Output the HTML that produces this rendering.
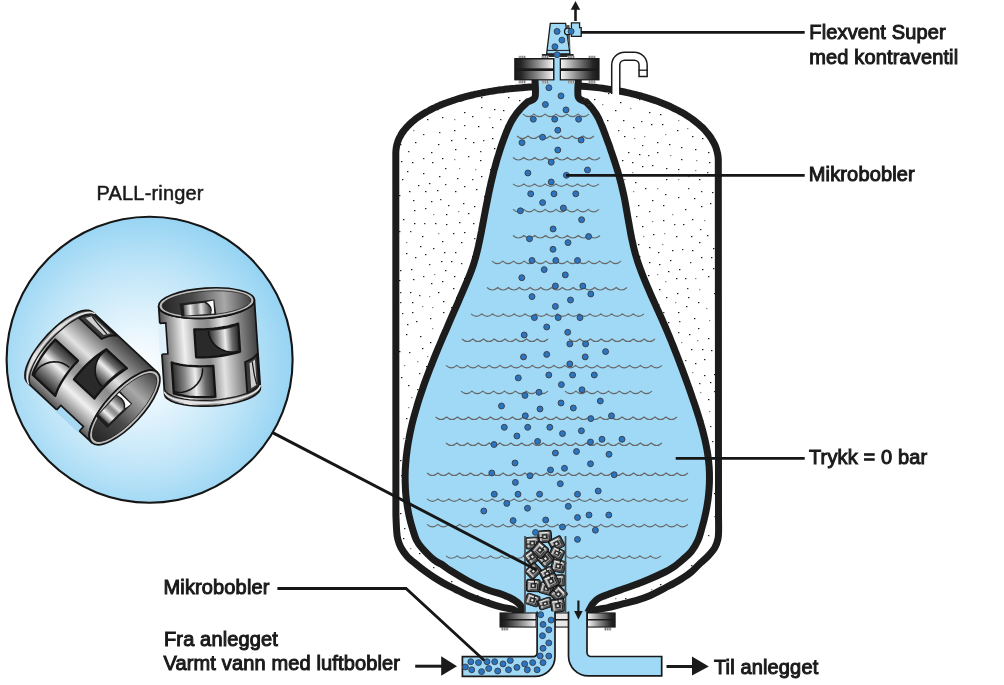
<!DOCTYPE html>
<html><head><meta charset="utf-8">
<style>
html,body{margin:0;padding:0;background:#ffffff;width:1004px;height:685px;overflow:hidden}
svg{display:block;will-change:transform}
text{font-family:"Liberation Sans",sans-serif;font-size:20px;fill:#1a1a1a}
.b{stroke:#1a1a1a;stroke-width:1px;letter-spacing:0.14px}
</style></head><body>
<svg width="1004" height="685" viewBox="0 0 1004 685">
<defs>
 <clipPath id="tankclip"><path d="M533.0,86.9 C532.0,87.0 528.9,87.1 526.9,87.2 C524.9,87.4 523.0,87.5 521.0,87.7 C519.0,87.8 517.1,88.0 515.2,88.2 C513.2,88.3 511.3,88.5 509.4,88.7 C507.5,88.9 505.7,89.2 503.8,89.4 C502.0,89.6 500.1,89.9 498.3,90.1 C496.5,90.4 494.7,90.7 492.9,91.0 C491.1,91.2 489.3,91.5 487.6,91.9 C485.8,92.2 484.1,92.5 482.4,92.8 C480.7,93.2 479.0,93.5 477.3,93.9 C475.6,94.2 474.0,94.6 472.3,95.0 C470.7,95.4 469.1,95.8 467.5,96.2 C465.9,96.6 464.3,97.0 462.8,97.5 C461.2,97.9 459.7,98.3 458.2,98.8 C456.7,99.3 455.2,99.7 453.7,100.2 C452.3,100.7 450.8,101.2 449.4,101.7 C448.0,102.2 446.6,102.7 445.2,103.2 C443.9,103.7 442.5,104.3 441.2,104.8 C439.9,105.4 438.6,105.9 437.3,106.5 C436.0,107.1 434.8,107.6 433.6,108.2 C432.4,108.8 431.2,109.4 430.0,110.0 C428.9,110.6 427.7,111.2 426.6,111.9 C425.5,112.5 424.4,113.1 423.4,113.8 C422.3,114.4 421.3,115.1 420.3,115.7 C419.3,116.4 418.3,117.1 417.4,117.7 C416.4,118.4 415.5,119.1 414.6,119.8 C413.8,120.5 412.9,121.2 412.1,121.9 C411.3,122.6 410.5,123.4 409.7,124.1 C408.9,124.8 408.2,125.6 407.5,126.3 C406.8,127.1 406.1,127.8 405.5,128.6 C404.9,129.3 404.2,130.1 403.7,130.9 C403.1,131.6 402.5,132.4 402.0,133.2 C401.5,134.0 401.0,134.8 400.6,135.6 C400.1,136.4 399.7,137.2 399.3,138.0 C398.9,138.9 398.6,139.7 398.2,140.5 C397.9,141.3 397.6,142.2 397.4,143.0 C397.1,143.9 396.9,144.7 396.7,145.6 C396.5,146.5 396.3,147.4 396.2,148.3 C396.1,149.2 396.0,150.0 395.9,151.0 C395.8,152.0 395.8,153.5 395.8,154.0 L395.9,515 C396.0,517.5 396.3,526.0 396.6,530.0 C396.9,534.0 397.0,535.9 397.7,538.8 C398.4,541.7 399.3,544.6 400.9,547.5 C402.5,550.4 404.5,553.5 407.1,556.3 C409.7,559.1 413.5,562.0 416.5,564.5 C419.5,567.0 422.1,569.1 425.0,571.2 C427.9,573.3 430.9,575.4 433.8,577.3 C436.7,579.2 439.1,580.6 442.6,582.6 C446.1,584.6 451.0,587.0 455.0,589.0 C459.0,591.0 462.8,593.1 466.7,594.9 C470.6,596.7 474.5,598.1 478.4,599.6 C482.3,601.1 486.1,602.4 490.0,603.6 C493.9,604.9 497.8,606.1 501.7,607.1 C505.6,608.1 510.7,608.5 513.4,609.5 C516.1,610.5 517.2,612.4 518.0,613.0 L590,613 C591.1,612.5 593.7,610.6 596.7,609.7 C599.7,608.8 603.7,608.5 607.9,607.6 C612.1,606.7 617.1,605.2 621.8,604.1 C626.4,603.0 631.1,602.1 635.8,600.7 C640.4,599.3 644.8,597.9 649.7,595.8 C654.6,593.7 661.0,590.1 665.0,588.0 C669.0,585.9 670.9,585.0 673.8,583.4 C676.7,581.8 679.6,580.1 682.5,578.2 C685.4,576.3 688.5,574.3 691.3,572.0 C694.0,569.7 696.2,567.1 699.0,564.5 C701.8,561.9 705.2,559.1 707.9,556.3 C710.5,553.5 713.2,550.4 714.9,547.5 C716.6,544.6 717.4,541.7 718.0,538.8 C718.6,535.9 718.5,534.0 718.6,530.0 C718.7,526.0 718.5,517.5 718.5,515.0 L718.3,161.1 C718.3,160.6 718.3,159.2 718.2,158.2 C718.1,157.3 718.0,156.4 717.9,155.4 C717.8,154.5 717.6,153.6 717.4,152.7 C717.2,151.8 716.9,150.8 716.7,149.9 C716.4,149.0 716.1,148.1 715.8,147.2 C715.4,146.3 715.1,145.4 714.7,144.5 C714.2,143.6 713.8,142.8 713.3,141.9 C712.9,141.0 712.4,140.1 711.8,139.3 C711.3,138.4 710.7,137.5 710.1,136.7 C709.5,135.8 708.9,134.9 708.2,134.1 C707.6,133.3 706.9,132.4 706.1,131.6 C705.4,130.7 704.7,129.9 703.9,129.1 C703.1,128.3 702.3,127.5 701.4,126.7 C700.6,125.9 699.7,125.1 698.8,124.3 C697.8,123.5 696.9,122.7 695.9,121.9 C695.0,121.2 694.0,120.4 692.9,119.6 C691.9,118.9 690.8,118.1 689.8,117.4 C688.7,116.7 687.6,115.9 686.4,115.2 C685.3,114.5 684.1,113.8 682.9,113.1 C681.7,112.4 680.5,111.7 679.2,111.1 C678.0,110.4 676.7,109.7 675.4,109.1 C674.1,108.4 672.8,107.8 671.4,107.1 C670.1,106.5 668.7,105.9 667.3,105.3 C665.9,104.7 664.5,104.1 663.1,103.5 C661.6,102.9 660.1,102.3 658.7,101.8 C657.2,101.2 655.7,100.7 654.1,100.1 C652.6,99.6 651.0,99.1 649.5,98.6 C647.9,98.1 646.3,97.6 644.7,97.1 C643.1,96.6 641.4,96.2 639.8,95.7 C638.1,95.3 636.5,94.8 634.8,94.4 C633.1,94.0 631.4,93.6 629.7,93.2 C628.0,92.8 626.2,92.4 624.5,92.0 C622.7,91.7 621.0,91.3 619.2,91.0 C617.4,90.6 615.6,90.3 613.8,90.0 C612.0,89.7 610.2,89.4 608.3,89.1 C606.5,88.8 604.7,88.6 602.8,88.3 C600.9,88.1 599.1,87.9 597.2,87.6 C595.3,87.4 593.4,87.2 591.5,87.0 C589.6,86.9 587.7,86.7 585.8,86.5 C583.9,86.4 581.0,86.2 580.0,86.1 Z"/></clipPath>
 <radialGradient id="circ" cx="140" cy="368" r="168" gradientUnits="userSpaceOnUse">
   <stop offset="0" stop-color="#ffffff"/><stop offset="0.25" stop-color="#e6f5fd"/><stop offset="0.6" stop-color="#bfe5f8"/><stop offset="0.85" stop-color="#9ed7f4"/><stop offset="1" stop-color="#8dcff1"/>
 </radialGradient>
 <linearGradient id="flL" x1="0" x2="1" y1="0" y2="0">
   <stop offset="0" stop-color="#1a1a1a"/><stop offset="0.15" stop-color="#262626"/><stop offset="0.6" stop-color="#8e8e8e"/><stop offset="1" stop-color="#f4f4f4"/>
 </linearGradient>
 <linearGradient id="flR" x1="0" x2="1" y1="0" y2="0">
   <stop offset="0" stop-color="#f4f4f4"/><stop offset="0.4" stop-color="#8e8e8e"/><stop offset="0.85" stop-color="#262626"/><stop offset="1" stop-color="#1a1a1a"/>
 </linearGradient>
 <linearGradient id="metal" x1="0" x2="1" y1="0" y2="0">
   <stop offset="0" stop-color="#505050"/><stop offset="0.08" stop-color="#8a8a8a"/><stop offset="0.24" stop-color="#f0f0f0"/>
   <stop offset="0.4" stop-color="#9a9a9a"/><stop offset="0.5" stop-color="#8c8c8c"/><stop offset="0.64" stop-color="#e2e2e2"/><stop offset="0.82" stop-color="#888888"/><stop offset="1" stop-color="#404040"/>
 </linearGradient>
  <linearGradient id="metalIn" x1="0" x2="1" y1="0" y2="0">
   <stop offset="0" stop-color="#262626"/><stop offset="0.35" stop-color="#4a4a4a"/><stop offset="0.7" stop-color="#a8a8a8"/><stop offset="1" stop-color="#444"/>
 </linearGradient>
 <radialGradient id="circfix1" cx="0" cy="0" r="1"><stop offset="0" stop-color="#a9d8f2"/><stop offset="1" stop-color="#a9d8f2"/></radialGradient>
 <radialGradient id="circfix2" cx="0" cy="0" r="1"><stop offset="0" stop-color="#dff1fb"/><stop offset="1" stop-color="#dff1fb"/></radialGradient>
 <linearGradient id="metalMini" x1="0" x2="1" y1="0" y2="0">
   <stop offset="0" stop-color="#2a2a2a"/><stop offset="0.25" stop-color="#bdbdbd"/><stop offset="0.45" stop-color="#5a5a5a"/><stop offset="0.65" stop-color="#c8c8c8"/><stop offset="1" stop-color="#2a2a2a"/>
 </linearGradient>
 <linearGradient id="metalD" x1="0" x2="1" y1="0" y2="0">
   <stop offset="0" stop-color="#2a2a2a"/><stop offset="0.3" stop-color="#8a8a8a"/><stop offset="0.55" stop-color="#eeeeee"/>
   <stop offset="0.78" stop-color="#6a6a6a"/><stop offset="1" stop-color="#2a2a2a"/>
 </linearGradient>
</defs>

<!-- tank body -->
<path d="M533.0,86.9 C532.0,87.0 528.9,87.1 526.9,87.2 C524.9,87.4 523.0,87.5 521.0,87.7 C519.0,87.8 517.1,88.0 515.2,88.2 C513.2,88.3 511.3,88.5 509.4,88.7 C507.5,88.9 505.7,89.2 503.8,89.4 C502.0,89.6 500.1,89.9 498.3,90.1 C496.5,90.4 494.7,90.7 492.9,91.0 C491.1,91.2 489.3,91.5 487.6,91.9 C485.8,92.2 484.1,92.5 482.4,92.8 C480.7,93.2 479.0,93.5 477.3,93.9 C475.6,94.2 474.0,94.6 472.3,95.0 C470.7,95.4 469.1,95.8 467.5,96.2 C465.9,96.6 464.3,97.0 462.8,97.5 C461.2,97.9 459.7,98.3 458.2,98.8 C456.7,99.3 455.2,99.7 453.7,100.2 C452.3,100.7 450.8,101.2 449.4,101.7 C448.0,102.2 446.6,102.7 445.2,103.2 C443.9,103.7 442.5,104.3 441.2,104.8 C439.9,105.4 438.6,105.9 437.3,106.5 C436.0,107.1 434.8,107.6 433.6,108.2 C432.4,108.8 431.2,109.4 430.0,110.0 C428.9,110.6 427.7,111.2 426.6,111.9 C425.5,112.5 424.4,113.1 423.4,113.8 C422.3,114.4 421.3,115.1 420.3,115.7 C419.3,116.4 418.3,117.1 417.4,117.7 C416.4,118.4 415.5,119.1 414.6,119.8 C413.8,120.5 412.9,121.2 412.1,121.9 C411.3,122.6 410.5,123.4 409.7,124.1 C408.9,124.8 408.2,125.6 407.5,126.3 C406.8,127.1 406.1,127.8 405.5,128.6 C404.9,129.3 404.2,130.1 403.7,130.9 C403.1,131.6 402.5,132.4 402.0,133.2 C401.5,134.0 401.0,134.8 400.6,135.6 C400.1,136.4 399.7,137.2 399.3,138.0 C398.9,138.9 398.6,139.7 398.2,140.5 C397.9,141.3 397.6,142.2 397.4,143.0 C397.1,143.9 396.9,144.7 396.7,145.6 C396.5,146.5 396.3,147.4 396.2,148.3 C396.1,149.2 396.0,150.0 395.9,151.0 C395.8,152.0 395.8,153.5 395.8,154.0 L395.9,515 C396.0,517.5 396.3,526.0 396.6,530.0 C396.9,534.0 397.0,535.9 397.7,538.8 C398.4,541.7 399.3,544.6 400.9,547.5 C402.5,550.4 404.5,553.5 407.1,556.3 C409.7,559.1 413.5,562.0 416.5,564.5 C419.5,567.0 422.1,569.1 425.0,571.2 C427.9,573.3 430.9,575.4 433.8,577.3 C436.7,579.2 439.1,580.6 442.6,582.6 C446.1,584.6 451.0,587.0 455.0,589.0 C459.0,591.0 462.8,593.1 466.7,594.9 C470.6,596.7 474.5,598.1 478.4,599.6 C482.3,601.1 486.1,602.4 490.0,603.6 C493.9,604.9 497.8,606.1 501.7,607.1 C505.6,608.1 510.7,608.5 513.4,609.5 C516.1,610.5 517.2,612.4 518.0,613.0 L590,613 C591.1,612.5 593.7,610.6 596.7,609.7 C599.7,608.8 603.7,608.5 607.9,607.6 C612.1,606.7 617.1,605.2 621.8,604.1 C626.4,603.0 631.1,602.1 635.8,600.7 C640.4,599.3 644.8,597.9 649.7,595.8 C654.6,593.7 661.0,590.1 665.0,588.0 C669.0,585.9 670.9,585.0 673.8,583.4 C676.7,581.8 679.6,580.1 682.5,578.2 C685.4,576.3 688.5,574.3 691.3,572.0 C694.0,569.7 696.2,567.1 699.0,564.5 C701.8,561.9 705.2,559.1 707.9,556.3 C710.5,553.5 713.2,550.4 714.9,547.5 C716.6,544.6 717.4,541.7 718.0,538.8 C718.6,535.9 718.5,534.0 718.6,530.0 C718.7,526.0 718.5,517.5 718.5,515.0 L718.3,161.1 C718.3,160.6 718.3,159.2 718.2,158.2 C718.1,157.3 718.0,156.4 717.9,155.4 C717.8,154.5 717.6,153.6 717.4,152.7 C717.2,151.8 716.9,150.8 716.7,149.9 C716.4,149.0 716.1,148.1 715.8,147.2 C715.4,146.3 715.1,145.4 714.7,144.5 C714.2,143.6 713.8,142.8 713.3,141.9 C712.9,141.0 712.4,140.1 711.8,139.3 C711.3,138.4 710.7,137.5 710.1,136.7 C709.5,135.8 708.9,134.9 708.2,134.1 C707.6,133.3 706.9,132.4 706.1,131.6 C705.4,130.7 704.7,129.9 703.9,129.1 C703.1,128.3 702.3,127.5 701.4,126.7 C700.6,125.9 699.7,125.1 698.8,124.3 C697.8,123.5 696.9,122.7 695.9,121.9 C695.0,121.2 694.0,120.4 692.9,119.6 C691.9,118.9 690.8,118.1 689.8,117.4 C688.7,116.7 687.6,115.9 686.4,115.2 C685.3,114.5 684.1,113.8 682.9,113.1 C681.7,112.4 680.5,111.7 679.2,111.1 C678.0,110.4 676.7,109.7 675.4,109.1 C674.1,108.4 672.8,107.8 671.4,107.1 C670.1,106.5 668.7,105.9 667.3,105.3 C665.9,104.7 664.5,104.1 663.1,103.5 C661.6,102.9 660.1,102.3 658.7,101.8 C657.2,101.2 655.7,100.7 654.1,100.1 C652.6,99.6 651.0,99.1 649.5,98.6 C647.9,98.1 646.3,97.6 644.7,97.1 C643.1,96.6 641.4,96.2 639.8,95.7 C638.1,95.3 636.5,94.8 634.8,94.4 C633.1,94.0 631.4,93.6 629.7,93.2 C628.0,92.8 626.2,92.4 624.5,92.0 C622.7,91.7 621.0,91.3 619.2,91.0 C617.4,90.6 615.6,90.3 613.8,90.0 C612.0,89.7 610.2,89.4 608.3,89.1 C606.5,88.8 604.7,88.6 602.8,88.3 C600.9,88.1 599.1,87.9 597.2,87.6 C595.3,87.4 593.4,87.2 591.5,87.0 C589.6,86.9 587.7,86.7 585.8,86.5 C583.9,86.4 581.0,86.2 580.0,86.1 Z" fill="#ffffff"/>
<g clip-path="url(#tankclip)" fill="#1a1a1a"><rect x="498" y="162" width="1.4" height="1.2" fill="#333333"/><rect x="607" y="120" width="1.4" height="1.2" fill="#1a1a1a"/><rect x="568" y="277" width="1.4" height="1.2" fill="#1a1a1a"/><rect x="409" y="352" width="1.4" height="1.2" fill="#333333"/><rect x="402" y="313" width="1.4" height="1.2" fill="#333333"/><rect x="413" y="130" width="1.4" height="1.2" fill="#8a8a8a"/><rect x="531" y="523" width="1.4" height="1.2" fill="#333333"/><rect x="431" y="201" width="1.4" height="1.2" fill="#1a1a1a"/><rect x="599" y="588" width="1.4" height="1.2" fill="#1a1a1a"/><rect x="582" y="293" width="1.4" height="1.2" fill="#8a8a8a"/><rect x="716" y="106" width="1.4" height="1.2" fill="#1a1a1a"/><rect x="676" y="236" width="1.4" height="1.2" fill="#1a1a1a"/><rect x="438" y="144" width="1.4" height="1.2" fill="#1a1a1a"/><rect x="493" y="517" width="1.4" height="1.2" fill="#333333"/><rect x="450" y="392" width="1.4" height="1.2" fill="#1a1a1a"/><rect x="603" y="280" width="1.4" height="1.2" fill="#1a1a1a"/><rect x="572" y="115" width="1.4" height="1.2" fill="#1a1a1a"/><rect x="409" y="191" width="1.4" height="1.2" fill="#1a1a1a"/><rect x="617" y="310" width="1.4" height="1.2" fill="#333333"/><rect x="494" y="394" width="1.4" height="1.2" fill="#8a8a8a"/><rect x="541" y="242" width="1.4" height="1.2" fill="#1a1a1a"/><rect x="655" y="455" width="1.4" height="1.2" fill="#333333"/><rect x="471" y="388" width="1.4" height="1.2" fill="#333333"/><rect x="565" y="549" width="1.4" height="1.2" fill="#1a1a1a"/><rect x="633" y="235" width="1.4" height="1.2" fill="#1a1a1a"/><rect x="717" y="145" width="1.4" height="1.2" fill="#1a1a1a"/><rect x="529" y="486" width="1.4" height="1.2" fill="#1a1a1a"/><rect x="440" y="343" width="1.4" height="1.2" fill="#8a8a8a"/><rect x="403" y="438" width="1.4" height="1.2" fill="#8a8a8a"/><rect x="645" y="387" width="1.4" height="1.2" fill="#333333"/><rect x="682" y="249" width="1.4" height="1.2" fill="#333333"/><rect x="622" y="399" width="1.4" height="1.2" fill="#8a8a8a"/><rect x="583" y="325" width="1.4" height="1.2" fill="#333333"/><rect x="670" y="586" width="1.4" height="1.2" fill="#1a1a1a"/><rect x="548" y="436" width="1.4" height="1.2" fill="#1a1a1a"/><rect x="410" y="456" width="1.4" height="1.2" fill="#1a1a1a"/><rect x="606" y="612" width="1.4" height="1.2" fill="#1a1a1a"/><rect x="664" y="233" width="1.4" height="1.2" fill="#8a8a8a"/><rect x="518" y="439" width="1.4" height="1.2" fill="#1a1a1a"/><rect x="397" y="328" width="1.4" height="1.2" fill="#8a8a8a"/><rect x="409" y="492" width="1.4" height="1.2" fill="#1a1a1a"/><rect x="433" y="214" width="1.4" height="1.2" fill="#8a8a8a"/><rect x="520" y="547" width="1.4" height="1.2" fill="#8a8a8a"/><rect x="416" y="321" width="1.4" height="1.2" fill="#1a1a1a"/><rect x="663" y="543" width="1.4" height="1.2" fill="#8a8a8a"/><rect x="482" y="303" width="1.4" height="1.2" fill="#1a1a1a"/><rect x="509" y="554" width="1.4" height="1.2" fill="#8a8a8a"/><rect x="709" y="162" width="1.4" height="1.2" fill="#1a1a1a"/><rect x="448" y="205" width="1.4" height="1.2" fill="#1a1a1a"/><rect x="467" y="340" width="1.4" height="1.2" fill="#1a1a1a"/><rect x="586" y="222" width="1.4" height="1.2" fill="#8a8a8a"/><rect x="391" y="305" width="1.4" height="1.2" fill="#1a1a1a"/><rect x="513" y="384" width="1.4" height="1.2" fill="#8a8a8a"/><rect x="708" y="450" width="1.4" height="1.2" fill="#1a1a1a"/><rect x="562" y="411" width="1.4" height="1.2" fill="#1a1a1a"/><rect x="615" y="110" width="1.4" height="1.2" fill="#1a1a1a"/><rect x="690" y="498" width="1.4" height="1.2" fill="#8a8a8a"/><rect x="682" y="508" width="1.4" height="1.2" fill="#8a8a8a"/><rect x="521" y="295" width="1.4" height="1.2" fill="#1a1a1a"/><rect x="424" y="420" width="1.4" height="1.2" fill="#333333"/><rect x="410" y="117" width="1.4" height="1.2" fill="#1a1a1a"/><rect x="459" y="168" width="1.4" height="1.2" fill="#8a8a8a"/><rect x="503" y="110" width="1.4" height="1.2" fill="#1a1a1a"/><rect x="390" y="162" width="1.4" height="1.2" fill="#1a1a1a"/><rect x="423" y="276" width="1.4" height="1.2" fill="#333333"/><rect x="398" y="548" width="1.4" height="1.2" fill="#1a1a1a"/><rect x="595" y="161" width="1.4" height="1.2" fill="#8a8a8a"/><rect x="474" y="267" width="1.4" height="1.2" fill="#8a8a8a"/><rect x="511" y="147" width="1.4" height="1.2" fill="#8a8a8a"/><rect x="673" y="612" width="1.4" height="1.2" fill="#8a8a8a"/><rect x="545" y="340" width="1.4" height="1.2" fill="#1a1a1a"/><rect x="504" y="223" width="1.4" height="1.2" fill="#1a1a1a"/><rect x="666" y="168" width="1.4" height="1.2" fill="#1a1a1a"/><rect x="397" y="589" width="1.4" height="1.2" fill="#1a1a1a"/><rect x="566" y="160" width="1.4" height="1.2" fill="#1a1a1a"/><rect x="571" y="96" width="1.4" height="1.2" fill="#1a1a1a"/><rect x="566" y="604" width="1.4" height="1.2" fill="#333333"/><rect x="678" y="453" width="1.4" height="1.2" fill="#1a1a1a"/><rect x="477" y="277" width="1.4" height="1.2" fill="#1a1a1a"/><rect x="445" y="494" width="1.4" height="1.2" fill="#1a1a1a"/><rect x="567" y="498" width="1.4" height="1.2" fill="#8a8a8a"/><rect x="500" y="201" width="1.4" height="1.2" fill="#333333"/><rect x="661" y="607" width="1.4" height="1.2" fill="#333333"/><rect x="663" y="477" width="1.4" height="1.2" fill="#1a1a1a"/><rect x="465" y="358" width="1.4" height="1.2" fill="#1a1a1a"/><rect x="508" y="97" width="1.4" height="1.2" fill="#1a1a1a"/><rect x="399" y="231" width="1.4" height="1.2" fill="#333333"/><rect x="476" y="451" width="1.4" height="1.2" fill="#1a1a1a"/><rect x="709" y="320" width="1.4" height="1.2" fill="#8a8a8a"/><rect x="702" y="609" width="1.4" height="1.2" fill="#333333"/><rect x="708" y="276" width="1.4" height="1.2" fill="#1a1a1a"/><rect x="463" y="203" width="1.4" height="1.2" fill="#1a1a1a"/><rect x="455" y="191" width="1.4" height="1.2" fill="#1a1a1a"/><rect x="598" y="562" width="1.4" height="1.2" fill="#1a1a1a"/><rect x="670" y="338" width="1.4" height="1.2" fill="#1a1a1a"/><rect x="608" y="509" width="1.4" height="1.2" fill="#1a1a1a"/><rect x="418" y="434" width="1.4" height="1.2" fill="#1a1a1a"/><rect x="640" y="337" width="1.4" height="1.2" fill="#1a1a1a"/><rect x="449" y="503" width="1.4" height="1.2" fill="#333333"/><rect x="501" y="509" width="1.4" height="1.2" fill="#8a8a8a"/><rect x="714" y="293" width="1.4" height="1.2" fill="#1a1a1a"/><rect x="524" y="587" width="1.4" height="1.2" fill="#1a1a1a"/><rect x="632" y="172" width="1.4" height="1.2" fill="#8a8a8a"/><rect x="432" y="162" width="1.4" height="1.2" fill="#1a1a1a"/><rect x="692" y="512" width="1.4" height="1.2" fill="#1a1a1a"/><rect x="438" y="523" width="1.4" height="1.2" fill="#8a8a8a"/><rect x="717" y="432" width="1.4" height="1.2" fill="#1a1a1a"/><rect x="507" y="374" width="1.4" height="1.2" fill="#8a8a8a"/><rect x="433" y="89" width="1.4" height="1.2" fill="#333333"/><rect x="565" y="580" width="1.4" height="1.2" fill="#333333"/><rect x="534" y="547" width="1.4" height="1.2" fill="#1a1a1a"/><rect x="665" y="194" width="1.4" height="1.2" fill="#1a1a1a"/><rect x="474" y="238" width="1.4" height="1.2" fill="#333333"/><rect x="433" y="567" width="1.4" height="1.2" fill="#333333"/><rect x="508" y="326" width="1.4" height="1.2" fill="#333333"/><rect x="584" y="564" width="1.4" height="1.2" fill="#1a1a1a"/><rect x="530" y="572" width="1.4" height="1.2" fill="#333333"/><rect x="557" y="365" width="1.4" height="1.2" fill="#1a1a1a"/><rect x="537" y="179" width="1.4" height="1.2" fill="#1a1a1a"/><rect x="391" y="508" width="1.4" height="1.2" fill="#8a8a8a"/><rect x="447" y="334" width="1.4" height="1.2" fill="#333333"/><rect x="632" y="379" width="1.4" height="1.2" fill="#1a1a1a"/><rect x="498" y="358" width="1.4" height="1.2" fill="#1a1a1a"/><rect x="425" y="381" width="1.4" height="1.2" fill="#1a1a1a"/><rect x="647" y="353" width="1.4" height="1.2" fill="#1a1a1a"/><rect x="577" y="487" width="1.4" height="1.2" fill="#1a1a1a"/><rect x="694" y="318" width="1.4" height="1.2" fill="#1a1a1a"/><rect x="594" y="351" width="1.4" height="1.2" fill="#1a1a1a"/><rect x="561" y="451" width="1.4" height="1.2" fill="#8a8a8a"/><rect x="541" y="366" width="1.4" height="1.2" fill="#1a1a1a"/><rect x="549" y="584" width="1.4" height="1.2" fill="#1a1a1a"/><rect x="623" y="550" width="1.4" height="1.2" fill="#1a1a1a"/><rect x="704" y="220" width="1.4" height="1.2" fill="#8a8a8a"/><rect x="576" y="585" width="1.4" height="1.2" fill="#1a1a1a"/><rect x="670" y="155" width="1.4" height="1.2" fill="#8a8a8a"/><rect x="430" y="318" width="1.4" height="1.2" fill="#333333"/><rect x="414" y="210" width="1.4" height="1.2" fill="#1a1a1a"/><rect x="651" y="561" width="1.4" height="1.2" fill="#1a1a1a"/><rect x="441" y="464" width="1.4" height="1.2" fill="#1a1a1a"/><rect x="610" y="158" width="1.4" height="1.2" fill="#8a8a8a"/><rect x="684" y="598" width="1.4" height="1.2" fill="#8a8a8a"/><rect x="463" y="590" width="1.4" height="1.2" fill="#1a1a1a"/><rect x="523" y="342" width="1.4" height="1.2" fill="#8a8a8a"/><rect x="720" y="526" width="1.4" height="1.2" fill="#333333"/><rect x="443" y="312" width="1.4" height="1.2" fill="#1a1a1a"/><rect x="562" y="263" width="1.4" height="1.2" fill="#8a8a8a"/><rect x="455" y="252" width="1.4" height="1.2" fill="#1a1a1a"/><rect x="631" y="92" width="1.4" height="1.2" fill="#1a1a1a"/><rect x="575" y="317" width="1.4" height="1.2" fill="#333333"/><rect x="396" y="259" width="1.4" height="1.2" fill="#1a1a1a"/><rect x="411" y="608" width="1.4" height="1.2" fill="#333333"/><rect x="653" y="600" width="1.4" height="1.2" fill="#8a8a8a"/><rect x="424" y="223" width="1.4" height="1.2" fill="#333333"/><rect x="480" y="151" width="1.4" height="1.2" fill="#333333"/><rect x="663" y="220" width="1.4" height="1.2" fill="#1a1a1a"/><rect x="580" y="456" width="1.4" height="1.2" fill="#1a1a1a"/><rect x="419" y="112" width="1.4" height="1.2" fill="#333333"/><rect x="414" y="583" width="1.4" height="1.2" fill="#1a1a1a"/><rect x="417" y="539" width="1.4" height="1.2" fill="#1a1a1a"/><rect x="541" y="263" width="1.4" height="1.2" fill="#1a1a1a"/><rect x="565" y="209" width="1.4" height="1.2" fill="#1a1a1a"/><rect x="494" y="244" width="1.4" height="1.2" fill="#333333"/><rect x="643" y="236" width="1.4" height="1.2" fill="#8a8a8a"/><rect x="557" y="176" width="1.4" height="1.2" fill="#1a1a1a"/><rect x="473" y="90" width="1.4" height="1.2" fill="#1a1a1a"/><rect x="702" y="138" width="1.4" height="1.2" fill="#1a1a1a"/><rect x="663" y="312" width="1.4" height="1.2" fill="#333333"/><rect x="555" y="527" width="1.4" height="1.2" fill="#1a1a1a"/><rect x="521" y="352" width="1.4" height="1.2" fill="#1a1a1a"/><rect x="619" y="606" width="1.4" height="1.2" fill="#333333"/><rect x="504" y="526" width="1.4" height="1.2" fill="#333333"/><rect x="626" y="421" width="1.4" height="1.2" fill="#1a1a1a"/><rect x="525" y="267" width="1.4" height="1.2" fill="#1a1a1a"/><rect x="408" y="151" width="1.4" height="1.2" fill="#333333"/><rect x="413" y="477" width="1.4" height="1.2" fill="#1a1a1a"/><rect x="475" y="169" width="1.4" height="1.2" fill="#8a8a8a"/><rect x="680" y="440" width="1.4" height="1.2" fill="#1a1a1a"/><rect x="484" y="211" width="1.4" height="1.2" fill="#1a1a1a"/><rect x="487" y="327" width="1.4" height="1.2" fill="#1a1a1a"/><rect x="477" y="595" width="1.4" height="1.2" fill="#1a1a1a"/><rect x="714" y="374" width="1.4" height="1.2" fill="#1a1a1a"/><rect x="493" y="272" width="1.4" height="1.2" fill="#333333"/><rect x="390" y="285" width="1.4" height="1.2" fill="#333333"/><rect x="548" y="350" width="1.4" height="1.2" fill="#8a8a8a"/><rect x="457" y="351" width="1.4" height="1.2" fill="#1a1a1a"/><rect x="391" y="223" width="1.4" height="1.2" fill="#1a1a1a"/><rect x="419" y="295" width="1.4" height="1.2" fill="#333333"/><rect x="403" y="94" width="1.4" height="1.2" fill="#1a1a1a"/><rect x="585" y="364" width="1.4" height="1.2" fill="#8a8a8a"/><rect x="640" y="433" width="1.4" height="1.2" fill="#1a1a1a"/><rect x="520" y="256" width="1.4" height="1.2" fill="#333333"/><rect x="404" y="528" width="1.4" height="1.2" fill="#333333"/><rect x="687" y="416" width="1.4" height="1.2" fill="#1a1a1a"/><rect x="635" y="515" width="1.4" height="1.2" fill="#1a1a1a"/><rect x="436" y="361" width="1.4" height="1.2" fill="#8a8a8a"/><rect x="658" y="523" width="1.4" height="1.2" fill="#1a1a1a"/><rect x="618" y="452" width="1.4" height="1.2" fill="#1a1a1a"/><rect x="466" y="98" width="1.4" height="1.2" fill="#1a1a1a"/><rect x="434" y="274" width="1.4" height="1.2" fill="#8a8a8a"/><rect x="425" y="528" width="1.4" height="1.2" fill="#1a1a1a"/><rect x="576" y="417" width="1.4" height="1.2" fill="#1a1a1a"/><rect x="599" y="445" width="1.4" height="1.2" fill="#1a1a1a"/><rect x="553" y="83" width="1.4" height="1.2" fill="#1a1a1a"/><rect x="636" y="216" width="1.4" height="1.2" fill="#333333"/><rect x="414" y="223" width="1.4" height="1.2" fill="#1a1a1a"/><rect x="633" y="191" width="1.4" height="1.2" fill="#8a8a8a"/><rect x="637" y="603" width="1.4" height="1.2" fill="#1a1a1a"/><rect x="554" y="286" width="1.4" height="1.2" fill="#1a1a1a"/><rect x="549" y="447" width="1.4" height="1.2" fill="#333333"/><rect x="646" y="411" width="1.4" height="1.2" fill="#1a1a1a"/><rect x="638" y="244" width="1.4" height="1.2" fill="#1a1a1a"/><rect x="579" y="88" width="1.4" height="1.2" fill="#8a8a8a"/><rect x="615" y="237" width="1.4" height="1.2" fill="#1a1a1a"/><rect x="562" y="330" width="1.4" height="1.2" fill="#1a1a1a"/><rect x="545" y="145" width="1.4" height="1.2" fill="#1a1a1a"/><rect x="688" y="188" width="1.4" height="1.2" fill="#333333"/><rect x="716" y="581" width="1.4" height="1.2" fill="#333333"/><rect x="663" y="598" width="1.4" height="1.2" fill="#8a8a8a"/><rect x="540" y="225" width="1.4" height="1.2" fill="#333333"/><rect x="460" y="392" width="1.4" height="1.2" fill="#1a1a1a"/><rect x="708" y="152" width="1.4" height="1.2" fill="#1a1a1a"/><rect x="663" y="353" width="1.4" height="1.2" fill="#1a1a1a"/><rect x="467" y="561" width="1.4" height="1.2" fill="#333333"/><rect x="552" y="95" width="1.4" height="1.2" fill="#1a1a1a"/><rect x="391" y="344" width="1.4" height="1.2" fill="#1a1a1a"/><rect x="495" y="530" width="1.4" height="1.2" fill="#8a8a8a"/><rect x="390" y="482" width="1.4" height="1.2" fill="#333333"/><rect x="699" y="462" width="1.4" height="1.2" fill="#333333"/><rect x="691" y="236" width="1.4" height="1.2" fill="#1a1a1a"/><rect x="723" y="396" width="1.4" height="1.2" fill="#1a1a1a"/><rect x="510" y="310" width="1.4" height="1.2" fill="#333333"/><rect x="481" y="107" width="1.4" height="1.2" fill="#333333"/><rect x="485" y="581" width="1.4" height="1.2" fill="#333333"/><rect x="473" y="223" width="1.4" height="1.2" fill="#1a1a1a"/><rect x="514" y="592" width="1.4" height="1.2" fill="#1a1a1a"/><rect x="704" y="375" width="1.4" height="1.2" fill="#1a1a1a"/><rect x="630" y="108" width="1.4" height="1.2" fill="#8a8a8a"/><rect x="634" y="322" width="1.4" height="1.2" fill="#1a1a1a"/><rect x="489" y="476" width="1.4" height="1.2" fill="#8a8a8a"/><rect x="716" y="220" width="1.4" height="1.2" fill="#1a1a1a"/><rect x="445" y="168" width="1.4" height="1.2" fill="#1a1a1a"/><rect x="556" y="199" width="1.4" height="1.2" fill="#8a8a8a"/><rect x="692" y="614" width="1.4" height="1.2" fill="#1a1a1a"/><rect x="540" y="156" width="1.4" height="1.2" fill="#8a8a8a"/><rect x="454" y="130" width="1.4" height="1.2" fill="#1a1a1a"/><rect x="504" y="130" width="1.4" height="1.2" fill="#8a8a8a"/><rect x="580" y="555" width="1.4" height="1.2" fill="#8a8a8a"/><rect x="640" y="302" width="1.4" height="1.2" fill="#1a1a1a"/><rect x="528" y="361" width="1.4" height="1.2" fill="#1a1a1a"/><rect x="678" y="197" width="1.4" height="1.2" fill="#333333"/><rect x="523" y="320" width="1.4" height="1.2" fill="#1a1a1a"/><rect x="708" y="535" width="1.4" height="1.2" fill="#333333"/><rect x="681" y="93" width="1.4" height="1.2" fill="#8a8a8a"/><rect x="400" y="460" width="1.4" height="1.2" fill="#1a1a1a"/><rect x="689" y="334" width="1.4" height="1.2" fill="#1a1a1a"/><rect x="520" y="576" width="1.4" height="1.2" fill="#1a1a1a"/><rect x="606" y="490" width="1.4" height="1.2" fill="#1a1a1a"/><rect x="542" y="376" width="1.4" height="1.2" fill="#1a1a1a"/><rect x="403" y="499" width="1.4" height="1.2" fill="#1a1a1a"/><rect x="467" y="573" width="1.4" height="1.2" fill="#1a1a1a"/><rect x="605" y="244" width="1.4" height="1.2" fill="#8a8a8a"/><rect x="602" y="455" width="1.4" height="1.2" fill="#8a8a8a"/><rect x="427" y="119" width="1.4" height="1.2" fill="#1a1a1a"/><rect x="565" y="393" width="1.4" height="1.2" fill="#8a8a8a"/><rect x="519" y="201" width="1.4" height="1.2" fill="#1a1a1a"/><rect x="590" y="87" width="1.4" height="1.2" fill="#1a1a1a"/><rect x="710" y="426" width="1.4" height="1.2" fill="#333333"/><rect x="468" y="213" width="1.4" height="1.2" fill="#1a1a1a"/><rect x="492" y="93" width="1.4" height="1.2" fill="#8a8a8a"/><rect x="530" y="219" width="1.4" height="1.2" fill="#8a8a8a"/><rect x="612" y="576" width="1.4" height="1.2" fill="#1a1a1a"/><rect x="617" y="187" width="1.4" height="1.2" fill="#1a1a1a"/><rect x="713" y="248" width="1.4" height="1.2" fill="#1a1a1a"/><rect x="663" y="205" width="1.4" height="1.2" fill="#1a1a1a"/><rect x="463" y="488" width="1.4" height="1.2" fill="#1a1a1a"/><rect x="464" y="304" width="1.4" height="1.2" fill="#1a1a1a"/><rect x="612" y="588" width="1.4" height="1.2" fill="#333333"/><rect x="438" y="292" width="1.4" height="1.2" fill="#1a1a1a"/><rect x="461" y="602" width="1.4" height="1.2" fill="#1a1a1a"/><rect x="437" y="109" width="1.4" height="1.2" fill="#1a1a1a"/><rect x="410" y="292" width="1.4" height="1.2" fill="#1a1a1a"/><rect x="689" y="553" width="1.4" height="1.2" fill="#333333"/><rect x="634" y="614" width="1.4" height="1.2" fill="#1a1a1a"/><rect x="701" y="257" width="1.4" height="1.2" fill="#1a1a1a"/><rect x="451" y="581" width="1.4" height="1.2" fill="#1a1a1a"/><rect x="639" y="99" width="1.4" height="1.2" fill="#1a1a1a"/><rect x="446" y="83" width="1.4" height="1.2" fill="#8a8a8a"/><rect x="483" y="269" width="1.4" height="1.2" fill="#1a1a1a"/><rect x="712" y="192" width="1.4" height="1.2" fill="#1a1a1a"/><rect x="406" y="334" width="1.4" height="1.2" fill="#1a1a1a"/><rect x="454" y="276" width="1.4" height="1.2" fill="#1a1a1a"/><rect x="401" y="115" width="1.4" height="1.2" fill="#8a8a8a"/><rect x="639" y="561" width="1.4" height="1.2" fill="#8a8a8a"/><rect x="709" y="411" width="1.4" height="1.2" fill="#8a8a8a"/><rect x="477" y="464" width="1.4" height="1.2" fill="#1a1a1a"/><rect x="495" y="229" width="1.4" height="1.2" fill="#1a1a1a"/><rect x="705" y="94" width="1.4" height="1.2" fill="#333333"/><rect x="709" y="591" width="1.4" height="1.2" fill="#333333"/><rect x="519" y="216" width="1.4" height="1.2" fill="#8a8a8a"/><rect x="533" y="345" width="1.4" height="1.2" fill="#1a1a1a"/><rect x="699" y="179" width="1.4" height="1.2" fill="#1a1a1a"/><rect x="664" y="494" width="1.4" height="1.2" fill="#333333"/><rect x="592" y="257" width="1.4" height="1.2" fill="#1a1a1a"/><rect x="651" y="124" width="1.4" height="1.2" fill="#1a1a1a"/><rect x="472" y="116" width="1.4" height="1.2" fill="#1a1a1a"/><rect x="401" y="377" width="1.4" height="1.2" fill="#1a1a1a"/><rect x="498" y="605" width="1.4" height="1.2" fill="#1a1a1a"/><rect x="478" y="126" width="1.4" height="1.2" fill="#1a1a1a"/><rect x="422" y="348" width="1.4" height="1.2" fill="#1a1a1a"/><rect x="639" y="534" width="1.4" height="1.2" fill="#8a8a8a"/><rect x="611" y="146" width="1.4" height="1.2" fill="#8a8a8a"/><rect x="579" y="281" width="1.4" height="1.2" fill="#1a1a1a"/><rect x="441" y="554" width="1.4" height="1.2" fill="#1a1a1a"/><rect x="583" y="256" width="1.4" height="1.2" fill="#8a8a8a"/><rect x="522" y="611" width="1.4" height="1.2" fill="#1a1a1a"/><rect x="660" y="430" width="1.4" height="1.2" fill="#1a1a1a"/><rect x="548" y="519" width="1.4" height="1.2" fill="#333333"/><rect x="670" y="570" width="1.4" height="1.2" fill="#333333"/><rect x="429" y="183" width="1.4" height="1.2" fill="#1a1a1a"/><rect x="679" y="321" width="1.4" height="1.2" fill="#333333"/><rect x="476" y="497" width="1.4" height="1.2" fill="#333333"/><rect x="589" y="413" width="1.4" height="1.2" fill="#1a1a1a"/><rect x="437" y="190" width="1.4" height="1.2" fill="#1a1a1a"/><rect x="475" y="402" width="1.4" height="1.2" fill="#1a1a1a"/><rect x="607" y="190" width="1.4" height="1.2" fill="#1a1a1a"/><rect x="494" y="190" width="1.4" height="1.2" fill="#8a8a8a"/><rect x="655" y="374" width="1.4" height="1.2" fill="#8a8a8a"/><rect x="522" y="375" width="1.4" height="1.2" fill="#1a1a1a"/><rect x="603" y="130" width="1.4" height="1.2" fill="#1a1a1a"/><rect x="444" y="453" width="1.4" height="1.2" fill="#1a1a1a"/><rect x="526" y="233" width="1.4" height="1.2" fill="#1a1a1a"/><rect x="492" y="591" width="1.4" height="1.2" fill="#1a1a1a"/><rect x="494" y="384" width="1.4" height="1.2" fill="#8a8a8a"/><rect x="511" y="187" width="1.4" height="1.2" fill="#333333"/><rect x="391" y="563" width="1.4" height="1.2" fill="#8a8a8a"/><rect x="543" y="168" width="1.4" height="1.2" fill="#8a8a8a"/><rect x="438" y="233" width="1.4" height="1.2" fill="#8a8a8a"/><rect x="455" y="149" width="1.4" height="1.2" fill="#1a1a1a"/><rect x="551" y="110" width="1.4" height="1.2" fill="#333333"/><rect x="699" y="289" width="1.4" height="1.2" fill="#8a8a8a"/><rect x="652" y="200" width="1.4" height="1.2" fill="#1a1a1a"/><rect x="525" y="533" width="1.4" height="1.2" fill="#333333"/><rect x="666" y="179" width="1.4" height="1.2" fill="#1a1a1a"/><rect x="669" y="144" width="1.4" height="1.2" fill="#1a1a1a"/><rect x="590" y="375" width="1.4" height="1.2" fill="#1a1a1a"/><rect x="530" y="393" width="1.4" height="1.2" fill="#1a1a1a"/><rect x="532" y="433" width="1.4" height="1.2" fill="#8a8a8a"/><rect x="539" y="316" width="1.4" height="1.2" fill="#8a8a8a"/><rect x="397" y="412" width="1.4" height="1.2" fill="#1a1a1a"/><rect x="645" y="498" width="1.4" height="1.2" fill="#1a1a1a"/><rect x="560" y="103" width="1.4" height="1.2" fill="#1a1a1a"/><rect x="634" y="497" width="1.4" height="1.2" fill="#1a1a1a"/><rect x="695" y="170" width="1.4" height="1.2" fill="#8a8a8a"/><rect x="653" y="578" width="1.4" height="1.2" fill="#1a1a1a"/><rect x="411" y="269" width="1.4" height="1.2" fill="#1a1a1a"/><rect x="642" y="166" width="1.4" height="1.2" fill="#1a1a1a"/><rect x="557" y="573" width="1.4" height="1.2" fill="#1a1a1a"/><rect x="459" y="222" width="1.4" height="1.2" fill="#1a1a1a"/><rect x="559" y="252" width="1.4" height="1.2" fill="#8a8a8a"/><rect x="402" y="179" width="1.4" height="1.2" fill="#1a1a1a"/><rect x="617" y="560" width="1.4" height="1.2" fill="#333333"/><rect x="681" y="378" width="1.4" height="1.2" fill="#8a8a8a"/><rect x="424" y="612" width="1.4" height="1.2" fill="#1a1a1a"/><rect x="600" y="292" width="1.4" height="1.2" fill="#8a8a8a"/><rect x="510" y="490" width="1.4" height="1.2" fill="#1a1a1a"/><rect x="585" y="436" width="1.4" height="1.2" fill="#333333"/><rect x="494" y="82" width="1.4" height="1.2" fill="#1a1a1a"/><rect x="401" y="161" width="1.4" height="1.2" fill="#1a1a1a"/><rect x="595" y="312" width="1.4" height="1.2" fill="#1a1a1a"/><rect x="561" y="560" width="1.4" height="1.2" fill="#1a1a1a"/><rect x="608" y="93" width="1.4" height="1.2" fill="#1a1a1a"/><rect x="390" y="271" width="1.4" height="1.2" fill="#1a1a1a"/><rect x="586" y="191" width="1.4" height="1.2" fill="#333333"/><rect x="598" y="335" width="1.4" height="1.2" fill="#1a1a1a"/><rect x="435" y="582" width="1.4" height="1.2" fill="#333333"/><rect x="393" y="426" width="1.4" height="1.2" fill="#333333"/><rect x="577" y="269" width="1.4" height="1.2" fill="#1a1a1a"/><rect x="605" y="318" width="1.4" height="1.2" fill="#1a1a1a"/><rect x="703" y="473" width="1.4" height="1.2" fill="#1a1a1a"/><rect x="404" y="365" width="1.4" height="1.2" fill="#8a8a8a"/><rect x="525" y="208" width="1.4" height="1.2" fill="#333333"/><rect x="456" y="406" width="1.4" height="1.2" fill="#1a1a1a"/><rect x="559" y="424" width="1.4" height="1.2" fill="#1a1a1a"/><rect x="406" y="556" width="1.4" height="1.2" fill="#1a1a1a"/><rect x="651" y="464" width="1.4" height="1.2" fill="#1a1a1a"/><rect x="392" y="532" width="1.4" height="1.2" fill="#8a8a8a"/><rect x="465" y="138" width="1.4" height="1.2" fill="#1a1a1a"/><rect x="502" y="482" width="1.4" height="1.2" fill="#1a1a1a"/><rect x="622" y="533" width="1.4" height="1.2" fill="#333333"/><rect x="627" y="224" width="1.4" height="1.2" fill="#8a8a8a"/><rect x="653" y="361" width="1.4" height="1.2" fill="#1a1a1a"/><rect x="478" y="424" width="1.4" height="1.2" fill="#8a8a8a"/><rect x="638" y="586" width="1.4" height="1.2" fill="#1a1a1a"/><rect x="639" y="256" width="1.4" height="1.2" fill="#1a1a1a"/><rect x="536" y="468" width="1.4" height="1.2" fill="#1a1a1a"/><rect x="580" y="246" width="1.4" height="1.2" fill="#1a1a1a"/><rect x="415" y="568" width="1.4" height="1.2" fill="#1a1a1a"/><rect x="425" y="578" width="1.4" height="1.2" fill="#1a1a1a"/><rect x="399" y="104" width="1.4" height="1.2" fill="#1a1a1a"/><rect x="622" y="475" width="1.4" height="1.2" fill="#1a1a1a"/><rect x="411" y="397" width="1.4" height="1.2" fill="#8a8a8a"/><rect x="511" y="518" width="1.4" height="1.2" fill="#1a1a1a"/><rect x="663" y="557" width="1.4" height="1.2" fill="#1a1a1a"/><rect x="695" y="586" width="1.4" height="1.2" fill="#333333"/><rect x="425" y="191" width="1.4" height="1.2" fill="#1a1a1a"/><rect x="427" y="100" width="1.4" height="1.2" fill="#1a1a1a"/><rect x="673" y="515" width="1.4" height="1.2" fill="#1a1a1a"/><rect x="601" y="522" width="1.4" height="1.2" fill="#1a1a1a"/><rect x="600" y="235" width="1.4" height="1.2" fill="#333333"/><rect x="423" y="134" width="1.4" height="1.2" fill="#333333"/><rect x="496" y="308" width="1.4" height="1.2" fill="#8a8a8a"/><rect x="711" y="350" width="1.4" height="1.2" fill="#1a1a1a"/><rect x="674" y="412" width="1.4" height="1.2" fill="#1a1a1a"/><rect x="400" y="302" width="1.4" height="1.2" fill="#333333"/><rect x="535" y="494" width="1.4" height="1.2" fill="#1a1a1a"/><rect x="505" y="458" width="1.4" height="1.2" fill="#1a1a1a"/><rect x="569" y="197" width="1.4" height="1.2" fill="#8a8a8a"/><rect x="677" y="130" width="1.4" height="1.2" fill="#1a1a1a"/><rect x="390" y="189" width="1.4" height="1.2" fill="#333333"/><rect x="554" y="507" width="1.4" height="1.2" fill="#1a1a1a"/><rect x="477" y="586" width="1.4" height="1.2" fill="#1a1a1a"/><rect x="484" y="196" width="1.4" height="1.2" fill="#1a1a1a"/><rect x="623" y="348" width="1.4" height="1.2" fill="#333333"/><rect x="417" y="502" width="1.4" height="1.2" fill="#8a8a8a"/><rect x="622" y="502" width="1.4" height="1.2" fill="#1a1a1a"/><rect x="599" y="271" width="1.4" height="1.2" fill="#1a1a1a"/><rect x="687" y="128" width="1.4" height="1.2" fill="#8a8a8a"/><rect x="691" y="349" width="1.4" height="1.2" fill="#1a1a1a"/><rect x="468" y="328" width="1.4" height="1.2" fill="#1a1a1a"/><rect x="567" y="484" width="1.4" height="1.2" fill="#1a1a1a"/><rect x="506" y="256" width="1.4" height="1.2" fill="#1a1a1a"/><rect x="611" y="478" width="1.4" height="1.2" fill="#1a1a1a"/><rect x="432" y="328" width="1.4" height="1.2" fill="#8a8a8a"/><rect x="685" y="209" width="1.4" height="1.2" fill="#1a1a1a"/><rect x="472" y="256" width="1.4" height="1.2" fill="#1a1a1a"/><rect x="715" y="471" width="1.4" height="1.2" fill="#1a1a1a"/><rect x="424" y="595" width="1.4" height="1.2" fill="#333333"/><rect x="718" y="506" width="1.4" height="1.2" fill="#1a1a1a"/><rect x="455" y="422" width="1.4" height="1.2" fill="#1a1a1a"/><rect x="519" y="100" width="1.4" height="1.2" fill="#1a1a1a"/><rect x="523" y="504" width="1.4" height="1.2" fill="#1a1a1a"/><rect x="437" y="404" width="1.4" height="1.2" fill="#1a1a1a"/><rect x="525" y="477" width="1.4" height="1.2" fill="#8a8a8a"/><rect x="494" y="417" width="1.4" height="1.2" fill="#1a1a1a"/><rect x="422" y="306" width="1.4" height="1.2" fill="#8a8a8a"/><rect x="600" y="215" width="1.4" height="1.2" fill="#333333"/><rect x="451" y="431" width="1.4" height="1.2" fill="#333333"/><rect x="649" y="289" width="1.4" height="1.2" fill="#8a8a8a"/><rect x="553" y="602" width="1.4" height="1.2" fill="#333333"/><rect x="704" y="359" width="1.4" height="1.2" fill="#1a1a1a"/><rect x="570" y="465" width="1.4" height="1.2" fill="#8a8a8a"/><rect x="460" y="447" width="1.4" height="1.2" fill="#1a1a1a"/><rect x="530" y="454" width="1.4" height="1.2" fill="#1a1a1a"/><rect x="464" y="477" width="1.4" height="1.2" fill="#1a1a1a"/><rect x="463" y="509" width="1.4" height="1.2" fill="#1a1a1a"/><rect x="433" y="496" width="1.4" height="1.2" fill="#1a1a1a"/><rect x="660" y="420" width="1.4" height="1.2" fill="#333333"/><rect x="507" y="423" width="1.4" height="1.2" fill="#1a1a1a"/><rect x="573" y="148" width="1.4" height="1.2" fill="#8a8a8a"/><rect x="668" y="271" width="1.4" height="1.2" fill="#1a1a1a"/><rect x="674" y="224" width="1.4" height="1.2" fill="#333333"/><rect x="390" y="467" width="1.4" height="1.2" fill="#1a1a1a"/><rect x="490" y="338" width="1.4" height="1.2" fill="#8a8a8a"/><rect x="533" y="422" width="1.4" height="1.2" fill="#8a8a8a"/><rect x="423" y="158" width="1.4" height="1.2" fill="#333333"/><rect x="593" y="499" width="1.4" height="1.2" fill="#1a1a1a"/><rect x="575" y="223" width="1.4" height="1.2" fill="#8a8a8a"/><rect x="468" y="156" width="1.4" height="1.2" fill="#333333"/><rect x="612" y="530" width="1.4" height="1.2" fill="#1a1a1a"/><rect x="710" y="122" width="1.4" height="1.2" fill="#1a1a1a"/><rect x="602" y="421" width="1.4" height="1.2" fill="#1a1a1a"/><rect x="560" y="340" width="1.4" height="1.2" fill="#1a1a1a"/><rect x="689" y="100" width="1.4" height="1.2" fill="#8a8a8a"/><rect x="503" y="542" width="1.4" height="1.2" fill="#8a8a8a"/><rect x="512" y="335" width="1.4" height="1.2" fill="#1a1a1a"/><rect x="460" y="314" width="1.4" height="1.2" fill="#1a1a1a"/><rect x="666" y="297" width="1.4" height="1.2" fill="#1a1a1a"/><rect x="558" y="227" width="1.4" height="1.2" fill="#8a8a8a"/><rect x="406" y="242" width="1.4" height="1.2" fill="#8a8a8a"/><rect x="697" y="407" width="1.4" height="1.2" fill="#8a8a8a"/><rect x="612" y="326" width="1.4" height="1.2" fill="#1a1a1a"/><rect x="644" y="136" width="1.4" height="1.2" fill="#8a8a8a"/><rect x="450" y="101" width="1.4" height="1.2" fill="#333333"/><rect x="648" y="570" width="1.4" height="1.2" fill="#1a1a1a"/><rect x="408" y="385" width="1.4" height="1.2" fill="#1a1a1a"/><rect x="660" y="389" width="1.4" height="1.2" fill="#1a1a1a"/><rect x="587" y="582" width="1.4" height="1.2" fill="#1a1a1a"/><rect x="717" y="335" width="1.4" height="1.2" fill="#1a1a1a"/><rect x="527" y="136" width="1.4" height="1.2" fill="#1a1a1a"/><rect x="391" y="447" width="1.4" height="1.2" fill="#333333"/><rect x="635" y="182" width="1.4" height="1.2" fill="#1a1a1a"/><rect x="633" y="127" width="1.4" height="1.2" fill="#1a1a1a"/><rect x="662" y="124" width="1.4" height="1.2" fill="#1a1a1a"/><rect x="445" y="541" width="1.4" height="1.2" fill="#1a1a1a"/><rect x="536" y="443" width="1.4" height="1.2" fill="#8a8a8a"/><rect x="438" y="507" width="1.4" height="1.2" fill="#1a1a1a"/><rect x="705" y="500" width="1.4" height="1.2" fill="#1a1a1a"/><rect x="624" y="523" width="1.4" height="1.2" fill="#1a1a1a"/><rect x="500" y="405" width="1.4" height="1.2" fill="#333333"/><rect x="590" y="246" width="1.4" height="1.2" fill="#333333"/><rect x="574" y="507" width="1.4" height="1.2" fill="#333333"/><rect x="701" y="206" width="1.4" height="1.2" fill="#1a1a1a"/><rect x="545" y="192" width="1.4" height="1.2" fill="#1a1a1a"/><rect x="475" y="483" width="1.4" height="1.2" fill="#1a1a1a"/><rect x="654" y="327" width="1.4" height="1.2" fill="#8a8a8a"/><rect x="419" y="512" width="1.4" height="1.2" fill="#333333"/><rect x="685" y="360" width="1.4" height="1.2" fill="#333333"/><rect x="549" y="396" width="1.4" height="1.2" fill="#1a1a1a"/><rect x="723" y="281" width="1.4" height="1.2" fill="#333333"/><rect x="652" y="165" width="1.4" height="1.2" fill="#1a1a1a"/><rect x="589" y="266" width="1.4" height="1.2" fill="#1a1a1a"/><rect x="401" y="610" width="1.4" height="1.2" fill="#1a1a1a"/><rect x="650" y="309" width="1.4" height="1.2" fill="#1a1a1a"/><rect x="457" y="178" width="1.4" height="1.2" fill="#1a1a1a"/><rect x="576" y="546" width="1.4" height="1.2" fill="#333333"/><rect x="693" y="116" width="1.4" height="1.2" fill="#1a1a1a"/><rect x="613" y="291" width="1.4" height="1.2" fill="#8a8a8a"/><rect x="712" y="611" width="1.4" height="1.2" fill="#8a8a8a"/><rect x="691" y="565" width="1.4" height="1.2" fill="#1a1a1a"/><rect x="669" y="107" width="1.4" height="1.2" fill="#1a1a1a"/><rect x="587" y="486" width="1.4" height="1.2" fill="#1a1a1a"/><rect x="425" y="254" width="1.4" height="1.2" fill="#1a1a1a"/><rect x="616" y="88" width="1.4" height="1.2" fill="#1a1a1a"/><rect x="402" y="577" width="1.4" height="1.2" fill="#1a1a1a"/><rect x="679" y="556" width="1.4" height="1.2" fill="#1a1a1a"/><rect x="464" y="112" width="1.4" height="1.2" fill="#1a1a1a"/><rect x="670" y="260" width="1.4" height="1.2" fill="#1a1a1a"/><rect x="496" y="564" width="1.4" height="1.2" fill="#1a1a1a"/><rect x="549" y="234" width="1.4" height="1.2" fill="#1a1a1a"/><rect x="476" y="189" width="1.4" height="1.2" fill="#1a1a1a"/><rect x="511" y="611" width="1.4" height="1.2" fill="#1a1a1a"/><rect x="422" y="236" width="1.4" height="1.2" fill="#1a1a1a"/><rect x="716" y="90" width="1.4" height="1.2" fill="#8a8a8a"/><rect x="659" y="264" width="1.4" height="1.2" fill="#1a1a1a"/><rect x="667" y="363" width="1.4" height="1.2" fill="#333333"/><rect x="694" y="198" width="1.4" height="1.2" fill="#1a1a1a"/><rect x="580" y="155" width="1.4" height="1.2" fill="#8a8a8a"/><rect x="452" y="526" width="1.4" height="1.2" fill="#1a1a1a"/><rect x="512" y="169" width="1.4" height="1.2" fill="#333333"/><rect x="513" y="399" width="1.4" height="1.2" fill="#1a1a1a"/><rect x="391" y="359" width="1.4" height="1.2" fill="#1a1a1a"/><rect x="538" y="357" width="1.4" height="1.2" fill="#8a8a8a"/><rect x="430" y="463" width="1.4" height="1.2" fill="#8a8a8a"/><rect x="517" y="483" width="1.4" height="1.2" fill="#8a8a8a"/><rect x="410" y="548" width="1.4" height="1.2" fill="#8a8a8a"/><rect x="473" y="518" width="1.4" height="1.2" fill="#1a1a1a"/><rect x="400" y="133" width="1.4" height="1.2" fill="#1a1a1a"/><rect x="395" y="402" width="1.4" height="1.2" fill="#333333"/><rect x="624" y="136" width="1.4" height="1.2" fill="#1a1a1a"/><rect x="680" y="464" width="1.4" height="1.2" fill="#1a1a1a"/><rect x="525" y="155" width="1.4" height="1.2" fill="#1a1a1a"/><rect x="587" y="541" width="1.4" height="1.2" fill="#8a8a8a"/><rect x="439" y="387" width="1.4" height="1.2" fill="#1a1a1a"/><rect x="519" y="306" width="1.4" height="1.2" fill="#333333"/><rect x="649" y="262" width="1.4" height="1.2" fill="#1a1a1a"/><rect x="535" y="605" width="1.4" height="1.2" fill="#333333"/><rect x="658" y="569" width="1.4" height="1.2" fill="#333333"/><rect x="702" y="420" width="1.4" height="1.2" fill="#1a1a1a"/><rect x="563" y="313" width="1.4" height="1.2" fill="#333333"/><rect x="707" y="235" width="1.4" height="1.2" fill="#1a1a1a"/><rect x="492" y="427" width="1.4" height="1.2" fill="#1a1a1a"/><rect x="431" y="152" width="1.4" height="1.2" fill="#1a1a1a"/><rect x="419" y="373" width="1.4" height="1.2" fill="#333333"/><rect x="457" y="461" width="1.4" height="1.2" fill="#1a1a1a"/><rect x="493" y="211" width="1.4" height="1.2" fill="#1a1a1a"/><rect x="575" y="344" width="1.4" height="1.2" fill="#1a1a1a"/><rect x="485" y="609" width="1.4" height="1.2" fill="#1a1a1a"/><rect x="488" y="494" width="1.4" height="1.2" fill="#333333"/><rect x="442" y="117" width="1.4" height="1.2" fill="#1a1a1a"/><rect x="441" y="261" width="1.4" height="1.2" fill="#1a1a1a"/><rect x="507" y="442" width="1.4" height="1.2" fill="#1a1a1a"/><rect x="595" y="535" width="1.4" height="1.2" fill="#333333"/><rect x="636" y="478" width="1.4" height="1.2" fill="#8a8a8a"/><rect x="695" y="149" width="1.4" height="1.2" fill="#1a1a1a"/><rect x="581" y="305" width="1.4" height="1.2" fill="#333333"/><rect x="651" y="548" width="1.4" height="1.2" fill="#8a8a8a"/><rect x="592" y="284" width="1.4" height="1.2" fill="#1a1a1a"/><rect x="541" y="326" width="1.4" height="1.2" fill="#1a1a1a"/><rect x="652" y="535" width="1.4" height="1.2" fill="#1a1a1a"/><rect x="584" y="128" width="1.4" height="1.2" fill="#1a1a1a"/><rect x="671" y="529" width="1.4" height="1.2" fill="#1a1a1a"/><rect x="569" y="615" width="1.4" height="1.2" fill="#333333"/><rect x="615" y="362" width="1.4" height="1.2" fill="#1a1a1a"/><rect x="722" y="265" width="1.4" height="1.2" fill="#1a1a1a"/><rect x="567" y="517" width="1.4" height="1.2" fill="#1a1a1a"/><rect x="561" y="141" width="1.4" height="1.2" fill="#8a8a8a"/><rect x="688" y="450" width="1.4" height="1.2" fill="#1a1a1a"/><rect x="686" y="306" width="1.4" height="1.2" fill="#1a1a1a"/><rect x="560" y="351" width="1.4" height="1.2" fill="#1a1a1a"/><rect x="600" y="404" width="1.4" height="1.2" fill="#1a1a1a"/><rect x="602" y="104" width="1.4" height="1.2" fill="#8a8a8a"/><rect x="492" y="450" width="1.4" height="1.2" fill="#333333"/><rect x="391" y="244" width="1.4" height="1.2" fill="#8a8a8a"/><rect x="671" y="395" width="1.4" height="1.2" fill="#333333"/><rect x="556" y="377" width="1.4" height="1.2" fill="#1a1a1a"/><rect x="423" y="173" width="1.4" height="1.2" fill="#1a1a1a"/><rect x="594" y="512" width="1.4" height="1.2" fill="#8a8a8a"/><rect x="628" y="270" width="1.4" height="1.2" fill="#1a1a1a"/><rect x="446" y="224" width="1.4" height="1.2" fill="#1a1a1a"/><rect x="540" y="287" width="1.4" height="1.2" fill="#1a1a1a"/><rect x="584" y="594" width="1.4" height="1.2" fill="#333333"/><rect x="536" y="413" width="1.4" height="1.2" fill="#1a1a1a"/><rect x="662" y="244" width="1.4" height="1.2" fill="#8a8a8a"/><rect x="471" y="290" width="1.4" height="1.2" fill="#1a1a1a"/><rect x="493" y="549" width="1.4" height="1.2" fill="#8a8a8a"/><rect x="568" y="287" width="1.4" height="1.2" fill="#1a1a1a"/><rect x="524" y="116" width="1.4" height="1.2" fill="#333333"/><rect x="507" y="212" width="1.4" height="1.2" fill="#1a1a1a"/><rect x="453" y="233" width="1.4" height="1.2" fill="#1a1a1a"/><rect x="611" y="264" width="1.4" height="1.2" fill="#8a8a8a"/><rect x="507" y="467" width="1.4" height="1.2" fill="#1a1a1a"/><rect x="690" y="395" width="1.4" height="1.2" fill="#1a1a1a"/><rect x="681" y="147" width="1.4" height="1.2" fill="#1a1a1a"/><rect x="520" y="127" width="1.4" height="1.2" fill="#1a1a1a"/><rect x="497" y="435" width="1.4" height="1.2" fill="#8a8a8a"/><rect x="510" y="349" width="1.4" height="1.2" fill="#333333"/><rect x="489" y="117" width="1.4" height="1.2" fill="#8a8a8a"/><rect x="684" y="541" width="1.4" height="1.2" fill="#333333"/><rect x="623" y="214" width="1.4" height="1.2" fill="#333333"/><rect x="600" y="179" width="1.4" height="1.2" fill="#8a8a8a"/><rect x="635" y="462" width="1.4" height="1.2" fill="#1a1a1a"/><rect x="491" y="285" width="1.4" height="1.2" fill="#8a8a8a"/><rect x="506" y="82" width="1.4" height="1.2" fill="#1a1a1a"/><rect x="427" y="504" width="1.4" height="1.2" fill="#8a8a8a"/><rect x="639" y="524" width="1.4" height="1.2" fill="#8a8a8a"/><rect x="706" y="308" width="1.4" height="1.2" fill="#8a8a8a"/><rect x="624" y="512" width="1.4" height="1.2" fill="#333333"/><rect x="477" y="373" width="1.4" height="1.2" fill="#8a8a8a"/><rect x="527" y="189" width="1.4" height="1.2" fill="#333333"/><rect x="626" y="439" width="1.4" height="1.2" fill="#1a1a1a"/><rect x="702" y="269" width="1.4" height="1.2" fill="#1a1a1a"/><rect x="410" y="231" width="1.4" height="1.2" fill="#333333"/><rect x="498" y="332" width="1.4" height="1.2" fill="#1a1a1a"/><rect x="413" y="87" width="1.4" height="1.2" fill="#1a1a1a"/><rect x="721" y="482" width="1.4" height="1.2" fill="#1a1a1a"/><rect x="418" y="464" width="1.4" height="1.2" fill="#1a1a1a"/><rect x="499" y="180" width="1.4" height="1.2" fill="#1a1a1a"/><rect x="442" y="241" width="1.4" height="1.2" fill="#1a1a1a"/><rect x="619" y="169" width="1.4" height="1.2" fill="#1a1a1a"/><rect x="484" y="435" width="1.4" height="1.2" fill="#1a1a1a"/><rect x="714" y="567" width="1.4" height="1.2" fill="#1a1a1a"/><rect x="660" y="114" width="1.4" height="1.2" fill="#1a1a1a"/><rect x="615" y="407" width="1.4" height="1.2" fill="#8a8a8a"/><rect x="708" y="338" width="1.4" height="1.2" fill="#1a1a1a"/><rect x="427" y="542" width="1.4" height="1.2" fill="#8a8a8a"/><rect x="427" y="356" width="1.4" height="1.2" fill="#8a8a8a"/><rect x="710" y="382" width="1.4" height="1.2" fill="#1a1a1a"/><rect x="648" y="155" width="1.4" height="1.2" fill="#333333"/><rect x="649" y="112" width="1.4" height="1.2" fill="#1a1a1a"/><rect x="461" y="242" width="1.4" height="1.2" fill="#1a1a1a"/><rect x="696" y="546" width="1.4" height="1.2" fill="#1a1a1a"/><rect x="446" y="480" width="1.4" height="1.2" fill="#1a1a1a"/><rect x="591" y="135" width="1.4" height="1.2" fill="#1a1a1a"/><rect x="451" y="377" width="1.4" height="1.2" fill="#1a1a1a"/><rect x="657" y="100" width="1.4" height="1.2" fill="#333333"/><rect x="415" y="257" width="1.4" height="1.2" fill="#1a1a1a"/><rect x="586" y="105" width="1.4" height="1.2" fill="#1a1a1a"/><rect x="392" y="391" width="1.4" height="1.2" fill="#333333"/><rect x="614" y="227" width="1.4" height="1.2" fill="#8a8a8a"/><rect x="481" y="349" width="1.4" height="1.2" fill="#8a8a8a"/><rect x="566" y="593" width="1.4" height="1.2" fill="#8a8a8a"/><rect x="681" y="495" width="1.4" height="1.2" fill="#333333"/><rect x="511" y="232" width="1.4" height="1.2" fill="#1a1a1a"/><rect x="637" y="353" width="1.4" height="1.2" fill="#1a1a1a"/><rect x="573" y="298" width="1.4" height="1.2" fill="#8a8a8a"/><rect x="583" y="609" width="1.4" height="1.2" fill="#333333"/><rect x="625" y="198" width="1.4" height="1.2" fill="#1a1a1a"/><rect x="503" y="154" width="1.4" height="1.2" fill="#8a8a8a"/><rect x="501" y="345" width="1.4" height="1.2" fill="#1a1a1a"/><rect x="544" y="89" width="1.4" height="1.2" fill="#8a8a8a"/><rect x="699" y="383" width="1.4" height="1.2" fill="#333333"/><rect x="595" y="468" width="1.4" height="1.2" fill="#333333"/><rect x="442" y="158" width="1.4" height="1.2" fill="#1a1a1a"/><rect x="575" y="433" width="1.4" height="1.2" fill="#333333"/><rect x="627" y="489" width="1.4" height="1.2" fill="#1a1a1a"/><rect x="649" y="247" width="1.4" height="1.2" fill="#1a1a1a"/><rect x="648" y="275" width="1.4" height="1.2" fill="#1a1a1a"/><rect x="720" y="203" width="1.4" height="1.2" fill="#333333"/><rect x="575" y="179" width="1.4" height="1.2" fill="#333333"/><rect x="439" y="176" width="1.4" height="1.2" fill="#1a1a1a"/><rect x="636" y="574" width="1.4" height="1.2" fill="#1a1a1a"/><rect x="649" y="211" width="1.4" height="1.2" fill="#333333"/><rect x="426" y="473" width="1.4" height="1.2" fill="#1a1a1a"/><rect x="411" y="426" width="1.4" height="1.2" fill="#1a1a1a"/><rect x="477" y="313" width="1.4" height="1.2" fill="#8a8a8a"/><rect x="484" y="259" width="1.4" height="1.2" fill="#333333"/><rect x="460" y="553" width="1.4" height="1.2" fill="#1a1a1a"/><rect x="678" y="179" width="1.4" height="1.2" fill="#8a8a8a"/><rect x="618" y="130" width="1.4" height="1.2" fill="#333333"/><rect x="503" y="572" width="1.4" height="1.2" fill="#1a1a1a"/><rect x="620" y="102" width="1.4" height="1.2" fill="#1a1a1a"/><rect x="430" y="342" width="1.4" height="1.2" fill="#1a1a1a"/><rect x="481" y="176" width="1.4" height="1.2" fill="#1a1a1a"/><rect x="619" y="430" width="1.4" height="1.2" fill="#333333"/><rect x="571" y="375" width="1.4" height="1.2" fill="#1a1a1a"/><rect x="621" y="255" width="1.4" height="1.2" fill="#1a1a1a"/><rect x="605" y="375" width="1.4" height="1.2" fill="#333333"/><rect x="675" y="354" width="1.4" height="1.2" fill="#1a1a1a"/><rect x="468" y="418" width="1.4" height="1.2" fill="#1a1a1a"/><rect x="638" y="284" width="1.4" height="1.2" fill="#8a8a8a"/><rect x="627" y="292" width="1.4" height="1.2" fill="#333333"/><rect x="478" y="567" width="1.4" height="1.2" fill="#333333"/><rect x="548" y="467" width="1.4" height="1.2" fill="#1a1a1a"/><rect x="543" y="424" width="1.4" height="1.2" fill="#1a1a1a"/><rect x="679" y="105" width="1.4" height="1.2" fill="#333333"/><rect x="517" y="526" width="1.4" height="1.2" fill="#1a1a1a"/><rect x="541" y="128" width="1.4" height="1.2" fill="#1a1a1a"/><rect x="622" y="321" width="1.4" height="1.2" fill="#1a1a1a"/><rect x="617" y="277" width="1.4" height="1.2" fill="#1a1a1a"/><rect x="513" y="263" width="1.4" height="1.2" fill="#333333"/><rect x="537" y="278" width="1.4" height="1.2" fill="#1a1a1a"/><rect x="500" y="119" width="1.4" height="1.2" fill="#333333"/><rect x="691" y="486" width="1.4" height="1.2" fill="#1a1a1a"/><rect x="548" y="557" width="1.4" height="1.2" fill="#1a1a1a"/><rect x="617" y="377" width="1.4" height="1.2" fill="#1a1a1a"/><rect x="681" y="159" width="1.4" height="1.2" fill="#1a1a1a"/><rect x="657" y="188" width="1.4" height="1.2" fill="#8a8a8a"/><rect x="481" y="507" width="1.4" height="1.2" fill="#1a1a1a"/><rect x="487" y="461" width="1.4" height="1.2" fill="#8a8a8a"/><rect x="678" y="120" width="1.4" height="1.2" fill="#8a8a8a"/><rect x="589" y="178" width="1.4" height="1.2" fill="#333333"/><rect x="615" y="442" width="1.4" height="1.2" fill="#1a1a1a"/><rect x="651" y="589" width="1.4" height="1.2" fill="#8a8a8a"/><rect x="464" y="373" width="1.4" height="1.2" fill="#333333"/><rect x="633" y="311" width="1.4" height="1.2" fill="#1a1a1a"/><rect x="551" y="543" width="1.4" height="1.2" fill="#1a1a1a"/><rect x="504" y="586" width="1.4" height="1.2" fill="#1a1a1a"/><rect x="507" y="282" width="1.4" height="1.2" fill="#333333"/><rect x="439" y="132" width="1.4" height="1.2" fill="#333333"/><rect x="444" y="367" width="1.4" height="1.2" fill="#1a1a1a"/><rect x="456" y="297" width="1.4" height="1.2" fill="#1a1a1a"/><rect x="470" y="547" width="1.4" height="1.2" fill="#8a8a8a"/><rect x="400" y="292" width="1.4" height="1.2" fill="#333333"/><rect x="563" y="237" width="1.4" height="1.2" fill="#333333"/><rect x="583" y="206" width="1.4" height="1.2" fill="#1a1a1a"/><rect x="697" y="87" width="1.4" height="1.2" fill="#1a1a1a"/><rect x="640" y="421" width="1.4" height="1.2" fill="#1a1a1a"/><rect x="672" y="502" width="1.4" height="1.2" fill="#1a1a1a"/><rect x="712" y="441" width="1.4" height="1.2" fill="#333333"/><rect x="639" y="154" width="1.4" height="1.2" fill="#1a1a1a"/><rect x="474" y="529" width="1.4" height="1.2" fill="#1a1a1a"/><rect x="542" y="208" width="1.4" height="1.2" fill="#1a1a1a"/><rect x="704" y="522" width="1.4" height="1.2" fill="#1a1a1a"/><rect x="430" y="446" width="1.4" height="1.2" fill="#1a1a1a"/><rect x="720" y="183" width="1.4" height="1.2" fill="#1a1a1a"/><rect x="566" y="82" width="1.4" height="1.2" fill="#1a1a1a"/><rect x="415" y="415" width="1.4" height="1.2" fill="#1a1a1a"/><rect x="538" y="593" width="1.4" height="1.2" fill="#1a1a1a"/><rect x="539" y="483" width="1.4" height="1.2" fill="#1a1a1a"/><rect x="687" y="471" width="1.4" height="1.2" fill="#333333"/><rect x="708" y="558" width="1.4" height="1.2" fill="#1a1a1a"/><rect x="658" y="443" width="1.4" height="1.2" fill="#8a8a8a"/><rect x="582" y="523" width="1.4" height="1.2" fill="#1a1a1a"/><rect x="458" y="567" width="1.4" height="1.2" fill="#1a1a1a"/><rect x="540" y="529" width="1.4" height="1.2" fill="#1a1a1a"/><rect x="641" y="444" width="1.4" height="1.2" fill="#1a1a1a"/><rect x="527" y="513" width="1.4" height="1.2" fill="#1a1a1a"/><rect x="605" y="598" width="1.4" height="1.2" fill="#1a1a1a"/><rect x="504" y="291" width="1.4" height="1.2" fill="#8a8a8a"/><rect x="567" y="360" width="1.4" height="1.2" fill="#1a1a1a"/><rect x="412" y="302" width="1.4" height="1.2" fill="#1a1a1a"/><rect x="613" y="390" width="1.4" height="1.2" fill="#333333"/><rect x="440" y="440" width="1.4" height="1.2" fill="#333333"/><rect x="606" y="551" width="1.4" height="1.2" fill="#1a1a1a"/><rect x="591" y="522" width="1.4" height="1.2" fill="#1a1a1a"/><rect x="657" y="274" width="1.4" height="1.2" fill="#8a8a8a"/><rect x="623" y="120" width="1.4" height="1.2" fill="#1a1a1a"/><rect x="399" y="351" width="1.4" height="1.2" fill="#1a1a1a"/><rect x="711" y="257" width="1.4" height="1.2" fill="#1a1a1a"/><rect x="454" y="475" width="1.4" height="1.2" fill="#1a1a1a"/><rect x="706" y="573" width="1.4" height="1.2" fill="#1a1a1a"/><rect x="444" y="419" width="1.4" height="1.2" fill="#1a1a1a"/><rect x="547" y="610" width="1.4" height="1.2" fill="#8a8a8a"/><rect x="627" y="586" width="1.4" height="1.2" fill="#8a8a8a"/><rect x="717" y="315" width="1.4" height="1.2" fill="#1a1a1a"/><rect x="516" y="86" width="1.4" height="1.2" fill="#333333"/><rect x="458" y="211" width="1.4" height="1.2" fill="#8a8a8a"/><rect x="424" y="397" width="1.4" height="1.2" fill="#333333"/><rect x="536" y="118" width="1.4" height="1.2" fill="#8a8a8a"/><rect x="547" y="295" width="1.4" height="1.2" fill="#333333"/><rect x="614" y="463" width="1.4" height="1.2" fill="#8a8a8a"/><rect x="470" y="428" width="1.4" height="1.2" fill="#1a1a1a"/><rect x="621" y="333" width="1.4" height="1.2" fill="#8a8a8a"/><rect x="590" y="115" width="1.4" height="1.2" fill="#1a1a1a"/><rect x="469" y="608" width="1.4" height="1.2" fill="#333333"/><rect x="601" y="478" width="1.4" height="1.2" fill="#1a1a1a"/><rect x="715" y="461" width="1.4" height="1.2" fill="#1a1a1a"/><rect x="452" y="512" width="1.4" height="1.2" fill="#1a1a1a"/><rect x="444" y="355" width="1.4" height="1.2" fill="#1a1a1a"/><rect x="512" y="243" width="1.4" height="1.2" fill="#1a1a1a"/><rect x="592" y="604" width="1.4" height="1.2" fill="#1a1a1a"/><rect x="646" y="85" width="1.4" height="1.2" fill="#333333"/><rect x="415" y="142" width="1.4" height="1.2" fill="#1a1a1a"/><rect x="526" y="408" width="1.4" height="1.2" fill="#1a1a1a"/><rect x="694" y="529" width="1.4" height="1.2" fill="#8a8a8a"/><rect x="701" y="489" width="1.4" height="1.2" fill="#8a8a8a"/><rect x="396" y="205" width="1.4" height="1.2" fill="#1a1a1a"/><rect x="686" y="573" width="1.4" height="1.2" fill="#333333"/><rect x="499" y="493" width="1.4" height="1.2" fill="#1a1a1a"/><rect x="589" y="453" width="1.4" height="1.2" fill="#1a1a1a"/><rect x="610" y="178" width="1.4" height="1.2" fill="#1a1a1a"/><rect x="433" y="596" width="1.4" height="1.2" fill="#1a1a1a"/><rect x="518" y="277" width="1.4" height="1.2" fill="#333333"/><rect x="536" y="143" width="1.4" height="1.2" fill="#1a1a1a"/><rect x="413" y="200" width="1.4" height="1.2" fill="#1a1a1a"/><rect x="698" y="328" width="1.4" height="1.2" fill="#1a1a1a"/><rect x="541" y="251" width="1.4" height="1.2" fill="#333333"/><rect x="608" y="356" width="1.4" height="1.2" fill="#1a1a1a"/><rect x="637" y="368" width="1.4" height="1.2" fill="#1a1a1a"/><rect x="676" y="278" width="1.4" height="1.2" fill="#1a1a1a"/><rect x="597" y="197" width="1.4" height="1.2" fill="#1a1a1a"/><rect x="723" y="325" width="1.4" height="1.2" fill="#8a8a8a"/><rect x="526" y="556" width="1.4" height="1.2" fill="#1a1a1a"/><rect x="611" y="541" width="1.4" height="1.2" fill="#1a1a1a"/><rect x="486" y="236" width="1.4" height="1.2" fill="#8a8a8a"/><rect x="712" y="546" width="1.4" height="1.2" fill="#333333"/><rect x="625" y="598" width="1.4" height="1.2" fill="#1a1a1a"/><rect x="664" y="403" width="1.4" height="1.2" fill="#1a1a1a"/><rect x="549" y="220" width="1.4" height="1.2" fill="#1a1a1a"/><rect x="656" y="510" width="1.4" height="1.2" fill="#1a1a1a"/><rect x="495" y="467" width="1.4" height="1.2" fill="#1a1a1a"/><rect x="408" y="407" width="1.4" height="1.2" fill="#8a8a8a"/><rect x="613" y="200" width="1.4" height="1.2" fill="#1a1a1a"/><rect x="720" y="161" width="1.4" height="1.2" fill="#8a8a8a"/><rect x="461" y="263" width="1.4" height="1.2" fill="#333333"/><rect x="581" y="138" width="1.4" height="1.2" fill="#333333"/><rect x="723" y="381" width="1.4" height="1.2" fill="#1a1a1a"/><rect x="443" y="301" width="1.4" height="1.2" fill="#1a1a1a"/><rect x="418" y="185" width="1.4" height="1.2" fill="#1a1a1a"/><rect x="652" y="221" width="1.4" height="1.2" fill="#8a8a8a"/><rect x="409" y="512" width="1.4" height="1.2" fill="#333333"/><rect x="573" y="574" width="1.4" height="1.2" fill="#333333"/><rect x="681" y="484" width="1.4" height="1.2" fill="#333333"/><rect x="474" y="206" width="1.4" height="1.2" fill="#1a1a1a"/><rect x="536" y="504" width="1.4" height="1.2" fill="#1a1a1a"/><rect x="684" y="402" width="1.4" height="1.2" fill="#1a1a1a"/><rect x="518" y="450" width="1.4" height="1.2" fill="#333333"/><rect x="580" y="470" width="1.4" height="1.2" fill="#8a8a8a"/><rect x="720" y="449" width="1.4" height="1.2" fill="#1a1a1a"/><rect x="698" y="126" width="1.4" height="1.2" fill="#1a1a1a"/><rect x="714" y="493" width="1.4" height="1.2" fill="#1a1a1a"/><rect x="600" y="366" width="1.4" height="1.2" fill="#1a1a1a"/><rect x="638" y="205" width="1.4" height="1.2" fill="#1a1a1a"/><rect x="586" y="168" width="1.4" height="1.2" fill="#1a1a1a"/><rect x="685" y="278" width="1.4" height="1.2" fill="#1a1a1a"/><rect x="669" y="439" width="1.4" height="1.2" fill="#1a1a1a"/><rect x="628" y="82" width="1.4" height="1.2" fill="#8a8a8a"/><rect x="479" y="552" width="1.4" height="1.2" fill="#1a1a1a"/><rect x="480" y="160" width="1.4" height="1.2" fill="#1a1a1a"/><rect x="721" y="414" width="1.4" height="1.2" fill="#1a1a1a"/><rect x="608" y="168" width="1.4" height="1.2" fill="#333333"/><rect x="581" y="381" width="1.4" height="1.2" fill="#333333"/><rect x="420" y="336" width="1.4" height="1.2" fill="#1a1a1a"/><rect x="531" y="246" width="1.4" height="1.2" fill="#1a1a1a"/><rect x="533" y="170" width="1.4" height="1.2" fill="#1a1a1a"/><rect x="673" y="428" width="1.4" height="1.2" fill="#1a1a1a"/><rect x="553" y="185" width="1.4" height="1.2" fill="#1a1a1a"/><rect x="613" y="346" width="1.4" height="1.2" fill="#1a1a1a"/><rect x="657" y="142" width="1.4" height="1.2" fill="#1a1a1a"/><rect x="536" y="83" width="1.4" height="1.2" fill="#1a1a1a"/><rect x="722" y="251" width="1.4" height="1.2" fill="#333333"/><rect x="551" y="262" width="1.4" height="1.2" fill="#8a8a8a"/><rect x="558" y="305" width="1.4" height="1.2" fill="#8a8a8a"/><rect x="567" y="229" width="1.4" height="1.2" fill="#8a8a8a"/><rect x="468" y="500" width="1.4" height="1.2" fill="#1a1a1a"/><rect x="502" y="139" width="1.4" height="1.2" fill="#1a1a1a"/><rect x="627" y="560" width="1.4" height="1.2" fill="#8a8a8a"/><rect x="673" y="545" width="1.4" height="1.2" fill="#1a1a1a"/><rect x="536" y="306" width="1.4" height="1.2" fill="#1a1a1a"/><rect x="456" y="538" width="1.4" height="1.2" fill="#8a8a8a"/><rect x="511" y="563" width="1.4" height="1.2" fill="#8a8a8a"/><rect x="460" y="83" width="1.4" height="1.2" fill="#1a1a1a"/><rect x="624" y="357" width="1.4" height="1.2" fill="#333333"/><rect x="717" y="172" width="1.4" height="1.2" fill="#8a8a8a"/><rect x="428" y="432" width="1.4" height="1.2" fill="#8a8a8a"/><rect x="515" y="473" width="1.4" height="1.2" fill="#1a1a1a"/><rect x="551" y="411" width="1.4" height="1.2" fill="#1a1a1a"/><rect x="594" y="99" width="1.4" height="1.2" fill="#1a1a1a"/><rect x="690" y="262" width="1.4" height="1.2" fill="#333333"/><rect x="598" y="146" width="1.4" height="1.2" fill="#1a1a1a"/><rect x="638" y="549" width="1.4" height="1.2" fill="#8a8a8a"/><rect x="574" y="403" width="1.4" height="1.2" fill="#1a1a1a"/><rect x="616" y="517" width="1.4" height="1.2" fill="#1a1a1a"/><rect x="722" y="193" width="1.4" height="1.2" fill="#1a1a1a"/><rect x="402" y="486" width="1.4" height="1.2" fill="#1a1a1a"/><rect x="609" y="433" width="1.4" height="1.2" fill="#1a1a1a"/><rect x="483" y="140" width="1.4" height="1.2" fill="#333333"/><rect x="464" y="125" width="1.4" height="1.2" fill="#333333"/><rect x="558" y="466" width="1.4" height="1.2" fill="#1a1a1a"/><rect x="683" y="224" width="1.4" height="1.2" fill="#1a1a1a"/><rect x="710" y="203" width="1.4" height="1.2" fill="#1a1a1a"/><rect x="584" y="351" width="1.4" height="1.2" fill="#1a1a1a"/><rect x="720" y="555" width="1.4" height="1.2" fill="#333333"/><rect x="581" y="498" width="1.4" height="1.2" fill="#1a1a1a"/><rect x="665" y="134" width="1.4" height="1.2" fill="#8a8a8a"/><rect x="557" y="492" width="1.4" height="1.2" fill="#1a1a1a"/><rect x="718" y="302" width="1.4" height="1.2" fill="#8a8a8a"/><rect x="401" y="475" width="1.4" height="1.2" fill="#333333"/><rect x="394" y="319" width="1.4" height="1.2" fill="#1a1a1a"/><rect x="467" y="458" width="1.4" height="1.2" fill="#8a8a8a"/><rect x="633" y="390" width="1.4" height="1.2" fill="#333333"/><rect x="429" y="483" width="1.4" height="1.2" fill="#1a1a1a"/><rect x="640" y="453" width="1.4" height="1.2" fill="#1a1a1a"/><rect x="566" y="175" width="1.4" height="1.2" fill="#1a1a1a"/><rect x="504" y="598" width="1.4" height="1.2" fill="#1a1a1a"/><rect x="648" y="482" width="1.4" height="1.2" fill="#1a1a1a"/><rect x="490" y="373" width="1.4" height="1.2" fill="#1a1a1a"/><rect x="481" y="97" width="1.4" height="1.2" fill="#1a1a1a"/><rect x="689" y="437" width="1.4" height="1.2" fill="#1a1a1a"/><rect x="657" y="152" width="1.4" height="1.2" fill="#1a1a1a"/><rect x="494" y="148" width="1.4" height="1.2" fill="#1a1a1a"/><rect x="529" y="100" width="1.4" height="1.2" fill="#333333"/><rect x="697" y="340" width="1.4" height="1.2" fill="#8a8a8a"/><rect x="697" y="428" width="1.4" height="1.2" fill="#1a1a1a"/><rect x="534" y="381" width="1.4" height="1.2" fill="#8a8a8a"/><rect x="681" y="583" width="1.4" height="1.2" fill="#8a8a8a"/><rect x="445" y="184" width="1.4" height="1.2" fill="#333333"/><rect x="460" y="521" width="1.4" height="1.2" fill="#1a1a1a"/><rect x="573" y="256" width="1.4" height="1.2" fill="#8a8a8a"/><rect x="476" y="364" width="1.4" height="1.2" fill="#333333"/><rect x="569" y="135" width="1.4" height="1.2" fill="#1a1a1a"/><rect x="700" y="109" width="1.4" height="1.2" fill="#1a1a1a"/><rect x="665" y="281" width="1.4" height="1.2" fill="#8a8a8a"/><rect x="432" y="307" width="1.4" height="1.2" fill="#8a8a8a"/><rect x="448" y="597" width="1.4" height="1.2" fill="#1a1a1a"/><rect x="576" y="535" width="1.4" height="1.2" fill="#1a1a1a"/><rect x="628" y="152" width="1.4" height="1.2" fill="#1a1a1a"/><rect x="641" y="401" width="1.4" height="1.2" fill="#1a1a1a"/><rect x="541" y="572" width="1.4" height="1.2" fill="#8a8a8a"/><rect x="718" y="116" width="1.4" height="1.2" fill="#1a1a1a"/><rect x="700" y="439" width="1.4" height="1.2" fill="#1a1a1a"/><rect x="390" y="120" width="1.4" height="1.2" fill="#1a1a1a"/><rect x="675" y="302" width="1.4" height="1.2" fill="#8a8a8a"/><rect x="489" y="407" width="1.4" height="1.2" fill="#8a8a8a"/><rect x="503" y="268" width="1.4" height="1.2" fill="#1a1a1a"/><rect x="723" y="346" width="1.4" height="1.2" fill="#1a1a1a"/><rect x="634" y="410" width="1.4" height="1.2" fill="#1a1a1a"/><rect x="565" y="537" width="1.4" height="1.2" fill="#1a1a1a"/><rect x="647" y="369" width="1.4" height="1.2" fill="#8a8a8a"/><rect x="492" y="138" width="1.4" height="1.2" fill="#1a1a1a"/><rect x="576" y="600" width="1.4" height="1.2" fill="#8a8a8a"/><rect x="391" y="152" width="1.4" height="1.2" fill="#1a1a1a"/><rect x="661" y="333" width="1.4" height="1.2" fill="#333333"/><rect x="708" y="399" width="1.4" height="1.2" fill="#1a1a1a"/><rect x="667" y="451" width="1.4" height="1.2" fill="#333333"/><rect x="393" y="87" width="1.4" height="1.2" fill="#1a1a1a"/><rect x="692" y="372" width="1.4" height="1.2" fill="#8a8a8a"/><rect x="554" y="125" width="1.4" height="1.2" fill="#333333"/><rect x="492" y="127" width="1.4" height="1.2" fill="#1a1a1a"/><rect x="510" y="123" width="1.4" height="1.2" fill="#1a1a1a"/><rect x="650" y="427" width="1.4" height="1.2" fill="#1a1a1a"/><rect x="549" y="157" width="1.4" height="1.2" fill="#333333"/><rect x="699" y="242" width="1.4" height="1.2" fill="#1a1a1a"/><rect x="629" y="430" width="1.4" height="1.2" fill="#8a8a8a"/><rect x="472" y="179" width="1.4" height="1.2" fill="#333333"/><rect x="669" y="95" width="1.4" height="1.2" fill="#1a1a1a"/><rect x="419" y="553" width="1.4" height="1.2" fill="#1a1a1a"/><rect x="567" y="438" width="1.4" height="1.2" fill="#1a1a1a"/><rect x="392" y="580" width="1.4" height="1.2" fill="#333333"/><rect x="627" y="541" width="1.4" height="1.2" fill="#1a1a1a"/><rect x="566" y="122" width="1.4" height="1.2" fill="#1a1a1a"/><rect x="450" y="610" width="1.4" height="1.2" fill="#1a1a1a"/><rect x="658" y="252" width="1.4" height="1.2" fill="#1a1a1a"/><rect x="645" y="175" width="1.4" height="1.2" fill="#1a1a1a"/><rect x="488" y="222" width="1.4" height="1.2" fill="#1a1a1a"/><rect x="622" y="160" width="1.4" height="1.2" fill="#1a1a1a"/><rect x="653" y="234" width="1.4" height="1.2" fill="#1a1a1a"/><rect x="645" y="188" width="1.4" height="1.2" fill="#1a1a1a"/><rect x="434" y="614" width="1.4" height="1.2" fill="#1a1a1a"/><rect x="583" y="401" width="1.4" height="1.2" fill="#1a1a1a"/><rect x="612" y="218" width="1.4" height="1.2" fill="#1a1a1a"/><rect x="429" y="558" width="1.4" height="1.2" fill="#1a1a1a"/><rect x="490" y="362" width="1.4" height="1.2" fill="#8a8a8a"/><rect x="517" y="462" width="1.4" height="1.2" fill="#333333"/><rect x="417" y="361" width="1.4" height="1.2" fill="#8a8a8a"/><rect x="529" y="331" width="1.4" height="1.2" fill="#1a1a1a"/><rect x="565" y="382" width="1.4" height="1.2" fill="#1a1a1a"/><rect x="602" y="576" width="1.4" height="1.2" fill="#1a1a1a"/><rect x="554" y="324" width="1.4" height="1.2" fill="#1a1a1a"/><rect x="516" y="364" width="1.4" height="1.2" fill="#333333"/><rect x="629" y="453" width="1.4" height="1.2" fill="#333333"/><rect x="441" y="604" width="1.4" height="1.2" fill="#8a8a8a"/><rect x="480" y="383" width="1.4" height="1.2" fill="#333333"/><rect x="510" y="500" width="1.4" height="1.2" fill="#333333"/><rect x="658" y="346" width="1.4" height="1.2" fill="#1a1a1a"/><rect x="483" y="84" width="1.4" height="1.2" fill="#8a8a8a"/><rect x="687" y="288" width="1.4" height="1.2" fill="#333333"/><rect x="671" y="376" width="1.4" height="1.2" fill="#8a8a8a"/><rect x="392" y="599" width="1.4" height="1.2" fill="#1a1a1a"/><rect x="598" y="302" width="1.4" height="1.2" fill="#8a8a8a"/><rect x="434" y="532" width="1.4" height="1.2" fill="#1a1a1a"/><rect x="554" y="274" width="1.4" height="1.2" fill="#8a8a8a"/><rect x="413" y="597" width="1.4" height="1.2" fill="#1a1a1a"/><rect x="653" y="399" width="1.4" height="1.2" fill="#1a1a1a"/><rect x="484" y="527" width="1.4" height="1.2" fill="#333333"/><rect x="658" y="304" width="1.4" height="1.2" fill="#1a1a1a"/><rect x="681" y="525" width="1.4" height="1.2" fill="#8a8a8a"/><rect x="489" y="181" width="1.4" height="1.2" fill="#1a1a1a"/><rect x="464" y="232" width="1.4" height="1.2" fill="#1a1a1a"/><rect x="520" y="423" width="1.4" height="1.2" fill="#8a8a8a"/><rect x="698" y="451" width="1.4" height="1.2" fill="#8a8a8a"/><rect x="424" y="82" width="1.4" height="1.2" fill="#1a1a1a"/><rect x="718" y="131" width="1.4" height="1.2" fill="#333333"/><rect x="400" y="513" width="1.4" height="1.2" fill="#1a1a1a"/><rect x="612" y="419" width="1.4" height="1.2" fill="#8a8a8a"/><rect x="534" y="204" width="1.4" height="1.2" fill="#8a8a8a"/><rect x="394" y="492" width="1.4" height="1.2" fill="#8a8a8a"/><rect x="532" y="370" width="1.4" height="1.2" fill="#1a1a1a"/><rect x="608" y="82" width="1.4" height="1.2" fill="#1a1a1a"/><rect x="714" y="516" width="1.4" height="1.2" fill="#8a8a8a"/><rect x="715" y="363" width="1.4" height="1.2" fill="#333333"/><rect x="479" y="413" width="1.4" height="1.2" fill="#8a8a8a"/><rect x="663" y="83" width="1.4" height="1.2" fill="#1a1a1a"/><rect x="558" y="480" width="1.4" height="1.2" fill="#1a1a1a"/><rect x="563" y="150" width="1.4" height="1.2" fill="#1a1a1a"/><rect x="473" y="442" width="1.4" height="1.2" fill="#1a1a1a"/><rect x="447" y="403" width="1.4" height="1.2" fill="#8a8a8a"/><rect x="653" y="474" width="1.4" height="1.2" fill="#1a1a1a"/><rect x="556" y="612" width="1.4" height="1.2" fill="#8a8a8a"/><rect x="540" y="393" width="1.4" height="1.2" fill="#8a8a8a"/><rect x="399" y="195" width="1.4" height="1.2" fill="#333333"/><rect x="454" y="119" width="1.4" height="1.2" fill="#8a8a8a"/><rect x="612" y="497" width="1.4" height="1.2" fill="#8a8a8a"/><rect x="722" y="242" width="1.4" height="1.2" fill="#1a1a1a"/><rect x="457" y="337" width="1.4" height="1.2" fill="#1a1a1a"/><rect x="562" y="295" width="1.4" height="1.2" fill="#1a1a1a"/><rect x="517" y="327" width="1.4" height="1.2" fill="#1a1a1a"/><rect x="574" y="388" width="1.4" height="1.2" fill="#1a1a1a"/><rect x="415" y="525" width="1.4" height="1.2" fill="#333333"/><rect x="492" y="296" width="1.4" height="1.2" fill="#1a1a1a"/><rect x="450" y="558" width="1.4" height="1.2" fill="#1a1a1a"/><rect x="672" y="214" width="1.4" height="1.2" fill="#8a8a8a"/><rect x="684" y="608" width="1.4" height="1.2" fill="#333333"/><rect x="453" y="288" width="1.4" height="1.2" fill="#1a1a1a"/><rect x="515" y="158" width="1.4" height="1.2" fill="#333333"/><rect x="451" y="307" width="1.4" height="1.2" fill="#1a1a1a"/><rect x="429" y="264" width="1.4" height="1.2" fill="#333333"/><rect x="672" y="84" width="1.4" height="1.2" fill="#1a1a1a"/><rect x="449" y="571" width="1.4" height="1.2" fill="#1a1a1a"/><rect x="592" y="553" width="1.4" height="1.2" fill="#8a8a8a"/><rect x="396" y="170" width="1.4" height="1.2" fill="#1a1a1a"/><rect x="402" y="601" width="1.4" height="1.2" fill="#8a8a8a"/><rect x="410" y="108" width="1.4" height="1.2" fill="#333333"/><rect x="539" y="97" width="1.4" height="1.2" fill="#1a1a1a"/><rect x="541" y="459" width="1.4" height="1.2" fill="#1a1a1a"/><rect x="641" y="121" width="1.4" height="1.2" fill="#333333"/><rect x="595" y="430" width="1.4" height="1.2" fill="#8a8a8a"/><rect x="431" y="283" width="1.4" height="1.2" fill="#1a1a1a"/><rect x="407" y="171" width="1.4" height="1.2" fill="#1a1a1a"/><rect x="696" y="160" width="1.4" height="1.2" fill="#8a8a8a"/><rect x="630" y="333" width="1.4" height="1.2" fill="#1a1a1a"/><rect x="667" y="463" width="1.4" height="1.2" fill="#333333"/><rect x="681" y="342" width="1.4" height="1.2" fill="#8a8a8a"/><rect x="422" y="492" width="1.4" height="1.2" fill="#1a1a1a"/><rect x="632" y="162" width="1.4" height="1.2" fill="#1a1a1a"/><rect x="413" y="279" width="1.4" height="1.2" fill="#1a1a1a"/><rect x="668" y="322" width="1.4" height="1.2" fill="#1a1a1a"/><rect x="607" y="306" width="1.4" height="1.2" fill="#333333"/><rect x="514" y="413" width="1.4" height="1.2" fill="#1a1a1a"/><rect x="445" y="270" width="1.4" height="1.2" fill="#1a1a1a"/><rect x="624" y="571" width="1.4" height="1.2" fill="#1a1a1a"/><rect x="491" y="507" width="1.4" height="1.2" fill="#1a1a1a"/><rect x="488" y="538" width="1.4" height="1.2" fill="#8a8a8a"/><rect x="488" y="317" width="1.4" height="1.2" fill="#1a1a1a"/><rect x="723" y="595" width="1.4" height="1.2" fill="#333333"/><rect x="537" y="402" width="1.4" height="1.2" fill="#8a8a8a"/><rect x="464" y="278" width="1.4" height="1.2" fill="#1a1a1a"/><rect x="440" y="199" width="1.4" height="1.2" fill="#333333"/><rect x="514" y="537" width="1.4" height="1.2" fill="#1a1a1a"/><rect x="391" y="371" width="1.4" height="1.2" fill="#8a8a8a"/><rect x="476" y="335" width="1.4" height="1.2" fill="#333333"/><rect x="532" y="258" width="1.4" height="1.2" fill="#1a1a1a"/><rect x="698" y="302" width="1.4" height="1.2" fill="#1a1a1a"/><rect x="480" y="287" width="1.4" height="1.2" fill="#1a1a1a"/><rect x="441" y="96" width="1.4" height="1.2" fill="#333333"/><rect x="704" y="511" width="1.4" height="1.2" fill="#1a1a1a"/><rect x="420" y="246" width="1.4" height="1.2" fill="#1a1a1a"/><rect x="491" y="348" width="1.4" height="1.2" fill="#1a1a1a"/><rect x="682" y="82" width="1.4" height="1.2" fill="#1a1a1a"/><rect x="412" y="162" width="1.4" height="1.2" fill="#1a1a1a"/><rect x="599" y="385" width="1.4" height="1.2" fill="#333333"/><rect x="576" y="365" width="1.4" height="1.2" fill="#333333"/><rect x="520" y="178" width="1.4" height="1.2" fill="#333333"/><rect x="553" y="387" width="1.4" height="1.2" fill="#333333"/><rect x="433" y="374" width="1.4" height="1.2" fill="#1a1a1a"/><rect x="644" y="470" width="1.4" height="1.2" fill="#333333"/><rect x="634" y="138" width="1.4" height="1.2" fill="#8a8a8a"/><rect x="473" y="142" width="1.4" height="1.2" fill="#1a1a1a"/><rect x="688" y="176" width="1.4" height="1.2" fill="#8a8a8a"/><rect x="447" y="321" width="1.4" height="1.2" fill="#333333"/><rect x="433" y="248" width="1.4" height="1.2" fill="#1a1a1a"/><rect x="399" y="280" width="1.4" height="1.2" fill="#1a1a1a"/><rect x="618" y="615" width="1.4" height="1.2" fill="#8a8a8a"/><rect x="692" y="136" width="1.4" height="1.2" fill="#1a1a1a"/><rect x="721" y="605" width="1.4" height="1.2" fill="#1a1a1a"/><rect x="692" y="250" width="1.4" height="1.2" fill="#1a1a1a"/><rect x="420" y="450" width="1.4" height="1.2" fill="#333333"/><rect x="713" y="268" width="1.4" height="1.2" fill="#1a1a1a"/><rect x="581" y="445" width="1.4" height="1.2" fill="#333333"/><rect x="516" y="137" width="1.4" height="1.2" fill="#1a1a1a"/><rect x="390" y="97" width="1.4" height="1.2" fill="#1a1a1a"/><rect x="523" y="166" width="1.4" height="1.2" fill="#8a8a8a"/><rect x="587" y="462" width="1.4" height="1.2" fill="#1a1a1a"/><rect x="678" y="367" width="1.4" height="1.2" fill="#1a1a1a"/><rect x="530" y="126" width="1.4" height="1.2" fill="#1a1a1a"/><rect x="581" y="335" width="1.4" height="1.2" fill="#333333"/><rect x="702" y="349" width="1.4" height="1.2" fill="#1a1a1a"/><rect x="689" y="460" width="1.4" height="1.2" fill="#1a1a1a"/><rect x="639" y="273" width="1.4" height="1.2" fill="#333333"/><rect x="451" y="140" width="1.4" height="1.2" fill="#1a1a1a"/><rect x="679" y="388" width="1.4" height="1.2" fill="#333333"/><rect x="391" y="609" width="1.4" height="1.2" fill="#1a1a1a"/><rect x="577" y="233" width="1.4" height="1.2" fill="#1a1a1a"/><rect x="557" y="516" width="1.4" height="1.2" fill="#1a1a1a"/><rect x="570" y="562" width="1.4" height="1.2" fill="#8a8a8a"/><rect x="547" y="177" width="1.4" height="1.2" fill="#1a1a1a"/><rect x="556" y="213" width="1.4" height="1.2" fill="#1a1a1a"/><rect x="588" y="341" width="1.4" height="1.2" fill="#1a1a1a"/><rect x="707" y="172" width="1.4" height="1.2" fill="#333333"/><rect x="722" y="99" width="1.4" height="1.2" fill="#1a1a1a"/><rect x="723" y="539" width="1.4" height="1.2" fill="#333333"/><rect x="403" y="538" width="1.4" height="1.2" fill="#1a1a1a"/><rect x="678" y="332" width="1.4" height="1.2" fill="#333333"/><rect x="495" y="257" width="1.4" height="1.2" fill="#1a1a1a"/><rect x="646" y="510" width="1.4" height="1.2" fill="#1a1a1a"/><rect x="406" y="253" width="1.4" height="1.2" fill="#1a1a1a"/><rect x="600" y="85" width="1.4" height="1.2" fill="#1a1a1a"/><rect x="567" y="248" width="1.4" height="1.2" fill="#333333"/><rect x="400" y="270" width="1.4" height="1.2" fill="#1a1a1a"/><rect x="526" y="281" width="1.4" height="1.2" fill="#333333"/><rect x="526" y="84" width="1.4" height="1.2" fill="#333333"/><rect x="462" y="436" width="1.4" height="1.2" fill="#333333"/><rect x="686" y="427" width="1.4" height="1.2" fill="#1a1a1a"/><rect x="648" y="610" width="1.4" height="1.2" fill="#8a8a8a"/><rect x="692" y="219" width="1.4" height="1.2" fill="#1a1a1a"/><rect x="576" y="105" width="1.4" height="1.2" fill="#1a1a1a"/><rect x="556" y="165" width="1.4" height="1.2" fill="#1a1a1a"/><rect x="593" y="615" width="1.4" height="1.2" fill="#1a1a1a"/><rect x="605" y="468" width="1.4" height="1.2" fill="#1a1a1a"/><rect x="548" y="490" width="1.4" height="1.2" fill="#333333"/><rect x="723" y="357" width="1.4" height="1.2" fill="#8a8a8a"/><rect x="538" y="556" width="1.4" height="1.2" fill="#8a8a8a"/><rect x="400" y="144" width="1.4" height="1.2" fill="#1a1a1a"/><rect x="657" y="409" width="1.4" height="1.2" fill="#8a8a8a"/><rect x="435" y="422" width="1.4" height="1.2" fill="#1a1a1a"/><rect x="534" y="615" width="1.4" height="1.2" fill="#1a1a1a"/><rect x="405" y="448" width="1.4" height="1.2" fill="#8a8a8a"/><rect x="442" y="281" width="1.4" height="1.2" fill="#1a1a1a"/><rect x="604" y="258" width="1.4" height="1.2" fill="#1a1a1a"/><rect x="560" y="114" width="1.4" height="1.2" fill="#1a1a1a"/><rect x="567" y="186" width="1.4" height="1.2" fill="#1a1a1a"/><rect x="585" y="314" width="1.4" height="1.2" fill="#8a8a8a"/><rect x="550" y="314" width="1.4" height="1.2" fill="#8a8a8a"/><rect x="695" y="363" width="1.4" height="1.2" fill="#1a1a1a"/><rect x="586" y="148" width="1.4" height="1.2" fill="#1a1a1a"/><rect x="626" y="301" width="1.4" height="1.2" fill="#8a8a8a"/><rect x="557" y="402" width="1.4" height="1.2" fill="#333333"/><rect x="722" y="369" width="1.4" height="1.2" fill="#8a8a8a"/><rect x="539" y="583" width="1.4" height="1.2" fill="#333333"/><rect x="648" y="318" width="1.4" height="1.2" fill="#8a8a8a"/><rect x="490" y="169" width="1.4" height="1.2" fill="#333333"/><rect x="696" y="600" width="1.4" height="1.2" fill="#1a1a1a"/><rect x="426" y="366" width="1.4" height="1.2" fill="#1a1a1a"/><rect x="403" y="219" width="1.4" height="1.2" fill="#1a1a1a"/><rect x="622" y="386" width="1.4" height="1.2" fill="#333333"/><rect x="574" y="165" width="1.4" height="1.2" fill="#8a8a8a"/><rect x="417" y="389" width="1.4" height="1.2" fill="#333333"/><rect x="626" y="281" width="1.4" height="1.2" fill="#1a1a1a"/><rect x="515" y="113" width="1.4" height="1.2" fill="#1a1a1a"/><rect x="415" y="99" width="1.4" height="1.2" fill="#1a1a1a"/><rect x="518" y="601" width="1.4" height="1.2" fill="#8a8a8a"/><rect x="606" y="412" width="1.4" height="1.2" fill="#1a1a1a"/><rect x="689" y="384" width="1.4" height="1.2" fill="#1a1a1a"/><rect x="626" y="369" width="1.4" height="1.2" fill="#1a1a1a"/><rect x="519" y="495" width="1.4" height="1.2" fill="#1a1a1a"/><rect x="656" y="174" width="1.4" height="1.2" fill="#8a8a8a"/><rect x="476" y="539" width="1.4" height="1.2" fill="#333333"/><rect x="716" y="232" width="1.4" height="1.2" fill="#8a8a8a"/><rect x="611" y="336" width="1.4" height="1.2" fill="#1a1a1a"/><rect x="706" y="84" width="1.4" height="1.2" fill="#8a8a8a"/><rect x="548" y="136" width="1.4" height="1.2" fill="#333333"/><rect x="626" y="246" width="1.4" height="1.2" fill="#333333"/><rect x="606" y="207" width="1.4" height="1.2" fill="#8a8a8a"/><rect x="590" y="232" width="1.4" height="1.2" fill="#333333"/><rect x="424" y="407" width="1.4" height="1.2" fill="#1a1a1a"/><rect x="442" y="590" width="1.4" height="1.2" fill="#1a1a1a"/><rect x="403" y="83" width="1.4" height="1.2" fill="#333333"/><rect x="659" y="289" width="1.4" height="1.2" fill="#1a1a1a"/><rect x="700" y="392" width="1.4" height="1.2" fill="#8a8a8a"/><rect x="429" y="296" width="1.4" height="1.2" fill="#8a8a8a"/><rect x="583" y="511" width="1.4" height="1.2" fill="#1a1a1a"/><rect x="723" y="564" width="1.4" height="1.2" fill="#1a1a1a"/><rect x="464" y="186" width="1.4" height="1.2" fill="#1a1a1a"/><rect x="391" y="381" width="1.4" height="1.2" fill="#333333"/><rect x="603" y="500" width="1.4" height="1.2" fill="#8a8a8a"/><rect x="709" y="483" width="1.4" height="1.2" fill="#1a1a1a"/><rect x="494" y="109" width="1.4" height="1.2" fill="#1a1a1a"/><rect x="406" y="567" width="1.4" height="1.2" fill="#1a1a1a"/><rect x="495" y="581" width="1.4" height="1.2" fill="#1a1a1a"/><rect x="591" y="394" width="1.4" height="1.2" fill="#333333"/><rect x="641" y="489" width="1.4" height="1.2" fill="#333333"/><rect x="643" y="327" width="1.4" height="1.2" fill="#8a8a8a"/><rect x="624" y="179" width="1.4" height="1.2" fill="#8a8a8a"/><rect x="464" y="533" width="1.4" height="1.2" fill="#1a1a1a"/><rect x="544" y="601" width="1.4" height="1.2" fill="#333333"/><rect x="473" y="473" width="1.4" height="1.2" fill="#1a1a1a"/><rect x="510" y="299" width="1.4" height="1.2" fill="#333333"/><rect x="550" y="245" width="1.4" height="1.2" fill="#1a1a1a"/><rect x="552" y="458" width="1.4" height="1.2" fill="#1a1a1a"/><rect x="672" y="486" width="1.4" height="1.2" fill="#333333"/><rect x="672" y="250" width="1.4" height="1.2" fill="#1a1a1a"/><rect x="701" y="191" width="1.4" height="1.2" fill="#333333"/><rect x="723" y="215" width="1.4" height="1.2" fill="#1a1a1a"/><rect x="653" y="492" width="1.4" height="1.2" fill="#1a1a1a"/><rect x="594" y="323" width="1.4" height="1.2" fill="#333333"/><rect x="407" y="324" width="1.4" height="1.2" fill="#1a1a1a"/><rect x="498" y="318" width="1.4" height="1.2" fill="#333333"/><rect x="679" y="269" width="1.4" height="1.2" fill="#1a1a1a"/><rect x="457" y="325" width="1.4" height="1.2" fill="#1a1a1a"/><rect x="457" y="496" width="1.4" height="1.2" fill="#1a1a1a"/><rect x="642" y="226" width="1.4" height="1.2" fill="#1a1a1a"/><rect x="406" y="418" width="1.4" height="1.2" fill="#1a1a1a"/><rect x="455" y="361" width="1.4" height="1.2" fill="#1a1a1a"/><rect x="391" y="142" width="1.4" height="1.2" fill="#333333"/><rect x="602" y="345" width="1.4" height="1.2" fill="#8a8a8a"/><rect x="458" y="92" width="1.4" height="1.2" fill="#333333"/><rect x="534" y="537" width="1.4" height="1.2" fill="#8a8a8a"/><rect x="482" y="247" width="1.4" height="1.2" fill="#1a1a1a"/><rect x="394" y="523" width="1.4" height="1.2" fill="#333333"/><rect x="563" y="508" width="1.4" height="1.2" fill="#8a8a8a"/><rect x="588" y="423" width="1.4" height="1.2" fill="#1a1a1a"/><rect x="538" y="515" width="1.4" height="1.2" fill="#1a1a1a"/><rect x="425" y="208" width="1.4" height="1.2" fill="#1a1a1a"/><rect x="695" y="576" width="1.4" height="1.2" fill="#8a8a8a"/><rect x="660" y="584" width="1.4" height="1.2" fill="#1a1a1a"/><rect x="677" y="293" width="1.4" height="1.2" fill="#1a1a1a"/><rect x="390" y="131" width="1.4" height="1.2" fill="#1a1a1a"/><rect x="509" y="201" width="1.4" height="1.2" fill="#1a1a1a"/><rect x="528" y="598" width="1.4" height="1.2" fill="#8a8a8a"/><rect x="700" y="229" width="1.4" height="1.2" fill="#333333"/><rect x="642" y="145" width="1.4" height="1.2" fill="#333333"/><rect x="489" y="572" width="1.4" height="1.2" fill="#8a8a8a"/><rect x="579" y="197" width="1.4" height="1.2" fill="#333333"/><rect x="625" y="464" width="1.4" height="1.2" fill="#1a1a1a"/><rect x="571" y="474" width="1.4" height="1.2" fill="#1a1a1a"/><rect x="642" y="378" width="1.4" height="1.2" fill="#1a1a1a"/><rect x="390" y="542" width="1.4" height="1.2" fill="#1a1a1a"/><rect x="446" y="214" width="1.4" height="1.2" fill="#1a1a1a"/><rect x="574" y="127" width="1.4" height="1.2" fill="#333333"/><rect x="618" y="484" width="1.4" height="1.2" fill="#1a1a1a"/><rect x="430" y="514" width="1.4" height="1.2" fill="#333333"/><rect x="592" y="573" width="1.4" height="1.2" fill="#1a1a1a"/><rect x="673" y="600" width="1.4" height="1.2" fill="#333333"/><rect x="678" y="312" width="1.4" height="1.2" fill="#1a1a1a"/><rect x="547" y="499" width="1.4" height="1.2" fill="#1a1a1a"/><rect x="723" y="425" width="1.4" height="1.2" fill="#1a1a1a"/><rect x="454" y="487" width="1.4" height="1.2" fill="#333333"/><rect x="505" y="394" width="1.4" height="1.2" fill="#8a8a8a"/><rect x="523" y="385" width="1.4" height="1.2" fill="#1a1a1a"/><rect x="451" y="441" width="1.4" height="1.2" fill="#8a8a8a"/><rect x="709" y="601" width="1.4" height="1.2" fill="#1a1a1a"/><rect x="650" y="337" width="1.4" height="1.2" fill="#8a8a8a"/><rect x="481" y="392" width="1.4" height="1.2" fill="#8a8a8a"/><rect x="523" y="145" width="1.4" height="1.2" fill="#1a1a1a"/><rect x="488" y="599" width="1.4" height="1.2" fill="#1a1a1a"/><rect x="688" y="297" width="1.4" height="1.2" fill="#1a1a1a"/><rect x="454" y="159" width="1.4" height="1.2" fill="#8a8a8a"/><rect x="502" y="614" width="1.4" height="1.2" fill="#333333"/><rect x="678" y="169" width="1.4" height="1.2" fill="#333333"/><rect x="571" y="452" width="1.4" height="1.2" fill="#1a1a1a"/><rect x="662" y="533" width="1.4" height="1.2" fill="#1a1a1a"/><rect x="510" y="433" width="1.4" height="1.2" fill="#8a8a8a"/><rect x="557" y="434" width="1.4" height="1.2" fill="#1a1a1a"/><rect x="435" y="223" width="1.4" height="1.2" fill="#1a1a1a"/><rect x="539" y="107" width="1.4" height="1.2" fill="#8a8a8a"/><rect x="684" y="113" width="1.4" height="1.2" fill="#8a8a8a"/><rect x="435" y="472" width="1.4" height="1.2" fill="#8a8a8a"/><rect x="463" y="383" width="1.4" height="1.2" fill="#333333"/><rect x="611" y="252" width="1.4" height="1.2" fill="#1a1a1a"/><rect x="526" y="444" width="1.4" height="1.2" fill="#1a1a1a"/><rect x="443" y="531" width="1.4" height="1.2" fill="#1a1a1a"/><rect x="574" y="326" width="1.4" height="1.2" fill="#1a1a1a"/><rect x="561" y="91" width="1.4" height="1.2" fill="#1a1a1a"/><rect x="566" y="219" width="1.4" height="1.2" fill="#1a1a1a"/><rect x="600" y="225" width="1.4" height="1.2" fill="#1a1a1a"/><rect x="570" y="335" width="1.4" height="1.2" fill="#333333"/><rect x="597" y="545" width="1.4" height="1.2" fill="#1a1a1a"/><rect x="532" y="298" width="1.4" height="1.2" fill="#1a1a1a"/><rect x="673" y="473" width="1.4" height="1.2" fill="#333333"/><rect x="465" y="468" width="1.4" height="1.2" fill="#8a8a8a"/><rect x="709" y="132" width="1.4" height="1.2" fill="#1a1a1a"/><rect x="407" y="468" width="1.4" height="1.2" fill="#1a1a1a"/><rect x="569" y="527" width="1.4" height="1.2" fill="#1a1a1a"/><rect x="390" y="108" width="1.4" height="1.2" fill="#8a8a8a"/><rect x="393" y="437" width="1.4" height="1.2" fill="#1a1a1a"/><rect x="487" y="559" width="1.4" height="1.2" fill="#333333"/><rect x="596" y="123" width="1.4" height="1.2" fill="#8a8a8a"/><rect x="718" y="405" width="1.4" height="1.2" fill="#1a1a1a"/><rect x="649" y="95" width="1.4" height="1.2" fill="#1a1a1a"/><rect x="390" y="296" width="1.4" height="1.2" fill="#333333"/><rect x="412" y="312" width="1.4" height="1.2" fill="#1a1a1a"/><rect x="695" y="278" width="1.4" height="1.2" fill="#8a8a8a"/><rect x="714" y="391" width="1.4" height="1.2" fill="#333333"/><rect x="723" y="83" width="1.4" height="1.2" fill="#1a1a1a"/><rect x="392" y="179" width="1.4" height="1.2" fill="#333333"/><rect x="596" y="489" width="1.4" height="1.2" fill="#333333"/><rect x="527" y="463" width="1.4" height="1.2" fill="#1a1a1a"/><rect x="451" y="261" width="1.4" height="1.2" fill="#1a1a1a"/><rect x="460" y="612" width="1.4" height="1.2" fill="#1a1a1a"/><rect x="615" y="598" width="1.4" height="1.2" fill="#8a8a8a"/><rect x="391" y="457" width="1.4" height="1.2" fill="#1a1a1a"/><rect x="483" y="445" width="1.4" height="1.2" fill="#1a1a1a"/><rect x="588" y="477" width="1.4" height="1.2" fill="#333333"/><rect x="444" y="252" width="1.4" height="1.2" fill="#1a1a1a"/><rect x="477" y="323" width="1.4" height="1.2" fill="#8a8a8a"/><rect x="468" y="318" width="1.4" height="1.2" fill="#1a1a1a"/><rect x="591" y="212" width="1.4" height="1.2" fill="#1a1a1a"/><rect x="390" y="234" width="1.4" height="1.2" fill="#1a1a1a"/></g>
<path d="M533.0,86.9 C532.0,87.0 528.9,87.1 526.9,87.2 C524.9,87.4 523.0,87.5 521.0,87.7 C519.0,87.8 517.1,88.0 515.2,88.2 C513.2,88.3 511.3,88.5 509.4,88.7 C507.5,88.9 505.7,89.2 503.8,89.4 C502.0,89.6 500.1,89.9 498.3,90.1 C496.5,90.4 494.7,90.7 492.9,91.0 C491.1,91.2 489.3,91.5 487.6,91.9 C485.8,92.2 484.1,92.5 482.4,92.8 C480.7,93.2 479.0,93.5 477.3,93.9 C475.6,94.2 474.0,94.6 472.3,95.0 C470.7,95.4 469.1,95.8 467.5,96.2 C465.9,96.6 464.3,97.0 462.8,97.5 C461.2,97.9 459.7,98.3 458.2,98.8 C456.7,99.3 455.2,99.7 453.7,100.2 C452.3,100.7 450.8,101.2 449.4,101.7 C448.0,102.2 446.6,102.7 445.2,103.2 C443.9,103.7 442.5,104.3 441.2,104.8 C439.9,105.4 438.6,105.9 437.3,106.5 C436.0,107.1 434.8,107.6 433.6,108.2 C432.4,108.8 431.2,109.4 430.0,110.0 C428.9,110.6 427.7,111.2 426.6,111.9 C425.5,112.5 424.4,113.1 423.4,113.8 C422.3,114.4 421.3,115.1 420.3,115.7 C419.3,116.4 418.3,117.1 417.4,117.7 C416.4,118.4 415.5,119.1 414.6,119.8 C413.8,120.5 412.9,121.2 412.1,121.9 C411.3,122.6 410.5,123.4 409.7,124.1 C408.9,124.8 408.2,125.6 407.5,126.3 C406.8,127.1 406.1,127.8 405.5,128.6 C404.9,129.3 404.2,130.1 403.7,130.9 C403.1,131.6 402.5,132.4 402.0,133.2 C401.5,134.0 401.0,134.8 400.6,135.6 C400.1,136.4 399.7,137.2 399.3,138.0 C398.9,138.9 398.6,139.7 398.2,140.5 C397.9,141.3 397.6,142.2 397.4,143.0 C397.1,143.9 396.9,144.7 396.7,145.6 C396.5,146.5 396.3,147.4 396.2,148.3 C396.1,149.2 396.0,150.0 395.9,151.0 C395.8,152.0 395.8,153.5 395.8,154.0 L395.9,515 C396.0,517.5 396.3,526.0 396.6,530.0 C396.9,534.0 397.0,535.9 397.7,538.8 C398.4,541.7 399.3,544.6 400.9,547.5 C402.5,550.4 404.5,553.5 407.1,556.3 C409.7,559.1 413.5,562.0 416.5,564.5 C419.5,567.0 422.1,569.1 425.0,571.2 C427.9,573.3 430.9,575.4 433.8,577.3 C436.7,579.2 439.1,580.6 442.6,582.6 C446.1,584.6 451.0,587.0 455.0,589.0 C459.0,591.0 462.8,593.1 466.7,594.9 C470.6,596.7 474.5,598.1 478.4,599.6 C482.3,601.1 486.1,602.4 490.0,603.6 C493.9,604.9 497.8,606.1 501.7,607.1 C505.6,608.1 510.7,608.5 513.4,609.5 C516.1,610.5 517.2,612.4 518.0,613.0 L590,613 C591.1,612.5 593.7,610.6 596.7,609.7 C599.7,608.8 603.7,608.5 607.9,607.6 C612.1,606.7 617.1,605.2 621.8,604.1 C626.4,603.0 631.1,602.1 635.8,600.7 C640.4,599.3 644.8,597.9 649.7,595.8 C654.6,593.7 661.0,590.1 665.0,588.0 C669.0,585.9 670.9,585.0 673.8,583.4 C676.7,581.8 679.6,580.1 682.5,578.2 C685.4,576.3 688.5,574.3 691.3,572.0 C694.0,569.7 696.2,567.1 699.0,564.5 C701.8,561.9 705.2,559.1 707.9,556.3 C710.5,553.5 713.2,550.4 714.9,547.5 C716.6,544.6 717.4,541.7 718.0,538.8 C718.6,535.9 718.5,534.0 718.6,530.0 C718.7,526.0 718.5,517.5 718.5,515.0 L718.3,161.1 C718.3,160.6 718.3,159.2 718.2,158.2 C718.1,157.3 718.0,156.4 717.9,155.4 C717.8,154.5 717.6,153.6 717.4,152.7 C717.2,151.8 716.9,150.8 716.7,149.9 C716.4,149.0 716.1,148.1 715.8,147.2 C715.4,146.3 715.1,145.4 714.7,144.5 C714.2,143.6 713.8,142.8 713.3,141.9 C712.9,141.0 712.4,140.1 711.8,139.3 C711.3,138.4 710.7,137.5 710.1,136.7 C709.5,135.8 708.9,134.9 708.2,134.1 C707.6,133.3 706.9,132.4 706.1,131.6 C705.4,130.7 704.7,129.9 703.9,129.1 C703.1,128.3 702.3,127.5 701.4,126.7 C700.6,125.9 699.7,125.1 698.8,124.3 C697.8,123.5 696.9,122.7 695.9,121.9 C695.0,121.2 694.0,120.4 692.9,119.6 C691.9,118.9 690.8,118.1 689.8,117.4 C688.7,116.7 687.6,115.9 686.4,115.2 C685.3,114.5 684.1,113.8 682.9,113.1 C681.7,112.4 680.5,111.7 679.2,111.1 C678.0,110.4 676.7,109.7 675.4,109.1 C674.1,108.4 672.8,107.8 671.4,107.1 C670.1,106.5 668.7,105.9 667.3,105.3 C665.9,104.7 664.5,104.1 663.1,103.5 C661.6,102.9 660.1,102.3 658.7,101.8 C657.2,101.2 655.7,100.7 654.1,100.1 C652.6,99.6 651.0,99.1 649.5,98.6 C647.9,98.1 646.3,97.6 644.7,97.1 C643.1,96.6 641.4,96.2 639.8,95.7 C638.1,95.3 636.5,94.8 634.8,94.4 C633.1,94.0 631.4,93.6 629.7,93.2 C628.0,92.8 626.2,92.4 624.5,92.0 C622.7,91.7 621.0,91.3 619.2,91.0 C617.4,90.6 615.6,90.3 613.8,90.0 C612.0,89.7 610.2,89.4 608.3,89.1 C606.5,88.8 604.7,88.6 602.8,88.3 C600.9,88.1 599.1,87.9 597.2,87.6 C595.3,87.4 593.4,87.2 591.5,87.0 C589.6,86.9 587.7,86.7 585.8,86.5 C583.9,86.4 581.0,86.2 580.0,86.1 Z" fill="none" stroke="#1c1c1c" stroke-width="7" stroke-linejoin="round"/>

<!-- bladder -->
<path d="M535.0,80.0 C535.0,82.9 536.2,93.6 535.0,97.2 C533.8,100.8 529.4,100.8 528.1,101.6 C526.8,102.4 527.7,101.9 527.3,102.2 C527.0,102.5 526.4,103.0 525.9,103.5 C525.3,104.0 524.7,104.6 524.0,105.2 C523.3,105.9 522.6,106.6 521.8,107.4 C521.1,108.1 520.3,108.9 519.6,109.8 C518.8,110.7 518.0,111.6 517.2,112.6 C516.5,113.6 515.7,114.6 515.0,115.7 C514.2,116.8 513.5,117.9 512.8,119.0 C512.1,120.2 511.4,121.4 510.7,122.7 C510.1,123.9 509.5,125.2 508.8,126.5 C508.2,127.9 507.6,129.2 507.0,130.6 C506.4,132.1 505.9,133.5 505.3,135.0 C504.7,136.5 504.2,138.0 503.6,139.5 C503.0,141.1 502.5,142.7 501.9,144.3 C501.3,145.9 500.8,147.6 500.2,149.3 C499.7,151.0 499.1,152.7 498.6,154.5 C498.0,156.3 497.5,158.1 496.9,159.9 C496.4,161.7 495.9,163.6 495.4,165.5 C494.9,167.4 494.3,169.3 493.8,171.2 C493.3,173.2 492.9,175.2 492.4,177.2 C491.9,179.2 491.4,181.3 490.9,183.3 C490.5,185.4 490.0,187.5 489.5,189.6 C489.1,191.8 488.6,193.9 488.2,196.1 C487.7,198.3 487.3,200.5 486.9,202.8 C486.4,205.0 486.0,207.3 485.5,209.6 C485.1,211.9 484.7,214.3 484.2,216.6 C483.8,219.0 483.3,221.4 482.9,223.8 C482.4,226.2 481.9,228.6 481.5,231.1 C481.0,233.6 480.5,236.1 480.0,238.6 C479.5,241.1 478.9,243.6 478.4,246.2 C477.8,248.8 477.2,251.4 476.5,254.0 C475.9,256.6 475.2,259.3 474.3,261.9 C473.5,264.6 472.6,267.3 471.6,270.0 C470.6,272.8 469.5,275.5 468.3,278.3 C467.2,281.1 466.0,283.9 464.8,286.7 C463.6,289.5 462.4,292.3 461.1,295.2 C459.9,298.1 458.6,301.0 457.4,303.9 C456.1,306.8 454.8,309.7 453.5,312.7 C452.2,315.7 450.9,318.6 449.6,321.7 C448.3,324.7 447.0,327.7 445.7,330.8 C444.3,333.8 443.0,336.9 441.7,340.0 C440.4,343.1 439.1,346.2 437.7,349.4 C436.4,352.5 435.1,355.7 433.8,358.9 C432.6,362.1 431.3,365.3 430.0,368.5 C428.8,371.7 427.5,375.0 426.3,378.3 C425.1,381.6 423.9,384.9 422.8,388.2 C421.6,391.5 420.5,394.8 419.4,398.2 C418.3,401.6 417.3,405.0 416.3,408.4 C415.3,411.8 414.3,415.2 413.4,418.7 C412.5,422.1 411.7,425.6 410.9,429.1 C410.1,432.6 409.4,436.1 408.8,439.6 C408.1,443.2 407.6,446.7 407.1,450.3 C406.6,453.9 406.2,457.5 405.9,461.1 C405.6,464.7 405.3,468.3 405.2,472.0 C405.1,475.6 405.1,479.3 405.2,483.0 C405.3,486.7 405.4,490.4 405.8,494.2 C406.1,497.9 406.6,501.7 407.2,505.5 C407.7,509.2 408.5,513.0 409.3,516.9 C410.2,520.7 411.2,524.5 412.4,528.4 C413.6,532.2 414.9,536.8 416.4,540.0 C418.0,543.2 418.6,544.2 421.5,547.5 C424.4,550.8 430.3,556.9 433.8,559.8 C437.3,562.7 439.9,563.2 442.6,565.0 C445.3,566.8 446.0,567.8 450.0,570.3 C454.0,572.8 462.0,577.7 466.7,580.3 C471.4,582.9 474.5,584.4 478.4,586.1 C482.3,587.9 486.1,589.4 490.0,590.8 C493.9,592.2 497.8,592.8 501.7,594.3 C505.6,595.8 510.3,597.8 513.4,599.6 C516.5,601.5 518.8,603.2 520.4,605.4 C522.0,607.6 522.4,611.7 522.8,613.0 L587.7,613 C588.5,611.5 590.9,606.4 592.6,604.0 C594.3,601.6 595.6,600.2 598.1,598.6 C600.6,597.0 604.0,595.9 607.9,594.4 C611.8,592.9 617.1,591.1 621.8,589.5 C626.4,587.9 631.1,586.4 635.8,584.6 C640.4,582.9 644.8,581.1 649.7,579.0 C654.6,576.9 661.0,574.0 665.0,572.0 C669.0,570.0 670.9,568.8 673.8,566.8 C676.7,564.8 679.6,562.3 682.5,559.8 C685.4,557.2 688.7,554.8 691.3,551.5 C693.9,548.2 696.4,543.9 698.1,540.0 C699.9,536.1 700.7,532.2 701.8,528.4 C703.0,524.5 704.0,520.7 704.8,516.9 C705.7,513.0 706.5,509.2 707.1,505.5 C707.8,501.7 708.3,497.9 708.6,494.2 C709.0,490.4 709.3,486.7 709.4,483.0 C709.5,479.3 709.5,475.6 709.4,472.0 C709.3,468.3 709.0,464.7 708.6,461.1 C708.2,457.5 707.7,453.9 707.1,450.3 C706.4,446.7 705.7,443.2 704.9,439.6 C704.1,436.1 703.2,432.6 702.3,429.1 C701.3,425.6 700.3,422.1 699.3,418.7 C698.2,415.2 697.1,411.8 696.0,408.4 C694.9,405.0 693.7,401.6 692.5,398.2 C691.4,394.8 690.2,391.5 689.1,388.2 C687.9,384.9 686.7,381.6 685.5,378.3 C684.3,375.0 683.1,371.7 681.9,368.5 C680.7,365.3 679.5,362.1 678.3,358.9 C677.1,355.7 675.8,352.5 674.6,349.4 C673.3,346.2 672.1,343.1 670.8,340.0 C669.5,336.9 668.3,333.8 667.0,330.8 C665.7,327.7 664.4,324.7 663.0,321.7 C661.7,318.6 660.4,315.7 659.0,312.7 C657.7,309.7 656.3,306.8 655.0,303.9 C653.7,301.0 652.4,298.1 651.1,295.2 C649.8,292.3 648.6,289.5 647.4,286.7 C646.2,283.9 645.0,281.1 643.9,278.3 C642.8,275.5 641.7,272.8 640.7,270.0 C639.7,267.3 638.7,264.6 637.8,261.9 C637.0,259.3 636.2,256.6 635.4,254.0 C634.7,251.4 634.0,248.8 633.4,246.2 C632.8,243.6 632.3,241.1 631.7,238.6 C631.2,236.1 630.7,233.6 630.3,231.1 C629.8,228.6 629.4,226.2 629.0,223.8 C628.5,221.4 628.1,219.0 627.7,216.6 C627.3,214.3 626.9,211.9 626.5,209.6 C626.1,207.3 625.7,205.0 625.3,202.8 C624.9,200.5 624.4,198.3 624.0,196.1 C623.5,193.9 623.0,191.8 622.5,189.6 C622.0,187.5 621.5,185.4 621.0,183.3 C620.5,181.3 619.9,179.2 619.4,177.2 C618.8,175.2 618.2,173.2 617.7,171.2 C617.1,169.3 616.5,167.4 615.9,165.5 C615.3,163.6 614.7,161.7 614.1,159.9 C613.5,158.1 612.9,156.3 612.3,154.5 C611.7,152.7 611.1,151.0 610.5,149.3 C610.0,147.6 609.4,145.9 608.8,144.3 C608.2,142.7 607.6,141.1 607.0,139.5 C606.5,138.0 605.9,136.5 605.3,135.0 C604.8,133.5 604.2,132.1 603.7,130.6 C603.2,129.2 602.7,127.9 602.1,126.5 C601.6,125.2 601.1,123.9 600.5,122.7 C600.0,121.4 599.4,120.2 598.9,119.0 C598.3,117.9 597.7,116.8 597.1,115.7 C596.5,114.6 595.8,113.6 595.2,112.6 C594.5,111.6 593.9,110.7 593.2,109.8 C592.6,108.9 591.9,108.1 591.3,107.4 C590.6,106.6 590.0,105.9 589.4,105.2 C588.8,104.6 588.2,104.0 587.7,103.5 C587.2,103.0 586.7,102.5 586.4,102.2 C586.0,101.9 587.0,102.4 585.7,101.6 C584.4,100.8 579.5,100.8 578.3,97.2 C577.1,93.6 578.3,82.9 578.3,80.0 Z" fill="#9fd9f5"/>
<path d="M535.0,80.0 C535.0,82.9 536.2,93.6 535.0,97.2 C533.8,100.8 529.4,100.8 528.1,101.6 C526.8,102.4 527.7,101.9 527.3,102.2 C527.0,102.5 526.4,103.0 525.9,103.5 C525.3,104.0 524.7,104.6 524.0,105.2 C523.3,105.9 522.6,106.6 521.8,107.4 C521.1,108.1 520.3,108.9 519.6,109.8 C518.8,110.7 518.0,111.6 517.2,112.6 C516.5,113.6 515.7,114.6 515.0,115.7 C514.2,116.8 513.5,117.9 512.8,119.0 C512.1,120.2 511.4,121.4 510.7,122.7 C510.1,123.9 509.5,125.2 508.8,126.5 C508.2,127.9 507.6,129.2 507.0,130.6 C506.4,132.1 505.9,133.5 505.3,135.0 C504.7,136.5 504.2,138.0 503.6,139.5 C503.0,141.1 502.5,142.7 501.9,144.3 C501.3,145.9 500.8,147.6 500.2,149.3 C499.7,151.0 499.1,152.7 498.6,154.5 C498.0,156.3 497.5,158.1 496.9,159.9 C496.4,161.7 495.9,163.6 495.4,165.5 C494.9,167.4 494.3,169.3 493.8,171.2 C493.3,173.2 492.9,175.2 492.4,177.2 C491.9,179.2 491.4,181.3 490.9,183.3 C490.5,185.4 490.0,187.5 489.5,189.6 C489.1,191.8 488.6,193.9 488.2,196.1 C487.7,198.3 487.3,200.5 486.9,202.8 C486.4,205.0 486.0,207.3 485.5,209.6 C485.1,211.9 484.7,214.3 484.2,216.6 C483.8,219.0 483.3,221.4 482.9,223.8 C482.4,226.2 481.9,228.6 481.5,231.1 C481.0,233.6 480.5,236.1 480.0,238.6 C479.5,241.1 478.9,243.6 478.4,246.2 C477.8,248.8 477.2,251.4 476.5,254.0 C475.9,256.6 475.2,259.3 474.3,261.9 C473.5,264.6 472.6,267.3 471.6,270.0 C470.6,272.8 469.5,275.5 468.3,278.3 C467.2,281.1 466.0,283.9 464.8,286.7 C463.6,289.5 462.4,292.3 461.1,295.2 C459.9,298.1 458.6,301.0 457.4,303.9 C456.1,306.8 454.8,309.7 453.5,312.7 C452.2,315.7 450.9,318.6 449.6,321.7 C448.3,324.7 447.0,327.7 445.7,330.8 C444.3,333.8 443.0,336.9 441.7,340.0 C440.4,343.1 439.1,346.2 437.7,349.4 C436.4,352.5 435.1,355.7 433.8,358.9 C432.6,362.1 431.3,365.3 430.0,368.5 C428.8,371.7 427.5,375.0 426.3,378.3 C425.1,381.6 423.9,384.9 422.8,388.2 C421.6,391.5 420.5,394.8 419.4,398.2 C418.3,401.6 417.3,405.0 416.3,408.4 C415.3,411.8 414.3,415.2 413.4,418.7 C412.5,422.1 411.7,425.6 410.9,429.1 C410.1,432.6 409.4,436.1 408.8,439.6 C408.1,443.2 407.6,446.7 407.1,450.3 C406.6,453.9 406.2,457.5 405.9,461.1 C405.6,464.7 405.3,468.3 405.2,472.0 C405.1,475.6 405.1,479.3 405.2,483.0 C405.3,486.7 405.4,490.4 405.8,494.2 C406.1,497.9 406.6,501.7 407.2,505.5 C407.7,509.2 408.5,513.0 409.3,516.9 C410.2,520.7 411.2,524.5 412.4,528.4 C413.6,532.2 414.9,536.8 416.4,540.0 C418.0,543.2 418.6,544.2 421.5,547.5 C424.4,550.8 430.3,556.9 433.8,559.8 C437.3,562.7 439.9,563.2 442.6,565.0 C445.3,566.8 446.0,567.8 450.0,570.3 C454.0,572.8 462.0,577.7 466.7,580.3 C471.4,582.9 474.5,584.4 478.4,586.1 C482.3,587.9 486.1,589.4 490.0,590.8 C493.9,592.2 497.8,592.8 501.7,594.3 C505.6,595.8 510.3,597.8 513.4,599.6 C516.5,601.5 518.8,603.2 520.4,605.4 C522.0,607.6 522.4,611.7 522.8,613.0" fill="none" stroke="#1c1c1c" stroke-width="7"/>
<path d="M587.7,613.0 C588.5,611.5 590.9,606.4 592.6,604.0 C594.3,601.6 595.6,600.2 598.1,598.6 C600.6,597.0 604.0,595.9 607.9,594.4 C611.8,592.9 617.1,591.1 621.8,589.5 C626.4,587.9 631.1,586.4 635.8,584.6 C640.4,582.9 644.8,581.1 649.7,579.0 C654.6,576.9 661.0,574.0 665.0,572.0 C669.0,570.0 670.9,568.8 673.8,566.8 C676.7,564.8 679.6,562.3 682.5,559.8 C685.4,557.2 688.7,554.8 691.3,551.5 C693.9,548.2 696.4,543.9 698.1,540.0 C699.9,536.1 700.7,532.2 701.8,528.4 C703.0,524.5 704.0,520.7 704.8,516.9 C705.7,513.0 706.5,509.2 707.1,505.5 C707.8,501.7 708.3,497.9 708.6,494.2 C709.0,490.4 709.3,486.7 709.4,483.0 C709.5,479.3 709.5,475.6 709.4,472.0 C709.3,468.3 709.0,464.7 708.6,461.1 C708.2,457.5 707.7,453.9 707.1,450.3 C706.4,446.7 705.7,443.2 704.9,439.6 C704.1,436.1 703.2,432.6 702.3,429.1 C701.3,425.6 700.3,422.1 699.3,418.7 C698.2,415.2 697.1,411.8 696.0,408.4 C694.9,405.0 693.7,401.6 692.5,398.2 C691.4,394.8 690.2,391.5 689.1,388.2 C687.9,384.9 686.7,381.6 685.5,378.3 C684.3,375.0 683.1,371.7 681.9,368.5 C680.7,365.3 679.5,362.1 678.3,358.9 C677.1,355.7 675.8,352.5 674.6,349.4 C673.3,346.2 672.1,343.1 670.8,340.0 C669.5,336.9 668.3,333.8 667.0,330.8 C665.7,327.7 664.4,324.7 663.0,321.7 C661.7,318.6 660.4,315.7 659.0,312.7 C657.7,309.7 656.3,306.8 655.0,303.9 C653.7,301.0 652.4,298.1 651.1,295.2 C649.8,292.3 648.6,289.5 647.4,286.7 C646.2,283.9 645.0,281.1 643.9,278.3 C642.8,275.5 641.7,272.8 640.7,270.0 C639.7,267.3 638.7,264.6 637.8,261.9 C637.0,259.3 636.2,256.6 635.4,254.0 C634.7,251.4 634.0,248.8 633.4,246.2 C632.8,243.6 632.3,241.1 631.7,238.6 C631.2,236.1 630.7,233.6 630.3,231.1 C629.8,228.6 629.4,226.2 629.0,223.8 C628.5,221.4 628.1,219.0 627.7,216.6 C627.3,214.3 626.9,211.9 626.5,209.6 C626.1,207.3 625.7,205.0 625.3,202.8 C624.9,200.5 624.4,198.3 624.0,196.1 C623.5,193.9 623.0,191.8 622.5,189.6 C622.0,187.5 621.5,185.4 621.0,183.3 C620.5,181.3 619.9,179.2 619.4,177.2 C618.8,175.2 618.2,173.2 617.7,171.2 C617.1,169.3 616.5,167.4 615.9,165.5 C615.3,163.6 614.7,161.7 614.1,159.9 C613.5,158.1 612.9,156.3 612.3,154.5 C611.7,152.7 611.1,151.0 610.5,149.3 C610.0,147.6 609.4,145.9 608.8,144.3 C608.2,142.7 607.6,141.1 607.0,139.5 C606.5,138.0 605.9,136.5 605.3,135.0 C604.8,133.5 604.2,132.1 603.7,130.6 C603.2,129.2 602.7,127.9 602.1,126.5 C601.6,125.2 601.1,123.9 600.5,122.7 C600.0,121.4 599.4,120.2 598.9,119.0 C598.3,117.9 597.7,116.8 597.1,115.7 C596.5,114.6 595.8,113.6 595.2,112.6 C594.5,111.6 593.9,110.7 593.2,109.8 C592.6,108.9 591.9,108.1 591.3,107.4 C590.6,106.6 590.0,105.9 589.4,105.2 C588.8,104.6 588.2,104.0 587.7,103.5 C587.2,103.0 586.7,102.5 586.4,102.2 C586.0,101.9 587.0,102.4 585.7,101.6 C584.4,100.8 579.5,100.8 578.3,97.2 C577.1,93.6 578.3,82.9 578.3,80.0" fill="none" stroke="#1c1c1c" stroke-width="7"/>
<g fill="none" stroke="#686868" stroke-width="1.1"><path d="M523.0,114.1 Q528.5,119.1 534.0,114.1 Q539.5,119.1 545.0,114.1 Q550.5,119.1 556.0,114.1 Q561.5,119.1 567.0,114.1 Q572.5,119.1 578.0,114.1 Q583.5,119.1 589.0,114.1"/><path d="M517.0,136.0 Q522.5,141.0 528.0,136.0 Q533.5,141.0 539.0,136.0 Q544.5,141.0 550.0,136.0 Q555.5,141.0 561.0,136.0 Q566.5,141.0 572.0,136.0 Q577.5,141.0 583.0,136.0 Q588.5,141.0 594.0,136.0"/><path d="M513.0,157.5 Q518.4,162.5 523.9,157.5 Q529.3,162.5 534.8,157.5 Q540.2,162.5 545.6,157.5 Q551.1,162.5 556.5,157.5 Q561.9,162.5 567.4,157.5 Q572.8,162.5 578.2,157.5 Q583.7,162.5 589.1,157.5 Q594.6,162.5 600.0,157.5"/><path d="M513.0,183.9 Q518.4,188.9 523.8,183.9 Q529.1,188.9 534.5,183.9 Q539.9,188.9 545.2,183.9 Q550.6,188.9 556.0,183.9 Q561.4,188.9 566.8,183.9 Q572.1,188.9 577.5,183.9 Q582.9,188.9 588.2,183.9 Q593.6,188.9 599.0,183.9"/><path d="M513.0,209.3 Q518.4,214.3 523.8,209.3 Q529.1,214.3 534.5,209.3 Q539.9,214.3 545.2,209.3 Q550.6,214.3 556.0,209.3 Q561.4,214.3 566.8,209.3 Q572.1,214.3 577.5,209.3 Q582.9,214.3 588.2,209.3 Q593.6,214.3 599.0,209.3"/><path d="M513.0,235.5 Q518.4,240.5 523.9,235.5 Q529.3,240.5 534.8,235.5 Q540.2,240.5 545.6,235.5 Q551.1,240.5 556.5,235.5 Q561.9,240.5 567.4,235.5 Q572.8,240.5 578.2,235.5 Q583.7,240.5 589.1,235.5 Q594.6,240.5 600.0,235.5"/><path d="M492.0,261.1 Q497.4,266.1 502.8,261.1 Q508.1,266.1 513.5,261.1 Q518.9,266.1 524.2,261.1 Q529.6,266.1 535.0,261.1 Q540.4,266.1 545.8,261.1 Q551.1,266.1 556.5,261.1 Q561.9,266.1 567.2,261.1 Q572.6,266.1 578.0,261.1 Q583.4,266.1 588.8,261.1 Q594.1,266.1 599.5,261.1 Q604.9,266.1 610.2,261.1 Q615.6,266.1 621.0,261.1"/><path d="M487.0,287.5 Q492.4,292.5 497.8,287.5 Q503.2,292.5 508.5,287.5 Q513.9,292.5 519.3,287.5 Q524.7,292.5 530.1,287.5 Q535.5,292.5 540.8,287.5 Q546.2,292.5 551.6,287.5 Q557.0,292.5 562.4,287.5 Q567.8,292.5 573.2,287.5 Q578.5,292.5 583.9,287.5 Q589.3,292.5 594.7,287.5 Q600.1,292.5 605.5,287.5 Q610.8,292.5 616.2,287.5 Q621.6,292.5 627.0,287.5"/><path d="M471.0,313.8 Q476.4,318.8 481.8,313.8 Q487.2,318.8 492.6,313.8 Q498.0,318.8 503.4,313.8 Q508.8,318.8 514.2,313.8 Q519.7,318.8 525.1,313.8 Q530.5,318.8 535.9,313.8 Q541.3,318.8 546.7,313.8 Q552.1,318.8 557.5,313.8 Q562.9,318.8 568.3,313.8 Q573.7,318.8 579.1,313.8 Q584.5,318.8 589.9,313.8 Q595.3,318.8 600.8,313.8 Q606.2,318.8 611.6,313.8 Q617.0,318.8 622.4,313.8 Q627.8,318.8 633.2,313.8 Q638.6,318.8 644.0,313.8"/><path d="M462.0,339.0 Q467.4,344.0 472.8,339.0 Q478.1,344.0 483.5,339.0 Q488.9,344.0 494.2,339.0 Q499.6,344.0 505.0,339.0 Q510.4,344.0 515.8,339.0 Q521.1,344.0 526.5,339.0 Q531.9,344.0 537.2,339.0 Q542.6,344.0 548.0,339.0"/><path d="M569.0,339.0 Q574.4,344.0 579.8,339.0 Q585.1,344.0 590.5,339.0 Q595.9,344.0 601.2,339.0 Q606.6,344.0 612.0,339.0 Q617.4,344.0 622.8,339.0 Q628.1,344.0 633.5,339.0 Q638.9,344.0 644.2,339.0 Q649.6,344.0 655.0,339.0"/><path d="M446.0,365.3 Q451.4,370.3 456.8,365.3 Q462.2,370.3 467.6,365.3 Q473.0,370.3 478.4,365.3 Q483.8,370.3 489.2,365.3 Q494.6,370.3 500.0,365.3 Q505.4,370.3 510.8,365.3 Q516.2,370.3 521.6,365.3 Q527.0,370.3 532.4,365.3 Q537.8,370.3 543.2,365.3 Q548.6,370.3 554.0,365.3 Q559.4,370.3 564.8,365.3 Q570.2,370.3 575.6,365.3 Q581.0,370.3 586.4,365.3 Q591.8,370.3 597.2,365.3 Q602.6,370.3 608.0,365.3 Q613.4,370.3 618.8,365.3 Q624.2,370.3 629.6,365.3 Q635.0,370.3 640.4,365.3 Q645.8,370.3 651.2,365.3 Q656.6,370.3 662.0,365.3"/><path d="M461.0,391.1 Q466.4,396.1 471.9,391.1 Q477.3,396.1 482.8,391.1 Q488.2,396.1 493.6,391.1 Q499.1,396.1 504.5,391.1 Q509.9,396.1 515.4,391.1 Q520.8,396.1 526.2,391.1 Q531.7,396.1 537.1,391.1 Q542.6,396.1 548.0,391.1"/><path d="M565.0,391.1 Q570.4,396.1 575.9,391.1 Q581.3,396.1 586.8,391.1 Q592.2,396.1 597.6,391.1 Q603.1,396.1 608.5,391.1 Q613.9,396.1 619.4,391.1 Q624.8,396.1 630.2,391.1 Q635.7,396.1 641.1,391.1 Q646.6,396.1 652.0,391.1"/><path d="M435.6,417.0 Q441.1,422.0 446.6,417.0 Q452.1,422.0 457.5,417.0 Q463.0,422.0 468.5,417.0 Q474.0,422.0 479.5,417.0 Q485.0,422.0 490.5,417.0 Q496.0,422.0 501.4,417.0 Q506.9,422.0 512.4,417.0 Q517.9,422.0 523.4,417.0 Q528.9,422.0 534.4,417.0 Q539.8,422.0 545.3,417.0 Q550.8,422.0 556.3,417.0 Q561.8,422.0 567.3,417.0 Q572.8,422.0 578.2,417.0 Q583.7,422.0 589.2,417.0 Q594.7,422.0 600.2,417.0 Q605.7,422.0 611.2,417.0 Q616.6,422.0 622.1,417.0 Q627.6,422.0 633.1,417.0 Q638.6,422.0 644.1,417.0 Q649.6,422.0 655.1,417.0 Q660.5,422.0 666.0,417.0 Q671.5,422.0 677.0,417.0"/><path d="M446.0,443.0 Q451.4,448.0 456.8,443.0 Q462.2,448.0 467.6,443.0 Q473.0,448.0 478.4,443.0 Q483.8,448.0 489.2,443.0 Q494.6,448.0 500.0,443.0 Q505.4,448.0 510.8,443.0 Q516.2,448.0 521.6,443.0 Q527.0,448.0 532.4,443.0 Q537.8,448.0 543.2,443.0 Q548.6,448.0 554.0,443.0 Q559.4,448.0 564.8,443.0 Q570.2,448.0 575.6,443.0 Q581.0,448.0 586.4,443.0 Q591.8,448.0 597.2,443.0 Q602.6,448.0 608.0,443.0 Q613.4,448.0 618.8,443.0 Q624.2,448.0 629.6,443.0 Q635.0,448.0 640.4,443.0 Q645.8,448.0 651.2,443.0 Q656.6,448.0 662.0,443.0"/><path d="M427.0,473.0 Q432.4,478.0 437.9,473.0 Q443.3,478.0 448.8,473.0 Q454.2,478.0 459.6,473.0 Q465.1,478.0 470.5,473.0 Q475.9,478.0 481.4,473.0 Q486.8,478.0 492.2,473.0 Q497.7,478.0 503.1,473.0 Q508.6,478.0 514.0,473.0 Q519.4,478.0 524.9,473.0 Q530.3,478.0 535.8,473.0 Q541.2,478.0 546.6,473.0 Q552.1,478.0 557.5,473.0 Q562.9,478.0 568.4,473.0 Q573.8,478.0 579.2,473.0 Q584.7,478.0 590.1,473.0 Q595.6,478.0 601.0,473.0 Q606.4,478.0 611.9,473.0 Q617.3,478.0 622.8,473.0 Q628.2,478.0 633.6,473.0 Q639.1,478.0 644.5,473.0 Q649.9,478.0 655.4,473.0 Q660.8,478.0 666.2,473.0 Q671.7,478.0 677.1,473.0 Q682.6,478.0 688.0,473.0"/><path d="M427.0,498.9 Q432.4,503.9 437.9,498.9 Q443.3,503.9 448.8,498.9 Q454.2,503.9 459.6,498.9 Q465.1,503.9 470.5,498.9 Q475.9,503.9 481.4,498.9 Q486.8,503.9 492.2,498.9 Q497.7,503.9 503.1,498.9 Q508.6,503.9 514.0,498.9 Q519.4,503.9 524.9,498.9 Q530.3,503.9 535.8,498.9 Q541.2,503.9 546.6,498.9 Q552.1,503.9 557.5,498.9 Q562.9,503.9 568.4,498.9 Q573.8,503.9 579.2,498.9 Q584.7,503.9 590.1,498.9 Q595.6,503.9 601.0,498.9 Q606.4,503.9 611.9,498.9 Q617.3,503.9 622.8,498.9 Q628.2,503.9 633.6,498.9 Q639.1,503.9 644.5,498.9 Q649.9,503.9 655.4,498.9 Q660.8,503.9 666.2,498.9 Q671.7,503.9 677.1,498.9 Q682.6,503.9 688.0,498.9"/><path d="M427.0,524.3 Q432.4,529.3 437.9,524.3 Q443.3,529.3 448.8,524.3 Q454.2,529.3 459.6,524.3 Q465.1,529.3 470.5,524.3 Q475.9,529.3 481.4,524.3 Q486.8,529.3 492.2,524.3 Q497.7,529.3 503.1,524.3 Q508.6,529.3 514.0,524.3 Q519.4,529.3 524.9,524.3 Q530.3,529.3 535.8,524.3 Q541.2,529.3 546.6,524.3 Q552.1,529.3 557.5,524.3 Q562.9,529.3 568.4,524.3 Q573.8,529.3 579.2,524.3 Q584.7,529.3 590.1,524.3 Q595.6,529.3 601.0,524.3 Q606.4,529.3 611.9,524.3 Q617.3,529.3 622.8,524.3 Q628.2,529.3 633.6,524.3 Q639.1,529.3 644.5,524.3 Q649.9,529.3 655.4,524.3 Q660.8,529.3 666.2,524.3 Q671.7,529.3 677.1,524.3 Q682.6,529.3 688.0,524.3"/><path d="M446.0,555.8 Q451.6,560.8 457.1,555.8 Q462.7,560.8 468.3,555.8 Q473.9,560.8 479.4,555.8 Q485.0,560.8 490.6,555.8 Q496.1,560.8 501.7,555.8 Q507.3,560.8 512.9,555.8 Q518.4,560.8 524.0,555.8"/><path d="M566.0,555.8 Q571.3,560.8 576.6,555.8 Q581.8,560.8 587.1,555.8 Q592.4,560.8 597.7,555.8 Q602.9,560.8 608.2,555.8 Q613.5,560.8 618.8,555.8 Q624.1,560.8 629.3,555.8 Q634.6,560.8 639.9,555.8 Q645.2,560.8 650.4,555.8 Q655.7,560.8 661.0,555.8"/></g>

<!-- PALL column -->
<g id="column">
 <rect x="525" y="536" width="40.5" height="76" fill="#9fd9f5"/>
 <g transform="translate(544.7,536.5) rotate(-4) scale(1,0.88)"><rect x="-6.8" y="-6.8" width="13.6" height="13.6" rx="2.4" fill="#444" stroke="#111" stroke-width="1"/><path d="M-5,-5 L5,-5 L5,5 L-5,5 Z M-2.8,-2.8 L-2.8,3 L3,3 L3,-2.8 Z" fill="#a6a6a6" fill-rule="evenodd"/><path d="M-5.2,-4.3 L3.5,-4.3" stroke="#f0f0f0" stroke-width="1.2"/><path d="M-4.3,-3 L-4.3,4.5" stroke="#d0d0d0" stroke-width="0.9"/><path d="M4.4,-2 L4.4,5" stroke="#222" stroke-width="1.1"/><path d="M-3,4.4 L4,4.4" stroke="#444" stroke-width="1"/><rect x="-2.2" y="-2.2" width="4.6" height="4.6" fill="#2a2a2a"/><rect x="-1.2" y="-1" width="2.2" height="2.4" fill="#e6e6e6"/><path d="M-6.8,1 L-2.5,1" fill="none" stroke="#111" stroke-width="1"/></g><g transform="translate(532.4,543.0) rotate(-3) scale(1,0.86)"><rect x="-6.8" y="-6.8" width="13.6" height="13.6" rx="2.4" fill="#444" stroke="#111" stroke-width="1"/><path d="M-5,-5 L5,-5 L5,5 L-5,5 Z M-2.8,-2.8 L-2.8,3 L3,3 L3,-2.8 Z" fill="#a6a6a6" fill-rule="evenodd"/><path d="M-5.2,-4.3 L3.5,-4.3" stroke="#f0f0f0" stroke-width="1.2"/><path d="M-4.3,-3 L-4.3,4.5" stroke="#d0d0d0" stroke-width="0.9"/><path d="M4.4,-2 L4.4,5" stroke="#222" stroke-width="1.1"/><path d="M-3,4.4 L4,4.4" stroke="#444" stroke-width="1"/><rect x="-2.2" y="-2.2" width="4.6" height="4.6" fill="#2a2a2a"/><rect x="-1.2" y="-1" width="2.2" height="2.4" fill="#e6e6e6"/><path d="M-6.8,1 L-2.5,1" fill="none" stroke="#111" stroke-width="1"/></g><g transform="translate(556.5,543.5) rotate(-28) scale(1,0.86)"><rect x="-6.8" y="-6.8" width="13.6" height="13.6" rx="2.4" fill="#444" stroke="#111" stroke-width="1"/><path d="M-5,-5 L5,-5 L5,5 L-5,5 Z M-2.8,-2.8 L-2.8,3 L3,3 L3,-2.8 Z" fill="#a6a6a6" fill-rule="evenodd"/><path d="M-5.2,-4.3 L3.5,-4.3" stroke="#f0f0f0" stroke-width="1.2"/><path d="M-4.3,-3 L-4.3,4.5" stroke="#d0d0d0" stroke-width="0.9"/><path d="M4.4,-2 L4.4,5" stroke="#222" stroke-width="1.1"/><path d="M-3,4.4 L4,4.4" stroke="#444" stroke-width="1"/><rect x="-2.2" y="-2.2" width="4.6" height="4.6" fill="#2a2a2a"/><rect x="-1.2" y="-1" width="2.2" height="2.4" fill="#e6e6e6"/><path d="M-6.8,1 L-2.5,1" fill="none" stroke="#111" stroke-width="1"/></g><g transform="translate(557.0,553.0) rotate(26) scale(1,0.75)"><rect x="-6.8" y="-6.8" width="13.6" height="13.6" rx="2.4" fill="#444" stroke="#111" stroke-width="1"/><path d="M-5,-5 L5,-5 L5,5 L-5,5 Z M-2.8,-2.8 L-2.8,3 L3,3 L3,-2.8 Z" fill="#a6a6a6" fill-rule="evenodd"/><path d="M-5.2,-4.3 L3.5,-4.3" stroke="#f0f0f0" stroke-width="1.2"/><path d="M-4.3,-3 L-4.3,4.5" stroke="#d0d0d0" stroke-width="0.9"/><path d="M4.4,-2 L4.4,5" stroke="#222" stroke-width="1.1"/><path d="M-3,4.4 L4,4.4" stroke="#444" stroke-width="1"/><rect x="-2.2" y="-2.2" width="4.6" height="4.6" fill="#2a2a2a"/><rect x="-1.2" y="-1" width="2.2" height="2.4" fill="#e6e6e6"/><path d="M1,-6.8 L1,-2.5 L3.5,-2.5" fill="none" stroke="#111" stroke-width="1"/></g><g transform="translate(532.4,556.5) rotate(-37) scale(1,0.95)"><rect x="-6.8" y="-6.8" width="13.6" height="13.6" rx="2.4" fill="#444" stroke="#111" stroke-width="1"/><path d="M-5,-5 L5,-5 L5,5 L-5,5 Z M-2.8,-2.8 L-2.8,3 L3,3 L3,-2.8 Z" fill="#a6a6a6" fill-rule="evenodd"/><path d="M-5.2,-4.3 L3.5,-4.3" stroke="#f0f0f0" stroke-width="1.2"/><path d="M-4.3,-3 L-4.3,4.5" stroke="#d0d0d0" stroke-width="0.9"/><path d="M4.4,-2 L4.4,5" stroke="#222" stroke-width="1.1"/><path d="M-3,4.4 L4,4.4" stroke="#444" stroke-width="1"/><rect x="-2.2" y="-2.2" width="4.6" height="4.6" fill="#2a2a2a"/><rect x="-1.2" y="-1" width="2.2" height="2.4" fill="#e6e6e6"/><path d="M-6.8,1 L-2.5,1" fill="none" stroke="#111" stroke-width="1"/></g><g transform="translate(545.4,558.5) rotate(-41) scale(1,1.00)"><rect x="-6.8" y="-6.8" width="13.6" height="13.6" rx="2.4" fill="#444" stroke="#111" stroke-width="1"/><path d="M-5,-5 L5,-5 L5,5 L-5,5 Z M-2.8,-2.8 L-2.8,3 L3,3 L3,-2.8 Z" fill="#a6a6a6" fill-rule="evenodd"/><path d="M-5.2,-4.3 L3.5,-4.3" stroke="#f0f0f0" stroke-width="1.2"/><path d="M-4.3,-3 L-4.3,4.5" stroke="#d0d0d0" stroke-width="0.9"/><path d="M4.4,-2 L4.4,5" stroke="#222" stroke-width="1.1"/><path d="M-3,4.4 L4,4.4" stroke="#444" stroke-width="1"/><rect x="-2.2" y="-2.2" width="4.6" height="4.6" fill="#2a2a2a"/><rect x="-1.2" y="-1" width="2.2" height="2.4" fill="#e6e6e6"/><path d="M-6.8,1 L-2.5,1" fill="none" stroke="#111" stroke-width="1"/></g><g transform="translate(558.3,566.0) rotate(14) scale(1,0.89)"><rect x="-6.8" y="-6.8" width="13.6" height="13.6" rx="2.4" fill="#444" stroke="#111" stroke-width="1"/><path d="M-5,-5 L5,-5 L5,5 L-5,5 Z M-2.8,-2.8 L-2.8,3 L3,3 L3,-2.8 Z" fill="#a6a6a6" fill-rule="evenodd"/><path d="M-5.2,-4.3 L3.5,-4.3" stroke="#f0f0f0" stroke-width="1.2"/><path d="M-4.3,-3 L-4.3,4.5" stroke="#d0d0d0" stroke-width="0.9"/><path d="M4.4,-2 L4.4,5" stroke="#222" stroke-width="1.1"/><path d="M-3,4.4 L4,4.4" stroke="#444" stroke-width="1"/><rect x="-2.2" y="-2.2" width="4.6" height="4.6" fill="#2a2a2a"/><rect x="-1.2" y="-1" width="2.2" height="2.4" fill="#e6e6e6"/><path d="M1,-6.8 L1,-2.5 L3.5,-2.5" fill="none" stroke="#111" stroke-width="1"/></g><g transform="translate(533.3,571.0) rotate(-44) scale(1,0.87)"><rect x="-6.8" y="-6.8" width="13.6" height="13.6" rx="2.4" fill="#444" stroke="#111" stroke-width="1"/><path d="M-5,-5 L5,-5 L5,5 L-5,5 Z M-2.8,-2.8 L-2.8,3 L3,3 L3,-2.8 Z" fill="#a6a6a6" fill-rule="evenodd"/><path d="M-5.2,-4.3 L3.5,-4.3" stroke="#f0f0f0" stroke-width="1.2"/><path d="M-4.3,-3 L-4.3,4.5" stroke="#d0d0d0" stroke-width="0.9"/><path d="M4.4,-2 L4.4,5" stroke="#222" stroke-width="1.1"/><path d="M-3,4.4 L4,4.4" stroke="#444" stroke-width="1"/><rect x="-2.2" y="-2.2" width="4.6" height="4.6" fill="#2a2a2a"/><rect x="-1.2" y="-1" width="2.2" height="2.4" fill="#e6e6e6"/><path d="M1,-6.8 L1,-2.5 L3.5,-2.5" fill="none" stroke="#111" stroke-width="1"/></g><g transform="translate(547.2,573.4) rotate(-28) scale(1,0.79)"><rect x="-6.8" y="-6.8" width="13.6" height="13.6" rx="2.4" fill="#444" stroke="#111" stroke-width="1"/><path d="M-5,-5 L5,-5 L5,5 L-5,5 Z M-2.8,-2.8 L-2.8,3 L3,3 L3,-2.8 Z" fill="#a6a6a6" fill-rule="evenodd"/><path d="M-5.2,-4.3 L3.5,-4.3" stroke="#f0f0f0" stroke-width="1.2"/><path d="M-4.3,-3 L-4.3,4.5" stroke="#d0d0d0" stroke-width="0.9"/><path d="M4.4,-2 L4.4,5" stroke="#222" stroke-width="1.1"/><path d="M-3,4.4 L4,4.4" stroke="#444" stroke-width="1"/><rect x="-2.2" y="-2.2" width="4.6" height="4.6" fill="#2a2a2a"/><rect x="-1.2" y="-1" width="2.2" height="2.4" fill="#e6e6e6"/><path d="M1,-6.8 L1,-2.5 L3.5,-2.5" fill="none" stroke="#111" stroke-width="1"/></g><g transform="translate(558.3,580.5) rotate(-3) scale(1,0.84)"><rect x="-6.8" y="-6.8" width="13.6" height="13.6" rx="2.4" fill="#444" stroke="#111" stroke-width="1"/><path d="M-5,-5 L5,-5 L5,5 L-5,5 Z M-2.8,-2.8 L-2.8,3 L3,3 L3,-2.8 Z" fill="#a6a6a6" fill-rule="evenodd"/><path d="M-5.2,-4.3 L3.5,-4.3" stroke="#f0f0f0" stroke-width="1.2"/><path d="M-4.3,-3 L-4.3,4.5" stroke="#d0d0d0" stroke-width="0.9"/><path d="M4.4,-2 L4.4,5" stroke="#222" stroke-width="1.1"/><path d="M-3,4.4 L4,4.4" stroke="#444" stroke-width="1"/><rect x="-2.2" y="-2.2" width="4.6" height="4.6" fill="#2a2a2a"/><rect x="-1.2" y="-1" width="2.2" height="2.4" fill="#e6e6e6"/><path d="M-6.8,1 L-2.5,1" fill="none" stroke="#111" stroke-width="1"/></g><g transform="translate(533.3,585.5) rotate(2) scale(1,0.90)"><rect x="-6.8" y="-6.8" width="13.6" height="13.6" rx="2.4" fill="#444" stroke="#111" stroke-width="1"/><path d="M-5,-5 L5,-5 L5,5 L-5,5 Z M-2.8,-2.8 L-2.8,3 L3,3 L3,-2.8 Z" fill="#a6a6a6" fill-rule="evenodd"/><path d="M-5.2,-4.3 L3.5,-4.3" stroke="#f0f0f0" stroke-width="1.2"/><path d="M-4.3,-3 L-4.3,4.5" stroke="#d0d0d0" stroke-width="0.9"/><path d="M4.4,-2 L4.4,5" stroke="#222" stroke-width="1.1"/><path d="M-3,4.4 L4,4.4" stroke="#444" stroke-width="1"/><rect x="-2.2" y="-2.2" width="4.6" height="4.6" fill="#2a2a2a"/><rect x="-1.2" y="-1" width="2.2" height="2.4" fill="#e6e6e6"/><path d="M1,-6.8 L1,-2.5 L3.5,-2.5" fill="none" stroke="#111" stroke-width="1"/></g><g transform="translate(546.4,588.5) rotate(15) scale(1,0.85)"><rect x="-6.8" y="-6.8" width="13.6" height="13.6" rx="2.4" fill="#444" stroke="#111" stroke-width="1"/><path d="M-5,-5 L5,-5 L5,5 L-5,5 Z M-2.8,-2.8 L-2.8,3 L3,3 L3,-2.8 Z" fill="#a6a6a6" fill-rule="evenodd"/><path d="M-5.2,-4.3 L3.5,-4.3" stroke="#f0f0f0" stroke-width="1.2"/><path d="M-4.3,-3 L-4.3,4.5" stroke="#d0d0d0" stroke-width="0.9"/><path d="M4.4,-2 L4.4,5" stroke="#222" stroke-width="1.1"/><path d="M-3,4.4 L4,4.4" stroke="#444" stroke-width="1"/><rect x="-2.2" y="-2.2" width="4.6" height="4.6" fill="#2a2a2a"/><rect x="-1.2" y="-1" width="2.2" height="2.4" fill="#e6e6e6"/><path d="M1,-6.8 L1,-2.5 L3.5,-2.5" fill="none" stroke="#111" stroke-width="1"/></g><g transform="translate(558.5,594.0) rotate(45) scale(1,1.00)"><rect x="-6.8" y="-6.8" width="13.6" height="13.6" rx="2.4" fill="#444" stroke="#111" stroke-width="1"/><path d="M-5,-5 L5,-5 L5,5 L-5,5 Z M-2.8,-2.8 L-2.8,3 L3,3 L3,-2.8 Z" fill="#a6a6a6" fill-rule="evenodd"/><path d="M-5.2,-4.3 L3.5,-4.3" stroke="#f0f0f0" stroke-width="1.2"/><path d="M-4.3,-3 L-4.3,4.5" stroke="#d0d0d0" stroke-width="0.9"/><path d="M4.4,-2 L4.4,5" stroke="#222" stroke-width="1.1"/><path d="M-3,4.4 L4,4.4" stroke="#444" stroke-width="1"/><rect x="-2.2" y="-2.2" width="4.6" height="4.6" fill="#2a2a2a"/><rect x="-1.2" y="-1" width="2.2" height="2.4" fill="#e6e6e6"/><path d="M-6.8,1 L-2.5,1" fill="none" stroke="#111" stroke-width="1"/></g><g transform="translate(532.4,600.0) rotate(19) scale(1,0.81)"><rect x="-6.8" y="-6.8" width="13.6" height="13.6" rx="2.4" fill="#444" stroke="#111" stroke-width="1"/><path d="M-5,-5 L5,-5 L5,5 L-5,5 Z M-2.8,-2.8 L-2.8,3 L3,3 L3,-2.8 Z" fill="#a6a6a6" fill-rule="evenodd"/><path d="M-5.2,-4.3 L3.5,-4.3" stroke="#f0f0f0" stroke-width="1.2"/><path d="M-4.3,-3 L-4.3,4.5" stroke="#d0d0d0" stroke-width="0.9"/><path d="M4.4,-2 L4.4,5" stroke="#222" stroke-width="1.1"/><path d="M-3,4.4 L4,4.4" stroke="#444" stroke-width="1"/><rect x="-2.2" y="-2.2" width="4.6" height="4.6" fill="#2a2a2a"/><rect x="-1.2" y="-1" width="2.2" height="2.4" fill="#e6e6e6"/><path d="M1,-6.8 L1,-2.5 L3.5,-2.5" fill="none" stroke="#111" stroke-width="1"/></g><g transform="translate(545.2,603.5) rotate(-19) scale(1,0.74)"><rect x="-6.8" y="-6.8" width="13.6" height="13.6" rx="2.4" fill="#444" stroke="#111" stroke-width="1"/><path d="M-5,-5 L5,-5 L5,5 L-5,5 Z M-2.8,-2.8 L-2.8,3 L3,3 L3,-2.8 Z" fill="#a6a6a6" fill-rule="evenodd"/><path d="M-5.2,-4.3 L3.5,-4.3" stroke="#f0f0f0" stroke-width="1.2"/><path d="M-4.3,-3 L-4.3,4.5" stroke="#d0d0d0" stroke-width="0.9"/><path d="M4.4,-2 L4.4,5" stroke="#222" stroke-width="1.1"/><path d="M-3,4.4 L4,4.4" stroke="#444" stroke-width="1"/><rect x="-2.2" y="-2.2" width="4.6" height="4.6" fill="#2a2a2a"/><rect x="-1.2" y="-1" width="2.2" height="2.4" fill="#e6e6e6"/><path d="M-6.8,1 L-2.5,1" fill="none" stroke="#111" stroke-width="1"/></g><g transform="translate(557.8,605.5) rotate(-9) scale(1,0.96)"><rect x="-6.8" y="-6.8" width="13.6" height="13.6" rx="2.4" fill="#444" stroke="#111" stroke-width="1"/><path d="M-5,-5 L5,-5 L5,5 L-5,5 Z M-2.8,-2.8 L-2.8,3 L3,3 L3,-2.8 Z" fill="#a6a6a6" fill-rule="evenodd"/><path d="M-5.2,-4.3 L3.5,-4.3" stroke="#f0f0f0" stroke-width="1.2"/><path d="M-4.3,-3 L-4.3,4.5" stroke="#d0d0d0" stroke-width="0.9"/><path d="M4.4,-2 L4.4,5" stroke="#222" stroke-width="1.1"/><path d="M-3,4.4 L4,4.4" stroke="#444" stroke-width="1"/><rect x="-2.2" y="-2.2" width="4.6" height="4.6" fill="#2a2a2a"/><rect x="-1.2" y="-1" width="2.2" height="2.4" fill="#e6e6e6"/><path d="M1,-6.8 L1,-2.5 L3.5,-2.5" fill="none" stroke="#111" stroke-width="1"/></g><g transform="translate(540.0,550.0) rotate(41) scale(1,0.96)"><rect x="-6.8" y="-6.8" width="13.6" height="13.6" rx="2.4" fill="#444" stroke="#111" stroke-width="1"/><path d="M-5,-5 L5,-5 L5,5 L-5,5 Z M-2.8,-2.8 L-2.8,3 L3,3 L3,-2.8 Z" fill="#a6a6a6" fill-rule="evenodd"/><path d="M-5.2,-4.3 L3.5,-4.3" stroke="#f0f0f0" stroke-width="1.2"/><path d="M-4.3,-3 L-4.3,4.5" stroke="#d0d0d0" stroke-width="0.9"/><path d="M4.4,-2 L4.4,5" stroke="#222" stroke-width="1.1"/><path d="M-3,4.4 L4,4.4" stroke="#444" stroke-width="1"/><rect x="-2.2" y="-2.2" width="4.6" height="4.6" fill="#2a2a2a"/><rect x="-1.2" y="-1" width="2.2" height="2.4" fill="#e6e6e6"/><path d="M1,-6.8 L1,-2.5 L3.5,-2.5" fill="none" stroke="#111" stroke-width="1"/></g><g transform="translate(551.0,581.0) rotate(-26) scale(1,0.97)"><rect x="-6.8" y="-6.8" width="13.6" height="13.6" rx="2.4" fill="#444" stroke="#111" stroke-width="1"/><path d="M-5,-5 L5,-5 L5,5 L-5,5 Z M-2.8,-2.8 L-2.8,3 L3,3 L3,-2.8 Z" fill="#a6a6a6" fill-rule="evenodd"/><path d="M-5.2,-4.3 L3.5,-4.3" stroke="#f0f0f0" stroke-width="1.2"/><path d="M-4.3,-3 L-4.3,4.5" stroke="#d0d0d0" stroke-width="0.9"/><path d="M4.4,-2 L4.4,5" stroke="#222" stroke-width="1.1"/><path d="M-3,4.4 L4,4.4" stroke="#444" stroke-width="1"/><rect x="-2.2" y="-2.2" width="4.6" height="4.6" fill="#2a2a2a"/><rect x="-1.2" y="-1" width="2.2" height="2.4" fill="#e6e6e6"/><path d="M1,-6.8 L1,-2.5 L3.5,-2.5" fill="none" stroke="#111" stroke-width="1"/></g>
 <line x1="525" y1="536" x2="525" y2="612" stroke="#4a4a4a" stroke-width="1.7"/>
 <line x1="565.5" y1="536" x2="565.5" y2="612" stroke="#4a4a4a" stroke-width="1.7"/>
</g>

<g fill="#2a75c2" stroke="#3d4450" stroke-width="1"><circle cx="548.9" cy="87.7" r="2.95"/><circle cx="561.0" cy="95.9" r="2.95"/><circle cx="545.4" cy="104.5" r="2.95"/><circle cx="566.0" cy="109.9" r="2.95"/><circle cx="533.3" cy="119.2" r="2.95"/><circle cx="554.7" cy="119.2" r="2.95"/><circle cx="578.6" cy="119.2" r="2.95"/><circle cx="557.8" cy="130.2" r="2.95"/><circle cx="542.6" cy="137.2" r="2.95"/><circle cx="522.0" cy="142.6" r="2.95"/><circle cx="581.1" cy="140.0" r="2.95"/><circle cx="557.8" cy="150.0" r="2.95"/><circle cx="551.2" cy="162.2" r="2.95"/><circle cx="527.9" cy="173.0" r="2.95"/><circle cx="566.4" cy="175.3" r="2.95"/><circle cx="587.5" cy="170.0" r="2.95"/><circle cx="551.2" cy="182.0" r="2.95"/><circle cx="530.7" cy="193.8" r="2.95"/><circle cx="554.0" cy="193.8" r="2.95"/><circle cx="575.8" cy="193.8" r="2.95"/><circle cx="542.6" cy="202.6" r="2.95"/><circle cx="563.4" cy="208.0" r="2.95"/><circle cx="520.4" cy="210.8" r="2.95"/><circle cx="581.6" cy="219.7" r="2.95"/><circle cx="553.1" cy="229.0" r="2.95"/><circle cx="588.6" cy="236.5" r="2.95"/><circle cx="529.5" cy="238.8" r="2.95"/><circle cx="568.0" cy="242.6" r="2.95"/><circle cx="553.0" cy="249.3" r="2.95"/><circle cx="532.0" cy="260.5" r="2.95"/><circle cx="555.8" cy="260.5" r="2.95"/><circle cx="577.5" cy="260.5" r="2.95"/><circle cx="544.2" cy="269.6" r="2.95"/><circle cx="521.8" cy="277.7" r="2.95"/><circle cx="565.3" cy="274.9" r="2.95"/><circle cx="555.4" cy="286.0" r="2.95"/><circle cx="582.8" cy="286.0" r="2.95"/><circle cx="532.0" cy="296.6" r="2.95"/><circle cx="570.5" cy="300.0" r="2.95"/><circle cx="590.8" cy="294.0" r="2.95"/><circle cx="555.4" cy="306.4" r="2.95"/><circle cx="534.4" cy="317.6" r="2.95"/><circle cx="558.2" cy="317.6" r="2.95"/><circle cx="580.0" cy="317.6" r="2.95"/><circle cx="546.7" cy="327.0" r="2.95"/><circle cx="524.2" cy="335.0" r="2.95"/><circle cx="567.7" cy="332.3" r="2.95"/><circle cx="569.8" cy="343.9" r="2.95"/><circle cx="585.6" cy="343.9" r="2.95"/><circle cx="523.5" cy="356.9" r="2.95"/><circle cx="546.7" cy="354.4" r="2.95"/><circle cx="585.2" cy="356.9" r="2.95"/><circle cx="605.6" cy="351.6" r="2.95"/><circle cx="569.8" cy="363.9" r="2.95"/><circle cx="518.3" cy="377.9" r="2.95"/><circle cx="548.8" cy="375.0" r="2.95"/><circle cx="572.6" cy="375.0" r="2.95"/><circle cx="594.3" cy="375.0" r="2.95"/><circle cx="561.4" cy="384.6" r="2.95"/><circle cx="525.0" cy="395.4" r="2.95"/><circle cx="539.0" cy="392.3" r="2.95"/><circle cx="582.0" cy="389.8" r="2.95"/><circle cx="600.3" cy="401.0" r="2.95"/><circle cx="501.5" cy="406.0" r="2.95"/><circle cx="540.0" cy="409.0" r="2.95"/><circle cx="561.0" cy="403.0" r="2.95"/><circle cx="573.3" cy="408.0" r="2.95"/><circle cx="525.3" cy="415.8" r="2.95"/><circle cx="590.8" cy="418.6" r="2.95"/><circle cx="611.5" cy="415.8" r="2.95"/><circle cx="504.3" cy="427.3" r="2.95"/><circle cx="527.7" cy="427.3" r="2.95"/><circle cx="549.8" cy="427.3" r="2.95"/><circle cx="562.5" cy="433.6" r="2.95"/><circle cx="581.4" cy="430.8" r="2.95"/><circle cx="516.9" cy="436.0" r="2.95"/><circle cx="537.6" cy="441.4" r="2.95"/><circle cx="590.5" cy="442.0" r="2.95"/><circle cx="602.0" cy="439.3" r="2.95"/><circle cx="622.0" cy="439.3" r="2.95"/><circle cx="494.0" cy="444.5" r="2.95"/><circle cx="555.4" cy="453.0" r="2.95"/><circle cx="576.5" cy="451.5" r="2.95"/><circle cx="609.0" cy="454.3" r="2.95"/><circle cx="515.0" cy="463.0" r="2.95"/><circle cx="590.5" cy="463.8" r="2.95"/><circle cx="550.5" cy="470.0" r="2.95"/><circle cx="564.5" cy="468.3" r="2.95"/><circle cx="491.8" cy="473.0" r="2.95"/><circle cx="530.0" cy="475.7" r="2.95"/><circle cx="614.2" cy="474.7" r="2.95"/><circle cx="515.4" cy="482.4" r="2.95"/><circle cx="560.3" cy="483.7" r="2.95"/><circle cx="494.3" cy="494.2" r="2.95"/><circle cx="518.0" cy="494.2" r="2.95"/><circle cx="539.6" cy="494.2" r="2.95"/><circle cx="577.5" cy="494.2" r="2.95"/><circle cx="598.2" cy="491.0" r="2.95"/><circle cx="506.8" cy="503.4" r="2.95"/><circle cx="527.5" cy="508.2" r="2.95"/><circle cx="568.3" cy="506.3" r="2.95"/><circle cx="483.8" cy="511.0" r="2.95"/><circle cx="513.1" cy="520.6" r="2.95"/><circle cx="545.7" cy="520.0" r="2.95"/><circle cx="577.5" cy="517.5" r="2.95"/><circle cx="589.0" cy="515.0" r="2.95"/><circle cx="608.8" cy="515.0" r="2.95"/><circle cx="562.5" cy="527.0" r="2.95"/><circle cx="595.4" cy="530.2" r="2.95"/><circle cx="535.5" cy="532.4" r="2.95"/><circle cx="577.5" cy="539.4" r="2.95"/></g>

<!-- top flange -->
<g>
 <rect x="541.9" y="54" width="31.8" height="3" fill="#2a2a2a"/>
 <g><rect x="518.4" y="55.8" width="7.5" height="2.6" fill="#c8c8c8"/><rect x="519.6" y="55.8" width="0.8" height="2.6" fill="#666"/><rect x="521.8" y="55.8" width="0.8" height="2.6" fill="#666"/><rect x="524.0" y="55.8" width="0.8" height="2.6" fill="#666"/><rect x="518.4" y="80.4" width="7.5" height="3.0" fill="#c8c8c8"/><rect x="519.6" y="80.4" width="0.8" height="3.0" fill="#666"/><rect x="521.8" y="80.4" width="0.8" height="3.0" fill="#666"/><rect x="524.0" y="80.4" width="0.8" height="3.0" fill="#666"/><rect x="541.4" y="55.8" width="7.5" height="2.6" fill="#c8c8c8"/><rect x="542.6" y="55.8" width="0.8" height="2.6" fill="#666"/><rect x="544.8" y="55.8" width="0.8" height="2.6" fill="#666"/><rect x="547.0" y="55.8" width="0.8" height="2.6" fill="#666"/><rect x="541.4" y="80.4" width="7.5" height="3.0" fill="#c8c8c8"/><rect x="542.6" y="80.4" width="0.8" height="3.0" fill="#666"/><rect x="544.8" y="80.4" width="0.8" height="3.0" fill="#666"/><rect x="547.0" y="80.4" width="0.8" height="3.0" fill="#666"/><rect x="567.3" y="55.8" width="7.5" height="2.6" fill="#c8c8c8"/><rect x="568.5" y="55.8" width="0.8" height="2.6" fill="#666"/><rect x="570.7" y="55.8" width="0.8" height="2.6" fill="#666"/><rect x="572.9" y="55.8" width="0.8" height="2.6" fill="#666"/><rect x="567.3" y="80.4" width="7.5" height="3.0" fill="#c8c8c8"/><rect x="568.5" y="80.4" width="0.8" height="3.0" fill="#666"/><rect x="570.7" y="80.4" width="0.8" height="3.0" fill="#666"/><rect x="572.9" y="80.4" width="0.8" height="3.0" fill="#666"/><rect x="588.2" y="55.8" width="7.5" height="2.6" fill="#c8c8c8"/><rect x="589.4" y="55.8" width="0.8" height="2.6" fill="#666"/><rect x="591.6" y="55.8" width="0.8" height="2.6" fill="#666"/><rect x="593.8" y="55.8" width="0.8" height="2.6" fill="#666"/><rect x="588.2" y="80.4" width="7.5" height="3.0" fill="#c8c8c8"/><rect x="589.4" y="80.4" width="0.8" height="3.0" fill="#666"/><rect x="591.6" y="80.4" width="0.8" height="3.0" fill="#666"/><rect x="593.8" y="80.4" width="0.8" height="3.0" fill="#666"/></g>
 <rect x="514.2" y="58" width="85.4" height="22.4" fill="#1a1a1a"/>
 <rect x="515.5" y="59.5" width="37.5" height="8.8" fill="url(#flL)"/>
 <rect x="515.5" y="71" width="37.5" height="8.2" fill="url(#flL)"/>
 <rect x="561" y="59.5" width="37.3" height="8.8" fill="url(#flR)"/>
 <rect x="561" y="71" width="37.3" height="8.2" fill="url(#flR)"/>
 <rect x="554.5" y="56" width="5.2" height="30" fill="#9fd9f5"/>
</g>
<!-- vent -->
<g stroke="#1a1a1a" stroke-width="1.3">
 <path d="M550.3,23.4 L565.6,23.4 L570,54 L546.6,54 Z" fill="#9fd9f5"/>
 <path d="M565.6,25 L569.5,25 L570.5,53 Z" fill="#5a5a5a" stroke="none"/>
 <line x1="547" y1="50.4" x2="569.5" y2="50.4" stroke-width="1"/>
 <path d="M571.4,22.8 L579.6,22.8 L579.6,27.6 L581.2,27.6 L581.2,36.4 L571.4,36.4 Z" fill="#9fd9f5"/>
 <circle cx="567.8" cy="31.4" r="3.3" fill="#9fd9f5"/>
</g>
<g fill="#2a75c2" stroke="#3d4450" stroke-width="1">
 <circle cx="557.1" cy="31.4" r="2.95"/><circle cx="561.9" cy="40.1" r="2.95"/><circle cx="554.9" cy="46.7" r="2.95"/><circle cx="557.1" cy="54.7" r="2.95"/><circle cx="571.1" cy="31.4" r="2.95"/>
</g>
<!-- up arrow -->
<line x1="575.5" y1="8" x2="575.5" y2="21" stroke="#1a1a1a" stroke-width="2.6"/>
<path d="M570.8,9.8 L580.2,9.8 L575.5,1 Z" fill="#1a1a1a"/>

<!-- hook pipe -->
<path d="M615.75,94 L615.75,65 A8.8,8.8 0 0 1 624.55,56.2 L634.3,56.2 A8.8,8.8 0 0 1 643.1,65 L643.1,77.2" fill="none" stroke="#1a1a1a" stroke-width="9.6"/>
<path d="M615.75,96 L615.75,65 A8.8,8.8 0 0 1 624.55,56.2 L634.3,56.2 A8.8,8.8 0 0 1 643.1,65 L643.1,75.7" fill="none" stroke="#ffffff" stroke-width="6.6"/>
<line x1="638.5" y1="70.2" x2="647.7" y2="70.2" stroke="#1a1a1a" stroke-width="1.3"/>

<!-- bottom flange -->
<g>
 <g><rect x="501.0" y="627.6" width="7.5" height="2.8" fill="#c0c0c0"/><rect x="502.2" y="627.6" width="0.8" height="2.8" fill="#666"/><rect x="504.4" y="627.6" width="0.8" height="2.8" fill="#666"/><rect x="506.6" y="627.6" width="0.8" height="2.8" fill="#666"/><rect x="604.0" y="627.6" width="7.5" height="2.8" fill="#c0c0c0"/><rect x="605.2" y="627.6" width="0.8" height="2.8" fill="#666"/><rect x="607.4" y="627.6" width="0.8" height="2.8" fill="#666"/><rect x="609.6" y="627.6" width="0.8" height="2.8" fill="#666"/></g>
 <rect x="499.5" y="612.4" width="36.7" height="15.2" fill="#1a1a1a"/>
 <rect x="500.5" y="613.5" width="35" height="5.5" fill="url(#flL)"/>
 <rect x="500.5" y="620.5" width="35" height="6" fill="url(#flL)"/>
 <rect x="587" y="612.4" width="28.7" height="15.2" fill="#1a1a1a"/>
 <rect x="588" y="613.5" width="27" height="5.5" fill="url(#flR)"/>
 <rect x="588" y="620.5" width="27" height="6" fill="url(#flR)"/>
 <rect x="555" y="612.4" width="13.5" height="15.2" fill="#1a1a1a"/>
 <rect x="555.5" y="613.5" width="12.5" height="5.5" fill="#e8e8e8"/>
 <rect x="555.5" y="620.5" width="12.5" height="6" fill="#e8e8e8"/>
</g>
<!-- pipes -->
<path d="M537.1,611.5 L555,611.5 L555,656.4 A20,20 0 0 1 535,676.4 L462.4,676.4 L462.4,656.7 L533.5,656.7 A3.6,3.6 0 0 0 537.1,653.1 Z" fill="#9fd9f5"/>
<path d="M537.1,611.5 L537.1,653.1 A3.6,3.6 0 0 1 533.5,656.7 L462.4,656.7 L462.4,676.4 L535,676.4 A20,20 0 0 0 555,656.4 L555,611.5" fill="none" stroke="#1a1a1a" stroke-width="1.7"/>
<path d="M568.5,611.5 L587,611.5 L587,652.5 A4,4 0 0 0 591,656.5 L661.7,656.5 L661.7,675.9 L588.5,675.9 A20,20 0 0 1 568.5,655.9 Z" fill="#9fd9f5"/>
<path d="M568.5,611.5 L568.5,655.9 A20,20 0 0 0 588.5,675.9 L661.7,675.9 L661.7,656.5 L591,656.5 A4,4 0 0 1 587,652.5 L587,611.5" fill="none" stroke="#1a1a1a" stroke-width="1.7"/>
<g fill="#2a75c2" stroke="#3d4450" stroke-width="1"><circle cx="470.8" cy="661.7" r="2.95"/><circle cx="478.5" cy="662.6" r="2.95"/><circle cx="487.0" cy="661.7" r="2.95"/><circle cx="494.7" cy="661.7" r="2.95"/><circle cx="503.0" cy="663.9" r="2.95"/><circle cx="510.3" cy="660.5" r="2.95"/><circle cx="524.6" cy="663.9" r="2.95"/><circle cx="532.7" cy="662.6" r="2.95"/><circle cx="543.0" cy="662.6" r="2.95"/><circle cx="465.4" cy="667.0" r="2.95"/><circle cx="471.7" cy="669.8" r="2.95"/><circle cx="481.6" cy="671.6" r="2.95"/><circle cx="488.7" cy="668.5" r="2.95"/><circle cx="497.7" cy="671.0" r="2.95"/><circle cx="508.5" cy="669.8" r="2.95"/><circle cx="516.9" cy="667.4" r="2.95"/><circle cx="527.3" cy="669.8" r="2.95"/><circle cx="537.1" cy="669.8" r="2.95"/><circle cx="540.2" cy="656.0" r="2.95"/><circle cx="548.8" cy="656.0" r="2.95"/><circle cx="543.0" cy="648.3" r="2.95"/><circle cx="548.8" cy="642.9" r="2.95"/><circle cx="542.5" cy="635.7" r="2.95"/><circle cx="548.8" cy="629.8" r="2.95"/><circle cx="543.0" cy="624.4" r="2.95"/><circle cx="551.1" cy="620.1" r="2.95"/><circle cx="540.7" cy="614.7" r="2.95"/></g>
<!-- down arrow -->
<line x1="578.4" y1="600.5" x2="578.4" y2="612" stroke="#1a1a1a" stroke-width="2.2"/>
<path d="M574.1,611 L582.7,611 L578.4,619.5 Z" fill="#1a1a1a"/>

<!-- circle -->
<circle cx="149.6" cy="359.7" r="143" fill="url(#circ)" stroke="#161616" stroke-width="2.1"/>
<g transform="translate(209.5,347) rotate(-3.9)"><path d="M-48.0,-44.0 -48.0,44.0 -48.0,44.0 -47.6,46.0 -46.4,47.9 -44.3,49.7 -41.6,51.5 -38.1,53.1 -33.9,54.6 -29.2,55.9 -24.0,57.0 -18.4,57.9 -12.4,58.5 -6.3,58.9 0.0,59.0 6.3,58.9 12.4,58.5 18.4,57.9 24.0,57.0 29.2,55.9 33.9,54.6 38.1,53.1 41.6,51.5 44.3,49.7 46.4,47.9 47.6,46.0 48.0,44.0 48.0,-44.0 48.0,-44.0 47.6,-42.0 46.4,-40.1 44.3,-38.3 41.6,-36.5 38.1,-34.9 33.9,-33.4 29.2,-32.1 24.0,-31.0 18.4,-30.1 12.4,-29.5 6.3,-29.1 0.0,-29.0 -6.3,-29.1 -12.4,-29.5 -18.4,-30.1 -24.0,-31.0 -29.2,-32.1 -33.9,-33.4 -38.1,-34.9 -41.6,-36.5 -44.3,-38.3 -46.4,-40.1 -47.6,-42.0 -48.0,-44.0 Z" fill="url(#metal)" stroke="#141414" stroke-width="1.7" stroke-linejoin="round"/><path d="M-50.0,-27.0 -42.0,-27.0 -42.0,4.0 -50.0,4.0 Z" fill="url(#circfix2)" stroke="none"/><path d="M-48.0,-27 L-42.0,-27 L-42.0,4 L-48.0,4" fill="none" stroke="#141414" stroke-width="1.6"/><path d="M30.2,-21.3 27.1,-20.6 23.8,-20.0 20.3,-19.4 16.7,-18.9 13.0,-18.6 9.2,-18.3 5.3,-18.1 1.4,-18.0 -2.5,-18.0 -6.4,-18.1 -10.3,-18.3 -14.0,-18.7 -14.0,9.3 -10.3,9.7 -6.4,9.9 -2.5,10.0 1.4,10.0 5.3,9.9 9.2,9.7 13.0,9.4 16.7,9.1 20.3,8.6 23.8,8.0 27.1,7.4 30.2,6.7 Z" fill="#2a2a2a" stroke="#141414" stroke-width="2.3" stroke-linejoin="round"/><path d="M29.6,-19.2 26.3,-18.5 22.9,-17.8 19.3,-17.3 15.6,-16.8 11.8,-16.5 7.9,-16.2 4.0,-16.1 0.0,-16.0 0.0,-16.0 0.4,-12.1 1.5,-8.3 3.3,-4.7 5.7,-1.4 8.8,1.4 12.3,3.7 16.1,5.4 20.2,6.4 24.3,6.6 28.2,6.1 Z" fill="url(#metalD)"/><path d="M0.0,-16.0 0.4,-12.1 1.5,-8.3 3.3,-4.7 5.7,-1.4 8.8,1.4 12.3,3.7 16.1,5.4 20.2,6.4 24.3,6.6 28.2,6.1" fill="none" stroke="#141414" stroke-width="1.6"/><path d="M2.5,19.0 -1.5,19.0 -5.4,18.9 -9.4,18.7 -13.2,18.4 -17.0,18.0 -20.7,17.5 -24.2,17.0 -27.5,16.3 -30.7,15.5 -33.6,14.7 -36.4,13.8 -38.8,12.8 -38.8,43.8 -36.4,44.8 -33.6,45.7 -30.7,46.5 -27.5,47.3 -24.2,48.0 -20.7,48.5 -17.0,49.0 -13.2,49.4 -9.4,49.7 -5.4,49.9 -1.5,50.0 2.5,50.0 Z" fill="url(#metalD)" stroke="#141414" stroke-width="2.3" stroke-linejoin="round"/><path d="M-8.3,20.8 -8.8,25.0 -10.0,29.0 -12.1,32.8 -14.8,36.1 -18.2,39.0 -22.0,41.2 -26.1,42.6 -30.2,43.3 -34.2,43.2 -37.8,42.2" fill="none" stroke="#141414" stroke-width="1.6"/><path d="M47.0,10.1 46.4,10.8 45.8,11.5 45.1,12.1 44.3,12.8 43.4,13.4 42.4,14.0 41.3,14.7 40.1,15.2 38.8,15.8 37.5,16.4 36.0,16.9 34.5,17.4 34.5,48.4 36.0,47.9 37.5,47.4 38.8,46.8 40.1,46.2 41.3,45.7 42.4,45.0 43.4,44.4 44.3,43.8 45.1,43.1 45.8,42.5 46.4,41.8 47.0,41.1 Z" fill="#3a3a3a" stroke="#141414" stroke-width="1.8" stroke-linejoin="round"/><path d="M44.5,15.6 44.1,15.9 43.7,16.2 43.3,16.5 42.9,16.7 42.4,17.0 42.0,17.3 41.5,17.5 41.0,17.8 40.5,18.1 39.9,18.3 39.4,18.6 38.8,18.8 38.8,43.8 39.4,43.6 39.9,43.3 40.5,43.1 41.0,42.8 41.5,42.5 42.0,42.3 42.4,42.0 42.9,41.7 43.3,41.5 43.7,41.2 44.1,40.9 44.5,40.6 Z" fill="#cfcfcf"/><path d="M41.6,17.5 42.8,30.8 44.5,40.6" fill="none" stroke="#141414" stroke-width="1.2"/><path d="M-48.0,41.3 -47.4,43.2 -46.0,45.1 -43.9,46.9 -41.0,48.6 -37.5,50.2 -33.3,51.6 -28.7,52.8 -23.5,53.9 -18.0,54.7 -12.2,55.3 -6.1,55.7 0.0,55.8 6.1,55.7 12.2,55.3 18.0,54.7 23.5,53.9 28.7,52.8 33.3,51.6 37.5,50.2 41.0,48.6 43.9,46.9 46.0,45.1 47.4,43.2 48.0,41.3" fill="none" stroke="#e4e4e4" stroke-width="1.8"/><path d="M-48.0,38.7 -47.4,40.6 -46.0,42.5 -43.9,44.3 -41.0,46.0 -37.5,47.6 -33.3,49.0 -28.7,50.2 -23.5,51.3 -18.0,52.1 -12.2,52.7 -6.1,53.1 0.0,53.2 6.1,53.1 12.2,52.7 18.0,52.1 23.5,51.3 28.7,50.2 33.3,49.0 37.5,47.6 41.0,46.0 43.9,44.3 46.0,42.5 47.4,40.6 48.0,38.7" fill="none" stroke="#1e1e1e" stroke-width="1.3"/><ellipse cx="0" cy="-44.0" rx="48.0" ry="15.0" fill="#bdbdbd" stroke="#141414" stroke-width="1.7"/><ellipse cx="0" cy="-44.0" rx="44.5" ry="12.0" fill="url(#metalIn)" stroke="#222" stroke-width="0.8"/><path d="M-27.0,-45.5 8.0,-47.0 9.0,-32.0 -26.0,-32.0 Z" fill="#1e1e1e"/><path d="M-23,-43.5 L-2,-44.5 Q6,-39.0 3,-33.0 L-23,-33.0 Z" fill="url(#metal)"/><path d="M0,-45.0 L7,-46.2 L7,-33.0 L4,-33.0 Q7,-40.0 0,-45.0 Z" fill="#ffffff"/></g><g transform="translate(92.4,377.5) rotate(-47) scale(1,-1)"><path d="M-48.0,-44.0 -48.0,44.0 -48.0,44.0 -47.6,46.3 -46.4,48.7 -44.3,50.9 -41.6,53.0 -38.1,55.0 -33.9,56.7 -29.2,58.3 -24.0,59.6 -18.4,60.6 -12.4,61.4 -6.3,61.8 0.0,62.0 6.3,61.8 12.4,61.4 18.4,60.6 24.0,59.6 29.2,58.3 33.9,56.7 38.1,55.0 41.6,53.0 44.3,50.9 46.4,48.7 47.6,46.3 48.0,44.0 48.0,-44.0 48.0,-44.0 47.6,-41.7 46.4,-39.3 44.3,-37.1 41.6,-35.0 38.1,-33.0 33.9,-31.3 29.2,-29.7 24.0,-28.4 18.4,-27.4 12.4,-26.6 6.3,-26.2 0.0,-26.0 -6.3,-26.2 -12.4,-26.6 -18.4,-27.4 -24.0,-28.4 -29.2,-29.7 -33.9,-31.3 -38.1,-33.0 -41.6,-35.0 -44.3,-37.1 -46.4,-39.3 -47.6,-41.7 -48.0,-44.0 Z" fill="url(#metal)" stroke="#141414" stroke-width="1.7" stroke-linejoin="round"/><path d="M-50.0,-27.0 -42.0,-27.0 -42.0,4.0 -50.0,4.0 Z" fill="url(#circfix1)" stroke="none"/><path d="M-48.0,-27 L-42.0,-27 L-42.0,4 L-48.0,4" fill="none" stroke="#141414" stroke-width="1.6"/><path d="M30.2,-19.0 27.1,-18.1 23.8,-17.4 20.3,-16.7 16.7,-16.1 13.0,-15.7 9.2,-15.3 5.3,-15.1 1.4,-15.0 -2.5,-15.0 -6.4,-15.2 -10.3,-15.4 -14.0,-15.8 -14.0,12.2 -10.3,12.6 -6.4,12.8 -2.5,13.0 1.4,13.0 5.3,12.9 9.2,12.7 13.0,12.3 16.7,11.9 20.3,11.3 23.8,10.6 27.1,9.9 30.2,9.0 Z" fill="#2a2a2a" stroke="#141414" stroke-width="2.3" stroke-linejoin="round"/><path d="M29.6,-16.8 26.3,-15.9 22.9,-15.2 19.3,-14.5 15.6,-14.0 11.8,-13.6 7.9,-13.2 4.0,-13.1 0.0,-13.0 0.0,-13.0 0.4,-9.1 1.5,-5.3 3.3,-1.7 5.7,1.6 8.8,4.4 12.3,6.6 16.1,8.2 20.2,9.1 24.3,9.2 28.2,8.6 Z" fill="url(#metalD)"/><path d="M0.0,-13.0 0.4,-9.1 1.5,-5.3 3.3,-1.7 5.7,1.6 8.8,4.4 12.3,6.6 16.1,8.2 20.2,9.1 24.3,9.2 28.2,8.6" fill="none" stroke="#141414" stroke-width="1.6"/><path d="M2.5,22.0 -1.5,22.0 -5.4,21.9 -9.4,21.7 -13.2,21.3 -17.0,20.8 -20.7,20.2 -24.2,19.5 -27.5,18.7 -30.7,17.8 -33.6,16.8 -36.4,15.7 -38.8,14.6 -38.8,45.6 -36.4,46.7 -33.6,47.8 -30.7,48.8 -27.5,49.7 -24.2,50.5 -20.7,51.2 -17.0,51.8 -13.2,52.3 -9.4,52.7 -5.4,52.9 -1.5,53.0 2.5,53.0 Z" fill="url(#metalD)" stroke="#141414" stroke-width="2.3" stroke-linejoin="round"/><path d="M-8.3,23.7 -8.8,27.9 -10.0,31.9 -12.1,35.7 -14.8,39.0 -18.2,41.7 -22.0,43.8 -26.1,45.2 -30.2,45.7 -34.2,45.3 -37.8,44.1" fill="none" stroke="#141414" stroke-width="1.6"/><path d="M47.0,10.7 46.4,11.6 45.8,12.4 45.1,13.2 44.3,13.9 43.4,14.7 42.4,15.5 41.3,16.2 40.1,16.9 38.8,17.6 37.5,18.2 36.0,18.9 34.5,19.5 34.5,50.5 36.0,49.9 37.5,49.2 38.8,48.6 40.1,47.9 41.3,47.2 42.4,46.5 43.4,45.7 44.3,44.9 45.1,44.2 45.8,43.4 46.4,42.6 47.0,41.7 Z" fill="#3a3a3a" stroke="#141414" stroke-width="1.8" stroke-linejoin="round"/><path d="M44.5,16.7 44.1,17.1 43.7,17.4 43.3,17.7 42.9,18.1 42.4,18.4 42.0,18.7 41.5,19.0 41.0,19.4 40.5,19.7 39.9,20.0 39.4,20.3 38.8,20.6 38.8,45.6 39.4,45.3 39.9,45.0 40.5,44.7 41.0,44.4 41.5,44.0 42.0,43.7 42.4,43.4 42.9,43.1 43.3,42.7 43.7,42.4 44.1,42.1 44.5,41.7 Z" fill="#cfcfcf"/><path d="M41.6,19.0 42.8,32.2 44.5,41.7" fill="none" stroke="#141414" stroke-width="1.2"/><path d="M-48.0,41.4 -47.4,43.7 -46.0,46.0 -43.9,48.1 -41.0,50.2 -37.5,52.0 -33.3,53.7 -28.7,55.2 -23.5,56.5 -18.0,57.5 -12.2,58.2 -6.1,58.7 0.0,58.8 6.1,58.7 12.2,58.2 18.0,57.5 23.5,56.5 28.7,55.2 33.3,53.7 37.5,52.0 41.0,50.2 43.9,48.1 46.0,46.0 47.4,43.7 48.0,41.4" fill="none" stroke="#e4e4e4" stroke-width="1.8"/><path d="M-48.0,38.8 -47.4,41.1 -46.0,43.4 -43.9,45.5 -41.0,47.6 -37.5,49.4 -33.3,51.1 -28.7,52.6 -23.5,53.9 -18.0,54.9 -12.2,55.6 -6.1,56.1 0.0,56.2 6.1,56.1 12.2,55.6 18.0,54.9 23.5,53.9 28.7,52.6 33.3,51.1 37.5,49.4 41.0,47.6 43.9,45.5 46.0,43.4 47.4,41.1 48.0,38.8" fill="none" stroke="#1e1e1e" stroke-width="1.3"/><ellipse cx="0" cy="-44.0" rx="48.0" ry="18.0" fill="#bdbdbd" stroke="#141414" stroke-width="1.7"/><ellipse cx="0" cy="-44.0" rx="44.5" ry="15.0" fill="url(#metalIn)" stroke="#222" stroke-width="0.8"/><path d="M-27.0,-45.5 8.0,-47.0 9.0,-29.0 -26.0,-29.0 Z" fill="#1e1e1e"/><path d="M-23,-43.5 L-2,-44.5 Q6,-39.0 3,-30.0 L-23,-30.0 Z" fill="url(#metal)"/><path d="M0,-45.0 L7,-46.2 L7,-30.0 L4,-30.0 Q7,-40.0 0,-45.0 Z" fill="#ffffff"/></g>

<!-- leader lines -->
<g stroke="#161616" stroke-width="2.7" fill="none">
 <line x1="581" y1="32.4" x2="804.7" y2="32.4"/>
 <line x1="566" y1="175.4" x2="804.7" y2="175.4"/>
 <line x1="675.7" y1="458.3" x2="804.7" y2="458.3"/>
 <polyline points="277.4,588.5 406,588.5 484.3,660.5" stroke-width="2.8"/>
 <line x1="272.6" y1="432.6" x2="536.8" y2="570" stroke-width="2.9"/>
</g>
<!-- arrows bottom -->
<line x1="415.2" y1="666.2" x2="442" y2="666.2" stroke="#1a1a1a" stroke-width="3"/>
<path d="M441.2,656.3 L441.2,675.7 L457,666.2 Z" fill="#1a1a1a"/>
<line x1="666.5" y1="666.5" x2="693" y2="666.5" stroke="#1a1a1a" stroke-width="3"/>
<path d="M692,656.5 L692,675.5 L708.8,666.5 Z" fill="#1a1a1a"/>

<!-- text -->
<text class="b" x="809.3" y="39.2">Flexvent Super</text>
<text class="b" x="809.3" y="64.2">med kontraventil</text>
<text class="b" x="808.8" y="181.4">Mikrobobler</text>
<text x="96.5" y="199.6" style="stroke:#1a1a1a;stroke-width:0.5px;letter-spacing:0.18px">PALL-ringer</text>
<text class="b" x="809" y="463.7">Trykk = 0 bar</text>
<text class="b" x="163.5" y="593.7">Mikrobobler</text>
<text class="b" x="164" y="645.9">Fra anlegget</text>
<text class="b" x="163.5" y="669.7">Varmt vann med luftbobler</text>
<text class="b" x="714" y="673.7">Til anlegget</text>
</svg>
</body></html>
